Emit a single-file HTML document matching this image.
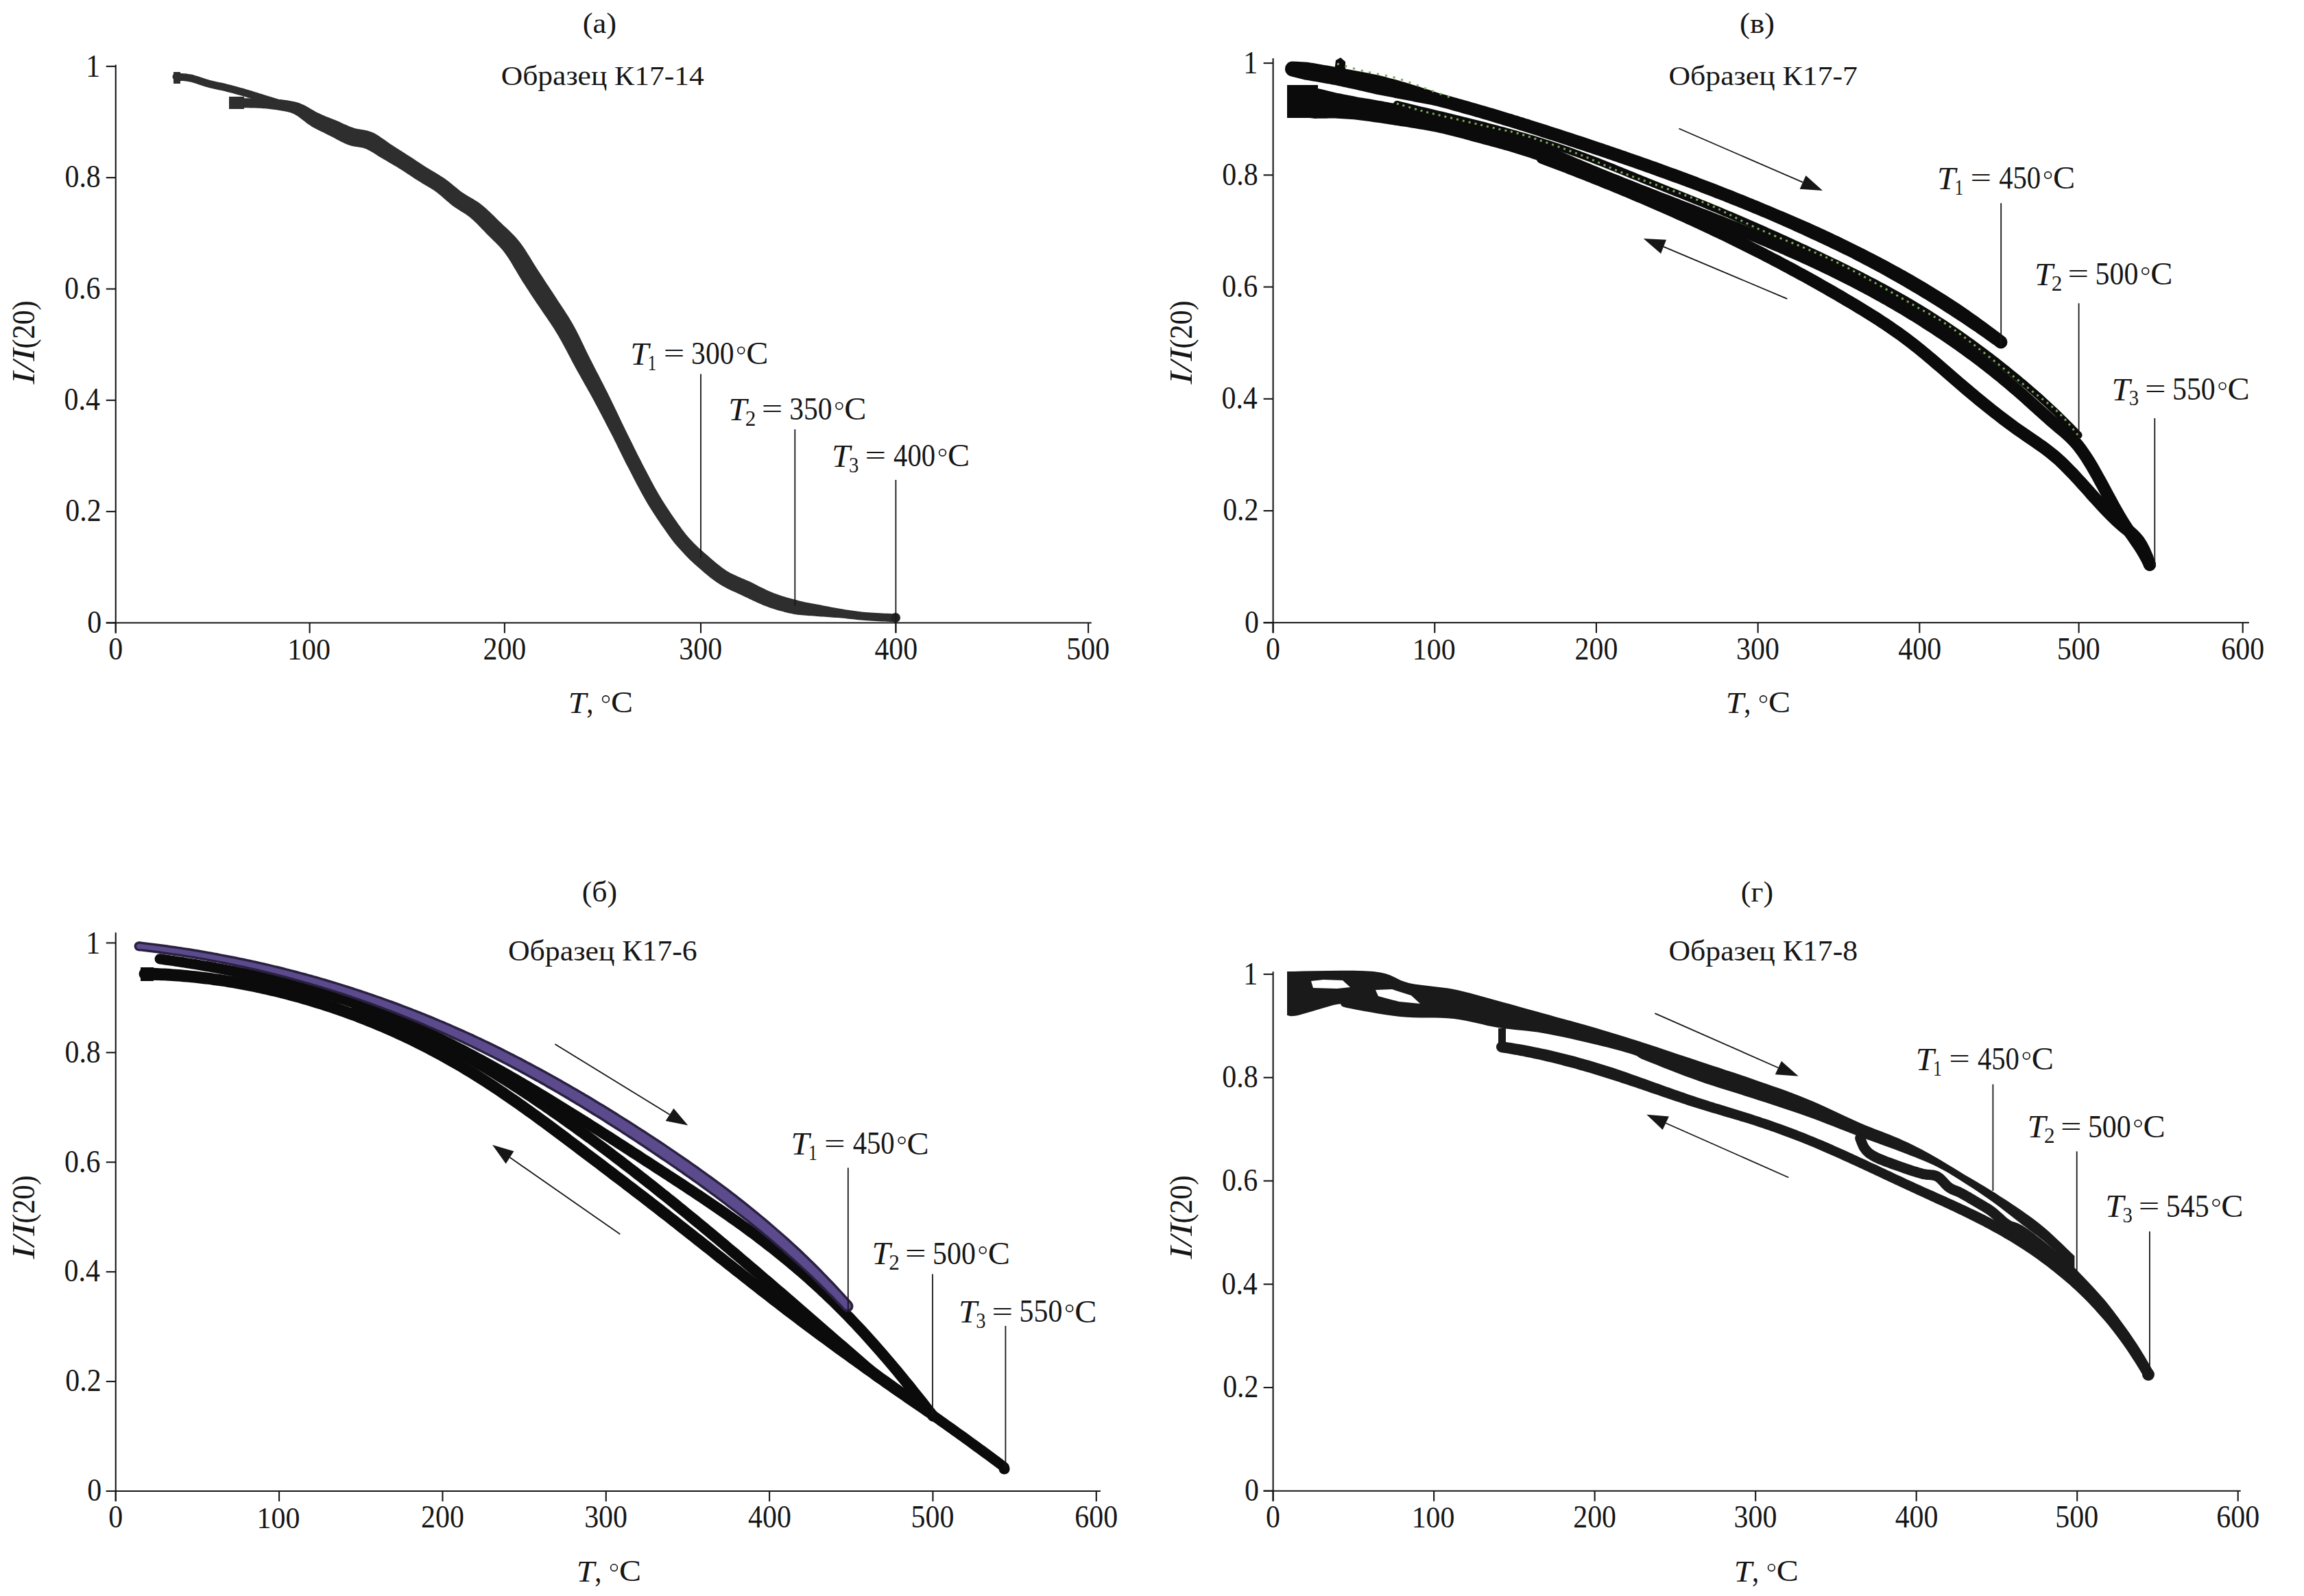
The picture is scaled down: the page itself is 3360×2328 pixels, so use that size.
<!DOCTYPE html>
<html><head><meta charset="utf-8"><style>
html,body{margin:0;padding:0;background:#fff;}
svg{display:block;}
text{font-family:"Liberation Serif",serif;fill:#161616;}
</style></head><body>
<svg xmlns="http://www.w3.org/2000/svg" width="3360" height="2328" viewBox="0 0 3360 2328">
<rect width="3360" height="2328" fill="#fff"/>
<rect x="253" y="105" width="10" height="17" fill="#2e2e2e"/>
<path d="M256.6,117.5 L257.6,117.6 L258.9,117.6 L260.4,117.7 L262.0,117.8 L263.7,117.9 L265.5,118.0 L267.4,118.1 L269.3,118.3 L271.3,118.5 L273.2,118.7 L275.1,119.0 L276.9,119.4 L278.7,119.8 L280.6,120.3 L282.6,120.9 L284.6,121.5 L286.8,122.2 L288.9,123.0 L291.2,123.7 L293.4,124.5 L295.7,125.2 L298.0,126.0 L300.3,126.7 L302.6,127.3 L304.8,127.9 L307.0,128.4 L309.3,129.0 L311.5,129.5 L313.7,130.0 L315.8,130.4 L318.0,130.9 L320.2,131.4 L322.3,131.8 L324.4,132.3 L326.6,132.8 L328.7,133.3 L330.8,133.9 L333.0,134.4 L335.1,135.0 L337.3,135.5 L339.4,136.1 L341.6,136.7 L343.7,137.3 L345.9,137.9 L348.0,138.5 L350.2,139.1 L352.3,139.7 L354.5,140.3 L356.6,140.9 L358.8,141.5 L360.9,142.2 L363.0,142.8 L365.2,143.5 L367.4,144.2 L369.5,144.9 L371.7,145.5 L373.9,146.2 L376.0,146.9 L378.2,147.6 L380.4,148.3 L382.6,148.9 L385.0,149.7 L387.5,150.4 L390.0,151.2 L392.5,152.0 L395.0,152.8 L397.4,153.5 L399.6,154.2 L401.7,154.8 L403.6,155.4 L405.1,155.9 L406.4,156.3 L409.6,145.7 L408.4,145.4 L406.8,144.9 L404.9,144.3 L402.9,143.7 L400.6,143.0 L398.2,142.2 L395.8,141.5 L393.2,140.7 L390.7,139.9 L388.3,139.2 L385.9,138.4 L383.6,137.7 L381.5,137.1 L379.3,136.4 L377.1,135.7 L375.0,135.0 L372.8,134.4 L370.6,133.7 L368.5,133.0 L366.3,132.3 L364.1,131.7 L361.9,131.0 L359.7,130.4 L357.5,129.7 L355.3,129.1 L353.2,128.5 L351.0,127.9 L348.8,127.3 L346.6,126.7 L344.4,126.1 L342.2,125.5 L340.1,124.9 L337.9,124.3 L335.7,123.8 L333.5,123.2 L331.3,122.7 L329.1,122.1 L326.9,121.6 L324.7,121.1 L322.5,120.6 L320.3,120.2 L318.2,119.7 L316.0,119.2 L313.9,118.7 L311.7,118.3 L309.6,117.8 L307.5,117.2 L305.4,116.7 L303.4,116.1 L301.2,115.5 L299.1,114.8 L296.9,114.0 L294.7,113.3 L292.4,112.5 L290.2,111.8 L288.0,111.1 L285.7,110.4 L283.5,109.7 L281.3,109.1 L279.1,108.6 L277.0,108.2 L274.7,107.9 L272.5,107.6 L270.4,107.3 L268.3,107.2 L266.2,107.0 L264.3,106.9 L262.5,106.8 L260.9,106.7 L259.5,106.7 L258.4,106.6 L257.4,106.5Z" fill="#2e2e2e"/>
<circle cx="257.0" cy="112.0" r="5.5" fill="#2e2e2e"/>
<circle cx="408.0" cy="151.0" r="5.5" fill="#2e2e2e"/>
<rect x="334" y="141" width="22" height="18" fill="#2e2e2e"/>
<path d="M344.8,157.0 L346.7,157.0 L349.0,157.1 L351.8,157.1 L354.9,157.2 L358.2,157.2 L361.7,157.3 L365.3,157.4 L368.9,157.5 L372.4,157.6 L375.8,157.7 L378.8,157.8 L381.6,158.0 L384.0,158.2 L386.4,158.3 L388.6,158.5 L390.8,158.7 L392.8,159.0 L394.8,159.2 L396.8,159.4 L398.8,159.7 L400.8,160.0 L402.8,160.3 L404.8,160.6 L406.9,160.9 L409.1,161.3 L411.4,161.7 L413.8,162.1 L416.3,162.6 L418.8,163.1 L421.2,163.6 L423.6,164.0 L425.9,164.5 L427.9,164.9 L429.8,165.3 L431.4,165.6 L432.6,165.9 L435.4,152.1 L434.1,151.9 L432.6,151.6 L430.7,151.2 L428.7,150.8 L426.4,150.3 L424.0,149.8 L421.5,149.3 L419.0,148.8 L416.4,148.3 L413.9,147.9 L411.4,147.5 L409.1,147.1 L406.9,146.8 L404.8,146.4 L402.8,146.1 L400.7,145.8 L398.6,145.6 L396.5,145.3 L394.4,145.1 L392.2,144.8 L389.9,144.6 L387.5,144.4 L385.1,144.2 L382.4,144.0 L379.5,143.9 L376.3,143.7 L372.9,143.6 L369.3,143.5 L365.7,143.4 L362.0,143.3 L358.5,143.2 L355.1,143.2 L352.0,143.1 L349.3,143.1 L347.0,143.0 L345.2,143.0Z" fill="#2e2e2e"/>
<circle cx="345.0" cy="150.0" r="7.0" fill="#2e2e2e"/>
<circle cx="434.0" cy="159.0" r="7.0" fill="#2e2e2e"/>
<path d="M406.3,158.8 L407.6,159.3 L409.3,159.8 L411.1,160.4 L413.1,161.0 L415.3,161.6 L417.6,162.3 L419.9,163.0 L422.2,163.8 L424.5,164.6 L426.6,165.5 L428.6,166.3 L430.4,167.2 L432.0,168.2 L433.8,169.3 L435.6,170.6 L437.5,172.0 L439.4,173.4 L441.4,175.0 L443.5,176.6 L445.6,178.2 L447.8,179.9 L450.0,181.5 L452.4,183.1 L454.7,184.7 L457.1,186.0 L459.4,187.2 L461.7,188.4 L463.9,189.6 L466.1,190.7 L468.3,191.8 L470.5,192.8 L472.7,193.8 L474.8,194.9 L476.9,195.9 L478.9,196.9 L481.0,197.9 L483.0,198.9 L485.0,200.0 L487.0,201.1 L489.2,202.3 L491.3,203.4 L493.5,204.6 L495.7,205.8 L498.0,206.9 L500.4,208.1 L502.8,209.2 L505.2,210.3 L507.8,211.3 L510.6,212.2 L513.4,212.9 L516.0,213.4 L518.5,213.9 L520.8,214.3 L523.0,214.6 L525.0,214.9 L526.9,215.2 L528.6,215.6 L530.1,216.0 L531.6,216.4 L533.0,217.0 L534.6,217.6 L536.3,218.4 L538.1,219.3 L540.0,220.4 L542.0,221.5 L544.1,222.8 L546.2,224.1 L548.4,225.5 L550.7,226.9 L552.9,228.4 L555.3,229.8 L557.7,231.2 L559.9,232.5 L562.1,233.8 L564.3,235.1 L566.5,236.4 L568.7,237.7 L570.9,239.0 L573.0,240.2 L575.2,241.5 L577.4,242.8 L579.5,244.1 L581.7,245.4 L583.8,246.7 L585.9,248.1 L588.1,249.4 L590.2,250.8 L592.3,252.2 L594.5,253.7 L596.6,255.1 L598.8,256.5 L601.0,258.0 L603.2,259.4 L605.4,260.9 L607.6,262.3 L609.9,263.7 L612.1,265.1 L614.4,266.5 L616.7,267.9 L618.9,269.2 L621.0,270.4 L623.2,271.7 L625.3,272.9 L627.3,274.2 L629.4,275.4 L631.4,276.7 L633.4,278.0 L635.3,279.4 L637.2,280.8 L639.2,282.4 L641.2,284.0 L643.2,285.7 L645.3,287.5 L647.4,289.4 L649.5,291.3 L651.7,293.2 L654.0,295.1 L656.2,297.0 L658.6,298.9 L660.9,300.7 L663.4,302.5 L665.8,304.1 L668.1,305.6 L670.4,307.1 L672.6,308.4 L674.7,309.8 L676.8,311.1 L678.8,312.3 L680.7,313.6 L682.5,314.9 L684.4,316.3 L686.2,317.7 L688.0,319.4 L690.0,321.1 L691.9,322.9 L693.9,324.8 L695.9,326.8 L698.0,328.9 L700.0,331.0 L702.1,333.2 L704.3,335.4 L706.4,337.6 L708.6,339.9 L710.8,342.2 L713.1,344.5 L715.4,346.8 L717.7,349.0 L719.9,351.2 L722.1,353.3 L724.2,355.4 L726.3,357.6 L728.4,359.8 L730.4,362.0 L732.4,364.3 L734.4,366.7 L736.3,369.2 L738.2,371.9 L740.2,374.8 L742.3,378.0 L744.4,381.3 L746.5,384.8 L748.6,388.4 L750.7,392.0 L752.9,395.6 L755.0,399.2 L757.1,402.8 L759.2,406.2 L761.2,409.5 L763.1,412.5 L765.0,415.3 L766.7,418.0 L768.3,420.5 L770.0,423.0 L771.6,425.4 L773.2,427.9 L774.8,430.4 L776.5,432.9 L778.3,435.7 L780.2,438.6 L782.3,441.7 L784.6,445.1 L787.0,448.6 L789.5,452.2 L792.0,455.9 L794.6,459.7 L797.3,463.5 L799.9,467.4 L802.5,471.3 L805.1,475.2 L807.6,479.1 L810.0,483.0 L812.3,486.8 L814.6,490.6 L816.8,494.5 L819.1,498.4 L821.2,502.4 L823.4,506.5 L825.6,510.6 L827.8,514.7 L830.0,518.9 L832.2,523.1 L834.4,527.4 L836.6,531.6 L838.9,535.8 L841.2,540.0 L843.6,544.2 L845.9,548.3 L848.2,552.4 L850.5,556.6 L852.8,560.7 L855.2,564.8 L857.5,568.9 L859.8,573.0 L862.0,577.1 L864.3,581.2 L866.5,585.3 L868.7,589.4 L870.9,593.5 L873.0,597.6 L875.2,601.7 L877.4,605.8 L879.5,609.9 L881.7,614.0 L883.8,618.2 L885.9,622.3 L888.1,626.4 L890.2,630.6 L892.4,634.7 L894.5,638.8 L896.5,643.0 L898.6,647.1 L900.6,651.3 L902.7,655.4 L904.7,659.6 L906.8,663.8 L908.9,668.0 L911.0,672.2 L913.1,676.4 L915.3,680.6 L917.5,684.8 L919.7,689.1 L921.9,693.3 L924.1,697.7 L926.4,702.0 L928.7,706.4 L931.0,710.7 L933.3,715.1 L935.7,719.5 L938.1,723.8 L940.5,728.0 L942.9,732.3 L945.4,736.4 L947.9,740.6 L950.6,744.7 L953.3,748.9 L956.0,753.1 L958.7,757.2 L961.5,761.3 L964.1,765.2 L966.8,769.0 L969.3,772.6 L971.7,776.0 L974.0,779.2 L976.1,782.2 L978.0,784.8 L979.8,787.2 L981.5,789.4 L983.1,791.4 L984.5,793.2 L986.0,794.9 L987.3,796.5 L988.7,798.0 L990.0,799.5 L991.4,801.0 L992.8,802.5 L994.3,804.2 L995.8,805.8 L997.3,807.5 L998.8,809.1 L1000.3,810.7 L1001.9,812.3 L1003.4,813.9 L1005.1,815.5 L1006.7,817.2 L1008.5,818.8 L1010.4,820.6 L1012.4,822.4 L1014.5,824.3 L1016.7,826.2 L1019.1,828.3 L1021.6,830.5 L1024.2,832.8 L1027.0,835.2 L1029.8,837.6 L1032.8,840.0 L1035.8,842.4 L1038.8,844.7 L1041.9,847.0 L1045.0,849.2 L1048.1,851.3 L1051.2,853.2 L1054.3,855.1 L1057.5,856.8 L1060.6,858.4 L1063.7,859.9 L1066.7,861.4 L1069.7,862.8 L1072.7,864.1 L1075.6,865.4 L1078.5,866.8 L1081.3,868.1 L1084.1,869.4 L1086.9,870.7 L1089.8,872.0 L1092.6,873.4 L1095.5,874.8 L1098.4,876.2 L1101.4,877.5 L1104.3,878.9 L1107.3,880.3 L1110.4,881.6 L1113.4,882.9 L1116.6,884.1 L1119.7,885.3 L1122.8,886.4 L1126.0,887.5 L1129.1,888.5 L1132.3,889.4 L1135.5,890.4 L1138.6,891.3 L1141.8,892.1 L1144.9,892.9 L1148.0,893.7 L1151.1,894.4 L1154.2,895.1 L1157.2,895.8 L1160.3,896.2 L1163.4,896.7 L1166.4,897.0 L1169.3,897.3 L1172.2,897.6 L1175.1,897.8 L1177.9,898.0 L1180.7,898.2 L1183.5,898.3 L1186.3,898.5 L1189.0,898.7 L1191.9,898.9 L1194.7,899.2 L1197.7,899.4 L1200.6,899.6 L1203.6,899.8 L1206.5,900.0 L1209.5,900.3 L1212.5,900.5 L1215.5,900.7 L1218.4,900.9 L1221.4,901.1 L1224.3,901.3 L1227.2,901.5 L1230.0,901.8 L1232.8,902.1 L1235.5,902.4 L1238.2,902.7 L1240.9,903.0 L1243.7,903.3 L1246.4,903.6 L1249.3,903.9 L1252.2,904.2 L1255.2,904.5 L1258.3,904.7 L1261.5,905.0 L1265.0,905.2 L1268.9,905.5 L1273.0,905.8 L1277.2,906.0 L1281.5,906.2 L1285.8,906.4 L1290.0,906.6 L1293.9,906.8 L1297.6,907.0 L1300.8,907.2 L1303.5,907.3 L1305.7,907.4 L1306.3,895.4 L1304.1,895.3 L1301.4,895.2 L1298.1,895.0 L1294.5,894.8 L1290.6,894.7 L1286.4,894.5 L1282.2,894.2 L1277.9,894.0 L1273.7,893.8 L1269.6,893.5 L1265.9,893.3 L1262.5,893.0 L1259.4,892.7 L1256.4,892.4 L1253.5,892.0 L1250.7,891.7 L1247.9,891.3 L1245.2,890.9 L1242.5,890.5 L1239.9,890.2 L1237.2,889.8 L1234.4,889.4 L1231.7,888.9 L1228.8,888.5 L1225.9,888.0 L1223.0,887.5 L1220.2,887.0 L1217.2,886.4 L1214.3,885.9 L1211.4,885.4 L1208.5,884.8 L1205.6,884.3 L1202.7,883.7 L1199.8,883.2 L1197.0,882.6 L1194.1,882.1 L1191.3,881.5 L1188.5,881.0 L1185.7,880.5 L1182.9,880.0 L1180.2,879.5 L1177.6,879.0 L1174.9,878.4 L1172.3,877.9 L1169.7,877.3 L1167.0,876.7 L1164.4,876.0 L1161.8,875.2 L1159.0,874.6 L1156.1,873.8 L1153.3,873.1 L1150.4,872.3 L1147.5,871.5 L1144.6,870.6 L1141.7,869.7 L1138.8,868.8 L1135.9,867.8 L1133.1,866.8 L1130.3,865.8 L1127.5,864.7 L1124.8,863.6 L1122.1,862.5 L1119.4,861.2 L1116.6,860.0 L1113.9,858.6 L1111.1,857.3 L1108.3,855.9 L1105.5,854.4 L1102.7,853.0 L1099.8,851.5 L1096.9,850.1 L1093.9,848.6 L1090.9,847.2 L1087.8,845.9 L1084.8,844.6 L1081.8,843.4 L1078.9,842.1 L1076.0,840.9 L1073.2,839.6 L1070.4,838.3 L1067.7,837.0 L1065.0,835.7 L1062.5,834.2 L1059.9,832.7 L1057.4,831.1 L1054.8,829.2 L1052.1,827.2 L1049.4,825.1 L1046.7,822.9 L1043.9,820.7 L1041.3,818.4 L1038.6,816.2 L1036.0,813.9 L1033.6,811.7 L1031.2,809.7 L1028.9,807.7 L1026.8,805.9 L1024.9,804.3 L1023.2,802.8 L1021.5,801.3 L1019.9,799.9 L1018.4,798.5 L1016.9,797.1 L1015.5,795.7 L1014.1,794.3 L1012.7,792.9 L1011.2,791.4 L1009.7,789.8 L1008.2,788.3 L1006.8,786.8 L1005.5,785.4 L1004.3,784.0 L1003.1,782.7 L1002.0,781.3 L1000.7,779.9 L999.5,778.3 L998.1,776.6 L996.6,774.6 L994.9,772.4 L993.1,769.8 L991.1,767.0 L988.8,763.9 L986.5,760.5 L984.0,757.0 L981.4,753.3 L978.8,749.5 L976.2,745.5 L973.5,741.6 L970.9,737.5 L968.3,733.5 L965.8,729.5 L963.4,725.6 L961.1,721.7 L958.7,717.6 L956.4,713.5 L954.1,709.4 L951.8,705.1 L949.5,700.9 L947.3,696.6 L945.0,692.3 L942.8,688.0 L940.5,683.7 L938.3,679.4 L936.1,675.2 L934.0,671.0 L931.8,666.8 L929.7,662.7 L927.7,658.6 L925.6,654.4 L923.6,650.3 L921.5,646.1 L919.5,642.0 L917.4,637.8 L915.4,633.7 L913.3,629.5 L911.2,625.3 L909.2,621.1 L907.2,616.9 L905.2,612.7 L903.2,608.5 L901.2,604.3 L899.2,600.1 L897.2,595.9 L895.2,591.7 L893.1,587.4 L891.1,583.2 L889.0,579.0 L886.9,574.7 L884.8,570.5 L882.6,566.2 L880.5,562.0 L878.3,557.7 L876.1,553.5 L874.0,549.3 L871.8,545.1 L869.6,540.9 L867.5,536.7 L865.3,532.5 L863.2,528.3 L861.1,524.2 L859.0,520.0 L857.0,515.9 L854.9,511.7 L852.9,507.4 L850.9,503.2 L848.8,498.9 L846.7,494.6 L844.6,490.3 L842.5,486.0 L840.3,481.7 L838.0,477.4 L835.7,473.2 L833.2,469.0 L830.7,464.8 L828.1,460.6 L825.4,456.4 L822.8,452.3 L820.1,448.2 L817.5,444.3 L814.9,440.4 L812.5,436.7 L810.1,433.1 L807.8,429.6 L805.7,426.3 L803.7,423.2 L801.7,420.3 L799.9,417.5 L798.2,414.9 L796.5,412.4 L794.9,410.0 L793.3,407.6 L791.7,405.1 L790.1,402.6 L788.4,400.1 L786.6,397.3 L784.8,394.5 L782.9,391.5 L780.8,388.3 L778.8,384.9 L776.6,381.4 L774.4,377.8 L772.1,374.1 L769.8,370.4 L767.5,366.7 L765.1,363.1 L762.7,359.5 L760.2,356.1 L757.7,352.8 L755.2,349.7 L752.7,346.8 L750.2,344.0 L747.7,341.4 L745.2,338.9 L742.8,336.6 L740.4,334.3 L738.0,332.1 L735.7,330.0 L733.5,327.9 L731.3,325.8 L729.2,323.8 L727.0,321.7 L724.8,319.5 L722.6,317.3 L720.4,315.1 L718.2,312.9 L715.9,310.7 L713.6,308.6 L711.3,306.4 L709.0,304.3 L706.7,302.3 L704.3,300.2 L701.8,298.3 L699.3,296.3 L696.8,294.6 L694.3,293.0 L691.9,291.5 L689.6,290.1 L687.3,288.7 L685.1,287.5 L683.0,286.3 L680.9,285.0 L678.9,283.8 L677.0,282.6 L675.1,281.3 L673.1,279.9 L671.1,278.4 L669.0,276.7 L666.9,275.0 L664.8,273.3 L662.6,271.5 L660.4,269.7 L658.1,267.8 L655.8,266.0 L653.5,264.1 L651.1,262.4 L648.7,260.6 L646.3,259.0 L643.9,257.4 L641.6,255.9 L639.3,254.5 L637.1,253.2 L634.8,251.8 L632.6,250.6 L630.5,249.3 L628.3,248.0 L626.3,246.8 L624.2,245.6 L622.1,244.3 L620.1,242.9 L617.9,241.6 L615.8,240.2 L613.7,238.8 L611.5,237.3 L609.4,235.9 L607.2,234.5 L605.0,233.0 L602.8,231.6 L600.6,230.1 L598.4,228.7 L596.2,227.3 L594.0,225.9 L591.8,224.4 L589.6,223.0 L587.4,221.7 L585.3,220.3 L583.1,218.9 L581.0,217.5 L578.8,216.2 L576.7,214.8 L574.5,213.5 L572.4,212.1 L570.3,210.8 L568.4,209.5 L566.4,208.1 L564.3,206.6 L562.3,205.1 L560.1,203.5 L557.9,202.0 L555.6,200.4 L553.3,198.8 L550.9,197.3 L548.4,195.8 L545.8,194.3 L543.0,193.0 L540.1,191.9 L537.2,191.0 L534.4,190.3 L531.8,189.7 L529.3,189.3 L527.0,188.9 L524.8,188.6 L522.8,188.3 L521.0,187.9 L519.3,187.6 L517.7,187.2 L516.2,186.7 L514.4,186.1 L512.6,185.5 L510.6,184.7 L508.6,183.9 L506.6,183.1 L504.5,182.1 L502.4,181.2 L500.2,180.2 L498.0,179.2 L495.7,178.1 L493.4,177.1 L491.0,176.1 L488.7,175.1 L486.5,174.2 L484.2,173.3 L482.0,172.5 L479.8,171.6 L477.7,170.7 L475.5,169.9 L473.4,169.0 L471.3,168.1 L469.3,167.2 L467.2,166.3 L465.3,165.3 L463.3,164.4 L461.3,163.4 L459.2,162.3 L457.1,161.1 L454.9,159.7 L452.6,158.4 L450.3,157.0 L447.9,155.7 L445.4,154.3 L442.9,153.1 L440.3,151.9 L437.6,150.8 L434.9,149.8 L432.1,149.0 L429.3,148.3 L426.5,147.7 L423.8,147.2 L421.2,146.7 L418.7,146.3 L416.3,146.0 L414.2,145.7 L412.4,145.5 L410.9,145.3 L409.7,145.2Z" fill="#2e2e2e"/>
<circle cx="408.0" cy="152.0" r="7.0" fill="#2e2e2e"/>
<circle cx="1306.0" cy="901.4" r="6.0" fill="#2e2e2e"/>
<circle cx="1306" cy="901" r="7" fill="#222"/>
<path d="M1883.4,111.4 L1887.3,112.4 L1891.3,113.5 L1895.2,114.5 L1899.1,115.5 L1903.0,116.5 L1907.0,117.1 L1911.0,117.8 L1915.0,118.4 L1919.0,119.1 L1923.0,119.8 L1927.0,120.5 L1930.9,121.2 L1934.9,121.9 L1938.9,122.6 L1942.9,123.4 L1946.9,124.1 L1950.9,125.0 L1954.8,125.8 L1958.8,126.7 L1962.8,127.5 L1966.8,128.4 L1970.8,129.2 L1974.7,130.1 L1978.7,131.0 L1982.7,131.9 L1986.7,132.8 L1990.6,133.8 L1994.6,134.7 L1998.6,135.6 L2002.6,136.6 L2006.6,137.4 L2010.6,138.2 L2014.6,139.0 L2018.6,139.7 L2022.6,140.5 L2026.7,141.3 L2030.7,142.1 L2034.7,143.0 L2038.8,143.7 L2042.8,144.5 L2046.9,145.3 L2050.9,146.0 L2055.0,146.8 L2059.0,147.6 L2063.0,148.4 L2067.1,149.2 L2071.2,150.0 L2075.2,150.7 L2079.3,151.5 L2083.4,152.3 L2087.5,153.1 L2091.5,153.9 L2095.6,154.8 L2099.6,155.9 L2103.6,157.0 L2107.6,158.0 L2111.6,159.1 L2115.6,160.2 L2119.6,161.4 L2123.6,162.5 L2127.6,163.6 L2131.6,164.7 L2135.6,165.9 L2139.6,167.0 L2143.6,168.1 L2147.7,169.3 L2151.7,170.5 L2155.7,171.6 L2159.7,172.8 L2163.7,174.0 L2167.7,175.1 L2171.7,176.3 L2175.7,177.5 L2179.7,178.7 L2183.7,179.9 L2187.7,181.1 L2191.7,182.4 L2195.7,183.6 L2199.8,184.8 L2203.8,186.0 L2207.8,187.3 L2211.8,188.5 L2215.8,189.8 L2219.8,191.0 L2223.8,192.3 L2227.8,193.5 L2231.8,194.8 L2235.8,196.0 L2239.9,197.3 L2243.9,198.6 L2247.9,199.9 L2251.9,201.2 L2255.9,202.4 L2259.9,203.7 L2263.9,205.0 L2267.9,206.3 L2271.9,207.6 L2276.0,208.9 L2280.0,210.3 L2284.0,211.6 L2288.0,212.9 L2292.0,214.2 L2296.0,215.5 L2300.0,216.9 L2304.1,218.2 L2308.1,219.5 L2312.1,220.9 L2316.1,222.2 L2320.1,223.5 L2324.1,224.9 L2328.1,226.2 L2332.1,227.6 L2336.2,228.9 L2340.2,230.3 L2344.2,231.7 L2348.2,233.0 L2352.2,234.4 L2356.2,235.8 L2360.2,237.2 L2364.2,238.5 L2368.2,239.9 L2372.3,241.3 L2376.3,242.7 L2380.3,244.1 L2384.3,245.5 L2388.3,246.9 L2392.3,248.3 L2396.3,249.7 L2400.3,251.2 L2404.3,252.6 L2408.4,254.0 L2412.4,255.5 L2416.4,256.9 L2420.4,258.4 L2424.4,259.8 L2428.4,261.3 L2432.4,262.7 L2436.4,264.2 L2440.4,265.7 L2444.4,267.1 L2448.4,268.6 L2452.5,270.1 L2456.5,271.6 L2460.5,273.1 L2464.5,274.6 L2468.5,276.1 L2472.5,277.6 L2476.5,279.1 L2480.5,280.7 L2484.5,282.2 L2488.5,283.7 L2492.5,285.3 L2496.5,286.8 L2500.5,288.4 L2504.6,290.0 L2508.6,291.5 L2512.6,293.1 L2516.6,294.7 L2520.6,296.3 L2524.6,297.9 L2528.6,299.5 L2532.6,301.1 L2536.6,302.7 L2540.6,304.3 L2544.6,306.0 L2548.6,307.6 L2552.6,309.3 L2556.6,310.9 L2560.6,312.6 L2564.7,314.2 L2568.7,315.9 L2572.7,317.6 L2576.7,319.3 L2580.7,321.0 L2584.7,322.7 L2588.7,324.4 L2592.7,326.2 L2596.7,327.9 L2600.6,329.7 L2604.6,331.5 L2608.6,333.3 L2612.6,335.1 L2616.6,336.9 L2620.6,338.7 L2624.6,340.5 L2628.6,342.3 L2632.5,344.2 L2636.5,346.0 L2640.5,347.9 L2644.5,349.7 L2648.5,351.5 L2652.5,353.4 L2656.5,355.3 L2660.5,357.2 L2664.5,359.1 L2668.5,361.0 L2672.5,362.9 L2676.5,364.8 L2680.5,366.7 L2684.5,368.7 L2688.5,370.7 L2692.5,372.6 L2696.5,374.6 L2700.5,376.6 L2704.4,378.7 L2708.4,380.7 L2712.4,382.8 L2716.4,384.9 L2720.4,387.0 L2724.4,389.1 L2728.4,391.2 L2732.3,393.3 L2736.3,395.5 L2740.3,397.6 L2744.3,399.8 L2748.3,402.0 L2752.2,404.2 L2756.2,406.5 L2760.2,408.7 L2764.2,411.0 L2768.2,413.2 L2772.1,415.5 L2776.1,417.8 L2780.1,420.2 L2784.1,422.5 L2788.1,424.9 L2792.1,427.2 L2796.0,429.6 L2800.0,432.0 L2804.0,434.4 L2808.0,436.8 L2812.0,439.3 L2816.0,441.8 L2820.0,444.3 L2824.0,446.8 L2828.0,449.3 L2831.9,451.8 L2835.9,454.4 L2839.9,457.0 L2843.9,459.6 L2847.9,462.2 L2851.9,464.8 L2856.0,467.4 L2860.0,470.1 L2864.0,472.8 L2868.0,475.4 L2872.0,478.2 L2876.1,480.9 L2880.1,483.6 L2884.1,486.4 L2888.1,489.2 L2892.2,492.1 L2896.2,494.9 L2900.2,497.8 L2904.2,500.7 L2908.3,503.6 L2912.3,506.6 L2923.7,491.4 L2919.7,488.3 L2915.7,485.2 L2911.7,482.2 L2907.7,479.2 L2903.6,476.2 L2899.6,473.2 L2895.6,470.3 L2891.6,467.4 L2887.6,464.5 L2883.6,461.6 L2879.5,458.7 L2875.5,455.9 L2871.5,453.1 L2867.5,450.3 L2863.5,447.5 L2859.5,444.8 L2855.4,442.1 L2851.4,439.4 L2847.3,436.8 L2843.3,434.2 L2839.2,431.6 L2835.2,429.0 L2831.1,426.5 L2827.1,423.9 L2823.0,421.4 L2819.0,418.9 L2814.9,416.5 L2810.9,414.0 L2806.8,411.6 L2802.8,409.2 L2798.7,406.8 L2794.7,404.4 L2790.6,402.1 L2786.6,399.7 L2782.5,397.4 L2778.4,395.1 L2774.4,392.9 L2770.3,390.6 L2766.3,388.4 L2762.2,386.2 L2758.1,384.0 L2754.1,381.8 L2750.0,379.6 L2746.0,377.4 L2741.9,375.3 L2737.9,373.2 L2733.8,371.1 L2729.7,369.0 L2725.7,366.9 L2721.6,364.8 L2717.6,362.8 L2713.5,360.7 L2709.5,358.7 L2705.4,356.7 L2701.4,354.7 L2697.3,352.7 L2693.3,350.7 L2689.2,348.8 L2685.2,346.8 L2681.2,344.8 L2677.1,342.9 L2673.1,341.0 L2669.0,339.1 L2665.0,337.2 L2661.0,335.3 L2656.9,333.4 L2652.9,331.5 L2648.8,329.7 L2644.8,327.9 L2640.7,326.1 L2636.7,324.3 L2632.6,322.5 L2628.6,320.7 L2624.5,319.0 L2620.5,317.2 L2616.4,315.5 L2612.4,313.7 L2608.3,312.0 L2604.3,310.3 L2600.2,308.6 L2596.2,306.9 L2592.1,305.2 L2588.1,303.5 L2584.1,301.8 L2580.0,300.1 L2576.0,298.4 L2572.0,296.7 L2567.9,295.0 L2563.9,293.3 L2559.9,291.7 L2555.8,290.0 L2551.8,288.4 L2547.8,286.7 L2543.7,285.1 L2539.7,283.5 L2535.7,281.9 L2531.6,280.2 L2527.6,278.6 L2523.6,277.0 L2519.5,275.4 L2515.5,273.9 L2511.5,272.3 L2507.4,270.7 L2503.4,269.1 L2499.4,267.6 L2495.4,266.0 L2491.3,264.5 L2487.3,262.9 L2483.3,261.4 L2479.2,259.9 L2475.2,258.3 L2471.2,256.8 L2467.1,255.3 L2463.1,253.8 L2459.1,252.3 L2455.0,250.8 L2451.0,249.3 L2447.0,247.8 L2443.0,246.3 L2438.9,244.9 L2434.9,243.4 L2430.9,241.9 L2426.8,240.5 L2422.8,239.0 L2418.8,237.6 L2414.7,236.1 L2410.7,234.7 L2406.7,233.3 L2402.7,231.8 L2398.6,230.4 L2394.6,229.0 L2390.6,227.6 L2386.5,226.2 L2382.5,224.8 L2378.5,223.4 L2374.5,222.0 L2370.4,220.6 L2366.4,219.2 L2362.4,217.8 L2358.4,216.4 L2354.3,215.0 L2350.3,213.7 L2346.3,212.3 L2342.2,210.9 L2338.2,209.6 L2334.2,208.2 L2330.2,206.9 L2326.1,205.5 L2322.1,204.2 L2318.1,202.8 L2314.1,201.5 L2310.0,200.1 L2306.0,198.8 L2302.0,197.5 L2298.0,196.2 L2293.9,194.8 L2289.9,193.5 L2285.9,192.2 L2281.9,190.9 L2277.8,189.6 L2273.8,188.3 L2269.8,187.0 L2265.7,185.7 L2261.7,184.4 L2257.7,183.1 L2253.7,181.8 L2249.6,180.5 L2245.6,179.2 L2241.6,177.9 L2237.6,176.7 L2233.5,175.4 L2229.5,174.1 L2225.5,172.9 L2221.4,171.6 L2217.4,170.4 L2213.4,169.1 L2209.3,167.9 L2205.3,166.6 L2201.3,165.4 L2197.3,164.2 L2193.2,163.0 L2189.2,161.7 L2185.2,160.5 L2181.1,159.3 L2177.1,158.1 L2173.1,156.9 L2169.0,155.7 L2165.0,154.6 L2161.0,153.4 L2156.9,152.2 L2152.9,151.0 L2148.9,149.9 L2144.9,148.7 L2140.8,147.6 L2136.8,146.4 L2132.8,145.3 L2128.7,144.2 L2124.7,143.0 L2120.7,141.9 L2116.6,140.8 L2112.6,139.7 L2108.6,138.6 L2104.5,137.5 L2100.5,136.4 L2096.5,135.2 L2092.5,133.9 L2088.6,132.6 L2084.6,131.3 L2080.6,130.0 L2076.6,128.7 L2072.7,127.4 L2068.7,126.1 L2064.7,124.9 L2060.7,123.7 L2056.7,122.5 L2052.7,121.3 L2048.7,120.1 L2044.7,118.9 L2040.8,117.7 L2036.7,116.6 L2032.7,115.5 L2028.7,114.5 L2024.7,113.4 L2020.7,112.3 L2016.7,111.3 L2012.6,110.2 L2008.6,109.3 L2004.5,108.5 L2000.5,107.7 L1996.4,106.8 L1992.4,106.0 L1988.3,105.3 L1984.2,104.5 L1980.2,103.7 L1976.1,102.9 L1972.0,102.2 L1968.0,101.4 L1963.9,100.7 L1959.9,100.0 L1955.8,99.3 L1951.7,98.6 L1947.7,97.8 L1943.6,97.1 L1939.6,96.3 L1935.5,95.6 L1931.5,94.9 L1927.4,94.2 L1923.4,93.5 L1919.3,92.8 L1915.3,92.1 L1911.2,91.4 L1907.2,90.8 L1903.1,90.4 L1898.9,90.2 L1894.8,90.0 L1890.7,89.8 L1886.6,89.7Z" fill="#0b0b0b"/>
<circle cx="1885.0" cy="100.5" r="11.0" fill="#0b0b0b"/>
<circle cx="2918.0" cy="499.0" r="9.5" fill="#0b0b0b"/>
<path d="M1946.0,104.0 L1948.0,88.0 L1955.0,84.0 L1962.0,90.0 L1962.0,104.0Z" fill="#0b0b0b"/>
<rect x="1877" y="124" width="45" height="48" fill="#0b0b0b"/>
<path d="M1878.2,169.2 L1882.2,169.5 L1886.2,169.9 L1890.1,170.2 L1894.1,170.6 L1898.1,171.0 L1902.1,171.3 L1906.1,171.7 L1910.1,172.1 L1914.0,172.5 L1918.0,172.9 L1922.1,172.8 L1926.1,172.8 L1930.1,172.7 L1934.2,172.7 L1938.2,172.6 L1942.3,172.6 L1946.3,172.6 L1950.3,172.8 L1954.4,173.0 L1958.4,173.3 L1962.4,173.5 L1966.4,173.8 L1970.5,174.0 L1974.5,174.3 L1978.5,174.7 L1982.5,175.2 L1986.5,175.8 L1990.5,176.3 L1994.5,176.8 L1998.5,177.3 L2002.5,177.9 L2006.5,178.5 L2010.5,179.0 L2014.5,179.6 L2018.5,180.2 L2022.5,180.8 L2026.5,181.4 L2030.5,182.1 L2034.5,182.7 L2038.5,183.3 L2042.5,183.9 L2046.6,184.5 L2050.6,185.1 L2054.6,185.7 L2058.6,186.4 L2062.6,187.0 L2066.6,187.7 L2070.7,188.4 L2074.7,189.1 L2078.7,189.8 L2082.7,190.5 L2086.7,191.2 L2090.7,192.0 L2094.8,192.8 L2098.7,193.7 L2102.7,194.6 L2106.7,195.5 L2110.7,196.5 L2114.7,197.4 L2118.7,198.4 L2122.7,199.4 L2126.7,200.4 L2130.6,201.5 L2134.6,202.6 L2138.6,203.7 L2142.6,204.8 L2146.5,206.0 L2150.5,207.1 L2154.5,208.1 L2158.5,209.1 L2162.5,210.2 L2166.5,211.2 L2170.5,212.3 L2174.6,213.4 L2178.6,214.4 L2182.6,215.6 L2186.6,216.7 L2190.6,217.8 L2194.6,219.0 L2198.6,220.1 L2202.7,221.3 L2206.7,222.5 L2210.7,223.7 L2214.7,225.0 L2218.7,226.2 L2222.7,227.5 L2226.8,228.8 L2230.8,230.1 L2234.8,231.4 L2238.8,232.7 L2242.8,234.0 L2246.9,235.4 L2250.9,236.7 L2254.9,238.1 L2259.0,239.5 L2263.0,240.8 L2267.0,242.3 L2271.1,243.7 L2275.1,245.1 L2279.1,246.6 L2283.2,248.1 L2287.2,249.6 L2291.3,251.1 L2295.3,252.6 L2299.3,254.2 L2303.3,255.9 L2307.3,257.5 L2311.3,259.2 L2315.3,260.9 L2319.3,262.6 L2323.3,264.4 L2327.3,266.1 L2331.3,267.9 L2335.4,269.7 L2339.4,271.5 L2343.4,273.4 L2347.4,275.2 L2351.4,277.1 L2355.4,279.0 L2359.4,280.9 L2363.4,282.8 L2367.4,284.7 L2371.4,286.7 L2375.4,288.7 L2379.4,290.7 L2383.5,292.7 L2392.5,274.9 L2388.5,272.8 L2384.4,270.7 L2380.4,268.7 L2376.3,266.6 L2372.3,264.6 L2368.2,262.6 L2364.2,260.6 L2360.1,258.7 L2356.1,256.7 L2352.0,254.8 L2347.9,252.9 L2343.9,251.0 L2339.8,249.2 L2335.8,247.3 L2331.7,245.5 L2327.7,243.7 L2323.6,241.9 L2319.5,240.1 L2315.5,238.3 L2311.4,236.6 L2307.4,234.9 L2303.3,233.1 L2299.3,231.4 L2295.3,229.6 L2291.2,227.9 L2287.2,226.1 L2283.2,224.4 L2279.2,222.7 L2275.1,221.1 L2271.1,219.4 L2267.1,217.8 L2263.0,216.1 L2259.0,214.5 L2255.0,212.9 L2250.9,211.4 L2246.9,209.8 L2242.9,208.3 L2238.8,206.8 L2234.8,205.3 L2230.7,203.9 L2226.7,202.4 L2222.6,201.0 L2218.6,199.6 L2214.5,198.2 L2210.5,196.8 L2206.4,195.4 L2202.4,194.1 L2198.3,192.7 L2194.3,191.4 L2190.2,190.1 L2186.2,188.8 L2182.1,187.5 L2178.1,186.2 L2174.0,185.0 L2170.0,183.7 L2165.9,182.5 L2161.9,181.3 L2157.8,180.1 L2153.7,179.1 L2149.6,178.0 L2145.5,177.0 L2141.5,176.1 L2137.4,175.1 L2133.3,174.1 L2129.2,173.2 L2125.1,172.2 L2121.0,171.2 L2117.0,170.2 L2112.9,169.2 L2108.8,168.3 L2104.7,167.4 L2100.7,166.4 L2096.6,165.5 L2092.6,164.4 L2088.5,163.4 L2084.5,162.4 L2080.4,161.4 L2076.4,160.4 L2072.4,159.5 L2068.3,158.5 L2064.3,157.6 L2060.2,156.7 L2056.2,155.7 L2052.1,154.8 L2048.1,153.9 L2044.0,153.1 L2040.0,152.2 L2035.9,151.4 L2031.8,150.6 L2027.8,149.9 L2023.7,149.1 L2019.7,148.4 L2015.6,147.6 L2011.5,146.9 L2007.5,146.2 L2003.4,145.5 L1999.3,144.8 L1995.3,144.1 L1991.2,143.5 L1987.1,142.8 L1983.1,142.2 L1979.0,141.5 L1975.0,140.6 L1971.0,139.8 L1966.9,139.0 L1962.9,138.2 L1958.8,137.4 L1954.8,136.6 L1950.8,135.9 L1946.7,134.9 L1942.7,133.9 L1938.7,133.0 L1934.7,132.0 L1930.7,131.1 L1926.6,130.1 L1922.6,129.2 L1918.5,128.8 L1914.4,128.3 L1910.4,127.9 L1906.3,127.5 L1902.2,127.2 L1898.1,126.8 L1894.1,126.4 L1890.0,126.1 L1885.9,125.7 L1881.8,125.4Z" fill="#0b0b0b"/>
<path d="M2245.3,226.7 L2249.3,228.6 L2253.4,230.4 L2257.4,232.2 L2261.5,234.0 L2265.5,235.8 L2269.6,237.5 L2273.6,239.3 L2277.6,241.0 L2281.7,242.8 L2285.7,244.5 L2289.8,246.3 L2293.8,248.0 L2297.9,249.7 L2301.9,251.4 L2305.9,253.1 L2310.0,254.8 L2314.0,256.4 L2318.1,258.1 L2322.1,259.8 L2326.1,261.4 L2330.2,263.1 L2334.2,264.7 L2338.2,266.4 L2342.3,268.0 L2346.3,269.6 L2350.4,271.2 L2354.4,272.9 L2358.4,274.5 L2362.5,276.1 L2366.5,277.7 L2370.5,279.3 L2374.6,280.9 L2378.6,282.5 L2382.6,284.0 L2386.7,285.6 L2390.7,287.2 L2394.7,288.8 L2398.8,290.4 L2402.8,291.9 L2406.8,293.5 L2410.9,295.1 L2414.9,296.6 L2418.9,298.2 L2422.9,299.8 L2427.0,301.3 L2431.0,302.9 L2435.0,304.5 L2439.1,306.0 L2443.1,307.6 L2447.1,309.1 L2451.1,310.7 L2455.2,312.3 L2459.2,313.8 L2463.2,315.4 L2467.2,317.0 L2471.3,318.5 L2475.3,320.1 L2479.3,321.7 L2483.3,323.3 L2487.3,324.8 L2491.4,326.4 L2495.4,328.0 L2499.4,329.6 L2503.4,331.2 L2507.4,332.8 L2511.5,334.4 L2515.5,336.0 L2519.5,337.6 L2523.5,339.2 L2527.5,340.8 L2531.6,342.5 L2535.6,344.1 L2539.6,345.7 L2543.6,347.4 L2547.6,349.0 L2551.6,350.7 L2555.7,352.3 L2559.7,354.0 L2563.7,355.7 L2567.7,357.4 L2571.7,359.1 L2575.7,360.8 L2579.7,362.5 L2583.7,364.2 L2587.8,365.9 L2591.8,367.6 L2595.8,369.4 L2599.8,371.1 L2603.8,372.9 L2607.8,374.7 L2611.8,376.4 L2615.8,378.2 L2619.8,380.0 L2623.8,381.8 L2627.9,383.7 L2631.9,385.5 L2635.9,387.3 L2639.9,389.2 L2643.9,391.1 L2647.9,393.0 L2651.9,394.8 L2655.9,396.8 L2659.9,398.7 L2663.9,400.6 L2667.9,402.6 L2671.9,404.5 L2675.9,406.5 L2679.9,408.5 L2683.9,410.5 L2687.9,412.5 L2691.9,414.5 L2695.9,416.6 L2699.9,418.6 L2704.0,420.7 L2708.0,422.8 L2712.0,424.9 L2716.0,427.0 L2720.0,429.2 L2724.0,431.3 L2728.0,433.5 L2732.0,435.7 L2736.0,437.9 L2740.0,440.1 L2744.0,442.4 L2748.0,444.6 L2752.0,446.9 L2756.0,449.2 L2760.0,451.5 L2764.0,453.9 L2768.0,456.2 L2772.0,458.6 L2776.0,461.0 L2780.0,463.4 L2784.0,465.9 L2788.0,468.3 L2792.0,470.8 L2796.0,473.3 L2799.9,475.8 L2803.9,478.4 L2807.9,480.9 L2811.9,483.5 L2815.9,486.1 L2819.9,488.8 L2823.9,491.4 L2827.9,494.1 L2831.9,496.8 L2835.9,499.5 L2839.9,502.2 L2843.9,505.0 L2847.9,507.8 L2851.9,510.6 L2855.9,513.5 L2859.9,516.3 L2863.9,519.2 L2867.9,522.2 L2871.9,525.1 L2875.9,528.1 L2879.9,531.1 L2883.9,534.1 L2887.9,537.2 L2891.9,540.3 L2895.9,543.4 L2899.9,546.5 L2903.9,549.7 L2907.8,552.9 L2911.8,556.1 L2915.8,559.4 L2919.8,562.7 L2923.8,566.1 L2927.8,569.4 L2931.8,572.9 L2935.8,576.3 L2939.8,579.8 L2943.8,583.3 L2947.8,586.8 L2951.8,590.4 L2955.8,594.0 L2959.8,597.7 L2963.8,601.3 L2967.9,605.0 L2971.9,608.6 L2976.0,612.2 L2980.0,615.8 L2984.1,619.4 L2988.2,623.0 L2992.3,626.5 L2996.3,629.9 L3000.3,633.2 L3004.3,636.5 L3008.2,639.9 L3012.0,643.4 L3015.8,647.2 L3019.6,651.2 L3023.3,655.5 L3027.1,660.4 L3030.9,665.7 L3034.8,671.5 L3038.7,677.7 L3042.7,684.2 L3046.6,691.1 L3050.6,698.1 L3054.6,705.4 L3058.6,712.8 L3062.6,720.2 L3066.7,727.7 L3070.7,735.2 L3074.8,742.6 L3078.8,749.9 L3082.9,757.0 L3087.0,763.8 L3091.2,770.5 L3095.3,776.7 L3099.4,782.7 L3103.5,788.5 L3107.4,794.2 L3111.4,800.0 L3115.3,806.0 L3119.1,812.5 L3123.0,819.6 L3126.9,827.6 L3143.1,819.7 L3139.0,811.3 L3134.8,803.6 L3130.6,796.6 L3126.4,790.1 L3122.3,784.0 L3118.2,778.1 L3114.2,772.4 L3110.2,766.7 L3106.3,760.7 L3102.4,754.5 L3098.5,747.9 L3094.5,741.0 L3090.5,733.9 L3086.5,726.6 L3082.5,719.2 L3078.5,711.7 L3074.5,704.2 L3070.4,696.8 L3066.3,689.4 L3062.3,682.2 L3058.2,675.1 L3054.1,668.3 L3049.9,661.7 L3045.7,655.5 L3041.5,649.6 L3037.3,644.1 L3033.0,639.1 L3028.7,634.6 L3024.4,630.4 L3020.2,626.5 L3016.0,622.9 L3011.9,619.4 L3007.9,616.1 L3003.9,612.7 L2999.9,609.3 L2995.9,605.9 L2992.0,602.4 L2988.0,598.8 L2984.0,595.2 L2979.9,591.6 L2975.9,588.0 L2971.9,584.3 L2967.9,580.7 L2963.8,577.0 L2959.8,573.4 L2955.7,569.8 L2951.6,566.2 L2947.6,562.7 L2943.5,559.2 L2939.5,555.7 L2935.4,552.3 L2931.3,548.9 L2927.3,545.5 L2923.2,542.2 L2919.2,538.9 L2915.1,535.6 L2911.0,532.4 L2907.0,529.2 L2902.9,526.0 L2898.9,522.9 L2894.8,519.8 L2890.7,516.7 L2886.7,513.7 L2882.6,510.6 L2878.6,507.6 L2874.5,504.7 L2870.4,501.7 L2866.4,498.8 L2862.3,495.9 L2858.3,493.1 L2854.2,490.2 L2850.1,487.4 L2846.1,484.6 L2842.0,481.9 L2838.0,479.1 L2833.9,476.4 L2829.9,473.7 L2825.8,471.1 L2821.7,468.4 L2817.7,465.8 L2813.6,463.2 L2809.6,460.6 L2805.5,458.1 L2801.5,455.5 L2797.4,453.0 L2793.4,450.5 L2789.3,448.0 L2785.2,445.6 L2781.2,443.2 L2777.1,440.8 L2773.1,438.4 L2769.0,436.0 L2765.0,433.6 L2760.9,431.3 L2756.9,429.0 L2752.8,426.7 L2748.7,424.4 L2744.7,422.2 L2740.6,419.9 L2736.6,417.7 L2732.5,415.5 L2728.5,413.3 L2724.4,411.2 L2720.4,409.0 L2716.3,406.9 L2712.3,404.7 L2708.2,402.6 L2704.2,400.6 L2700.1,398.5 L2696.1,396.4 L2692.0,394.4 L2688.0,392.4 L2683.9,390.4 L2679.9,388.4 L2675.8,386.4 L2671.8,384.4 L2667.7,382.5 L2663.7,380.5 L2659.6,378.6 L2655.6,376.7 L2651.5,374.8 L2647.5,372.9 L2643.4,371.0 L2639.4,369.1 L2635.3,367.3 L2631.3,365.4 L2627.2,363.6 L2623.2,361.8 L2619.1,360.0 L2615.1,358.2 L2611.1,356.4 L2607.0,354.6 L2603.0,352.9 L2598.9,351.1 L2594.9,349.4 L2590.8,347.6 L2586.8,345.9 L2582.8,344.2 L2578.7,342.5 L2574.7,340.8 L2570.6,339.1 L2566.6,337.4 L2562.5,335.7 L2558.5,334.0 L2554.5,332.4 L2550.4,330.7 L2546.4,329.1 L2542.4,327.4 L2538.3,325.8 L2534.3,324.1 L2530.2,322.5 L2526.2,320.9 L2522.2,319.3 L2518.1,317.7 L2514.1,316.1 L2510.1,314.5 L2506.0,312.9 L2502.0,311.3 L2498.0,309.7 L2493.9,308.1 L2489.9,306.5 L2485.9,304.9 L2481.8,303.4 L2477.8,301.8 L2473.8,300.2 L2469.7,298.6 L2465.7,297.1 L2461.7,295.5 L2457.7,293.9 L2453.6,292.4 L2449.6,290.8 L2445.6,289.2 L2441.5,287.7 L2437.5,286.1 L2433.5,284.6 L2429.5,283.0 L2425.4,281.4 L2421.4,279.9 L2417.4,278.3 L2413.4,276.7 L2409.3,275.2 L2405.3,273.6 L2401.3,272.0 L2397.3,270.4 L2393.2,268.9 L2389.2,267.3 L2385.2,265.7 L2381.2,264.1 L2377.2,262.5 L2373.1,260.9 L2369.1,259.4 L2365.1,257.8 L2361.1,256.1 L2357.1,254.5 L2353.0,252.9 L2349.0,251.3 L2345.0,249.7 L2341.0,248.1 L2337.0,246.4 L2333.0,244.8 L2328.9,243.1 L2324.9,241.5 L2320.9,239.8 L2316.9,238.1 L2312.9,236.5 L2308.9,234.8 L2304.9,233.1 L2300.8,231.4 L2296.8,229.7 L2292.8,228.0 L2288.8,226.3 L2284.8,224.5 L2280.8,222.8 L2276.8,221.0 L2272.8,219.3 L2268.8,217.5 L2264.7,215.7 L2260.7,213.9 L2256.7,212.1 L2252.7,210.3Z" fill="#0b0b0b"/>
<circle cx="2249.0" cy="218.5" r="9.0" fill="#0b0b0b"/>
<circle cx="3135.0" cy="823.6" r="9.0" fill="#0b0b0b"/>
<path d="M2245.8,238.3 L2249.9,239.9 L2253.9,241.4 L2257.9,242.9 L2261.9,244.4 L2265.9,245.9 L2269.9,247.5 L2274.0,249.0 L2278.0,250.6 L2282.0,252.1 L2286.0,253.7 L2290.0,255.2 L2294.1,256.8 L2298.1,258.4 L2302.1,259.9 L2306.1,261.5 L2310.1,263.1 L2314.1,264.7 L2318.2,266.3 L2322.2,267.9 L2326.2,269.5 L2330.2,271.1 L2334.2,272.7 L2338.2,274.4 L2342.3,276.0 L2346.3,277.6 L2350.3,279.3 L2354.3,280.9 L2358.3,282.6 L2362.3,284.3 L2366.4,285.9 L2370.4,287.6 L2374.4,289.3 L2378.4,291.0 L2382.4,292.7 L2386.4,294.4 L2390.5,296.1 L2394.5,297.8 L2398.5,299.5 L2402.5,301.2 L2406.5,303.0 L2410.5,304.7 L2414.5,306.5 L2418.6,308.2 L2422.6,310.0 L2426.6,311.7 L2430.6,313.5 L2434.6,315.3 L2438.6,317.1 L2442.7,318.9 L2446.7,320.7 L2450.7,322.5 L2454.7,324.3 L2458.7,326.2 L2462.7,328.0 L2466.7,329.8 L2470.8,331.7 L2474.8,333.5 L2478.8,335.4 L2482.8,337.3 L2486.8,339.2 L2490.8,341.1 L2494.8,343.0 L2498.8,344.9 L2502.9,346.8 L2506.9,348.7 L2510.9,350.6 L2514.9,352.6 L2518.9,354.5 L2522.9,356.5 L2526.9,358.5 L2531.0,360.4 L2535.0,362.4 L2539.0,364.4 L2543.0,366.4 L2547.0,368.4 L2551.0,370.4 L2555.0,372.5 L2559.0,374.5 L2563.1,376.6 L2567.1,378.6 L2571.1,380.7 L2575.1,382.8 L2579.1,384.8 L2583.1,386.9 L2587.1,389.0 L2591.1,391.1 L2595.2,393.3 L2599.2,395.4 L2603.2,397.5 L2607.2,399.7 L2611.2,401.9 L2615.2,404.0 L2619.2,406.2 L2623.2,408.4 L2627.3,410.6 L2631.3,412.8 L2635.3,415.0 L2639.3,417.3 L2643.3,419.5 L2647.3,421.8 L2651.3,424.0 L2655.3,426.3 L2659.3,428.6 L2663.4,430.9 L2667.4,433.2 L2671.4,435.5 L2675.4,437.8 L2679.4,440.2 L2683.4,442.5 L2687.4,444.9 L2691.4,447.3 L2695.4,449.6 L2699.5,452.0 L2703.5,454.4 L2707.5,456.9 L2711.5,459.3 L2715.5,461.8 L2719.5,464.2 L2723.5,466.7 L2727.5,469.2 L2731.4,471.8 L2735.4,474.3 L2739.4,476.9 L2743.4,479.6 L2747.4,482.2 L2751.4,484.9 L2755.3,487.7 L2759.3,490.5 L2763.3,493.3 L2767.3,496.1 L2771.2,499.0 L2775.2,502.0 L2779.2,505.0 L2783.1,508.0 L2787.1,511.2 L2791.1,514.3 L2795.1,517.5 L2799.0,520.8 L2803.0,524.1 L2807.0,527.5 L2811.0,530.8 L2815.0,534.3 L2819.0,537.7 L2823.0,541.1 L2827.1,544.6 L2831.1,548.1 L2835.1,551.6 L2839.1,555.1 L2843.2,558.6 L2847.2,562.1 L2851.3,565.5 L2855.3,569.0 L2859.3,572.4 L2863.4,575.9 L2867.4,579.3 L2871.5,582.7 L2875.5,586.0 L2879.6,589.4 L2883.6,592.7 L2887.7,596.0 L2891.7,599.3 L2895.8,602.5 L2899.9,605.8 L2903.9,609.0 L2908.0,612.1 L2912.0,615.3 L2916.1,618.4 L2920.2,621.5 L2924.2,624.5 L2928.3,627.5 L2932.4,630.5 L2936.5,633.4 L2940.5,636.3 L2944.6,639.1 L2948.7,641.9 L2952.7,644.7 L2956.8,647.4 L2960.8,650.2 L2964.8,652.9 L2968.7,655.7 L2972.7,658.5 L2976.6,661.3 L2980.5,664.3 L2984.4,667.3 L2988.3,670.4 L2992.2,673.7 L2996.1,677.1 L3000.0,680.7 L3003.9,684.5 L3007.8,688.4 L3011.7,692.4 L3015.7,696.5 L3019.7,700.7 L3023.7,705.1 L3027.7,709.4 L3031.7,713.9 L3035.7,718.3 L3039.7,722.8 L3043.7,727.4 L3047.8,731.9 L3051.8,736.3 L3055.9,740.8 L3060.0,745.2 L3064.0,749.5 L3068.1,753.8 L3072.3,757.9 L3076.4,762.0 L3080.5,766.0 L3084.7,769.8 L3088.9,773.4 L3093.1,776.9 L3097.2,780.2 L3101.1,783.2 L3104.7,786.3 L3108.1,789.8 L3111.6,794.1 L3115.1,799.5 L3118.8,806.5 L3122.6,815.4 L3126.5,826.7 L3143.5,820.8 L3139.4,808.9 L3135.1,798.9 L3130.7,790.5 L3126.2,783.6 L3121.6,777.9 L3117.0,773.2 L3112.5,769.3 L3108.4,766.0 L3104.4,762.9 L3100.6,759.7 L3096.7,756.4 L3092.8,752.8 L3088.9,749.1 L3085.0,745.2 L3081.0,741.2 L3077.1,737.1 L3073.1,732.9 L3069.1,728.6 L3065.1,724.2 L3061.1,719.8 L3057.1,715.3 L3053.1,710.8 L3049.1,706.3 L3045.0,701.8 L3041.0,697.3 L3036.9,692.9 L3032.9,688.5 L3028.8,684.1 L3024.7,679.9 L3020.6,675.7 L3016.4,671.6 L3012.3,667.6 L3008.1,663.8 L3004.0,660.1 L2999.8,656.6 L2995.6,653.2 L2991.5,650.0 L2987.3,646.8 L2983.2,643.8 L2979.1,640.9 L2975.0,638.1 L2970.9,635.3 L2966.9,632.5 L2962.9,629.8 L2958.9,627.1 L2954.9,624.3 L2950.9,621.6 L2946.9,618.7 L2942.9,615.9 L2939.0,613.0 L2935.0,610.1 L2931.0,607.1 L2927.0,604.1 L2923.0,601.0 L2919.0,597.9 L2915.0,594.8 L2911.0,591.7 L2907.0,588.5 L2903.0,585.3 L2899.0,582.0 L2895.0,578.8 L2891.0,575.5 L2887.0,572.2 L2883.0,568.8 L2879.0,565.5 L2875.0,562.1 L2871.0,558.7 L2867.0,555.3 L2863.0,551.9 L2859.0,548.4 L2854.9,545.0 L2850.9,541.5 L2846.9,538.0 L2842.9,534.5 L2838.8,531.0 L2834.8,527.5 L2830.8,524.0 L2826.7,520.6 L2822.7,517.1 L2818.6,513.7 L2814.6,510.3 L2810.5,506.9 L2806.4,503.6 L2802.3,500.3 L2798.3,497.0 L2794.2,493.8 L2790.1,490.7 L2786.0,487.6 L2781.9,484.6 L2777.8,481.6 L2773.8,478.6 L2769.7,475.7 L2765.6,472.9 L2761.5,470.1 L2757.4,467.3 L2753.4,464.6 L2749.3,461.9 L2745.2,459.2 L2741.2,456.6 L2737.1,454.0 L2733.0,451.5 L2729.0,448.9 L2724.9,446.4 L2720.9,443.9 L2716.8,441.5 L2712.8,439.0 L2708.7,436.6 L2704.7,434.2 L2700.6,431.8 L2696.6,429.4 L2692.5,427.0 L2688.5,424.6 L2684.4,422.3 L2680.4,419.9 L2676.4,417.6 L2672.3,415.3 L2668.3,413.0 L2664.2,410.7 L2660.2,408.4 L2656.1,406.1 L2652.1,403.8 L2648.1,401.6 L2644.0,399.3 L2640.0,397.1 L2635.9,394.8 L2631.9,392.6 L2627.8,390.4 L2623.8,388.2 L2619.8,386.0 L2615.7,383.8 L2611.7,381.7 L2607.6,379.5 L2603.6,377.4 L2599.5,375.2 L2595.5,373.1 L2591.5,371.0 L2587.4,368.9 L2583.4,366.8 L2579.3,364.7 L2575.3,362.6 L2571.3,360.5 L2567.2,358.5 L2563.2,356.4 L2559.1,354.4 L2555.1,352.3 L2551.0,350.3 L2547.0,348.3 L2543.0,346.3 L2538.9,344.3 L2534.9,342.3 L2530.8,340.3 L2526.8,338.3 L2522.8,336.4 L2518.7,334.4 L2514.7,332.5 L2510.6,330.5 L2506.6,328.6 L2502.5,326.7 L2498.5,324.8 L2494.5,322.9 L2490.4,321.0 L2486.4,319.1 L2482.3,317.2 L2478.3,315.3 L2474.3,313.5 L2470.2,311.6 L2466.2,309.8 L2462.1,307.9 L2458.1,306.1 L2454.1,304.3 L2450.0,302.5 L2446.0,300.7 L2441.9,298.9 L2437.9,297.1 L2433.9,295.3 L2429.8,293.5 L2425.8,291.7 L2421.7,290.0 L2417.7,288.2 L2413.7,286.4 L2409.6,284.7 L2405.6,283.0 L2401.5,281.2 L2397.5,279.5 L2393.5,277.8 L2389.4,276.1 L2385.4,274.4 L2381.4,272.7 L2377.3,271.0 L2373.3,269.3 L2369.2,267.6 L2365.2,266.0 L2361.2,264.3 L2357.1,262.6 L2353.1,261.0 L2349.0,259.3 L2345.0,257.7 L2341.0,256.1 L2336.9,254.4 L2332.9,252.8 L2328.9,251.2 L2324.8,249.6 L2320.8,248.0 L2316.7,246.4 L2312.7,244.8 L2308.7,243.2 L2304.6,241.6 L2300.6,240.0 L2296.6,238.5 L2292.5,236.9 L2288.5,235.3 L2284.5,233.8 L2280.4,232.2 L2276.4,230.7 L2272.3,229.1 L2268.3,227.6 L2264.3,226.1 L2260.2,224.5 L2256.2,223.0 L2252.2,221.5Z" fill="#0b0b0b"/>
<circle cx="2249.0" cy="229.9" r="9.0" fill="#0b0b0b"/>
<circle cx="3135.0" cy="823.7" r="9.0" fill="#0b0b0b"/>
<path d="M2035.8,156.8 L2039.8,157.8 L2043.9,158.8 L2047.9,159.8 L2051.9,160.7 L2056.0,161.7 L2060.0,162.7 L2064.0,163.7 L2068.0,164.6 L2072.1,165.6 L2076.1,166.6 L2080.1,167.5 L2084.2,168.5 L2088.2,169.5 L2092.2,170.4 L2096.2,171.4 L2100.3,172.4 L2104.3,173.3 L2108.3,174.3 L2112.3,175.3 L2116.4,176.3 L2120.4,177.2 L2124.4,178.2 L2128.4,179.2 L2132.4,180.2 L2136.5,181.2 L2140.5,182.2 L2144.5,183.2 L2148.5,184.2 L2152.5,185.2 L2156.6,186.2 L2160.6,187.3 L2164.6,188.3 L2168.6,189.3 L2172.6,190.4 L2176.7,191.4 L2180.7,192.5 L2184.7,193.6 L2188.7,194.7 L2192.7,195.7 L2196.7,196.8 L2200.8,198.0 L2204.8,199.1 L2208.8,200.2 L2212.8,201.3 L2216.8,202.5 L2220.8,203.6 L2224.8,204.8 L2228.9,206.0 L2232.9,207.2 L2236.9,208.4 L2240.9,209.6 L2244.9,210.9 L2248.9,212.1 L2252.9,213.4 L2256.9,214.7 L2261.0,216.0 L2265.0,217.3 L2269.0,218.6 L2273.0,219.9 L2277.0,221.3 L2281.0,222.7 L2285.0,224.0 L2289.0,225.4 L2293.0,226.9 L2297.0,228.3 L2301.0,229.8 L2305.1,231.2 L2309.1,232.7 L2313.1,234.2 L2317.1,235.8 L2321.1,237.3 L2325.1,238.9 L2329.1,240.4 L2333.1,242.0 L2337.2,243.6 L2341.2,245.2 L2345.2,246.8 L2349.2,248.4 L2353.2,250.0 L2357.3,251.7 L2361.3,253.3 L2365.3,254.9 L2369.3,256.6 L2373.4,258.2 L2377.4,259.9 L2381.4,261.5 L2385.4,263.1 L2389.5,264.8 L2393.5,266.4 L2397.5,268.1 L2401.6,269.7 L2405.6,271.3 L2409.6,273.0 L2413.6,274.6 L2417.7,276.2 L2421.7,277.8 L2425.7,279.4 L2429.8,281.1 L2433.8,282.7 L2437.8,284.3 L2441.8,285.9 L2445.9,287.5 L2449.9,289.1 L2453.9,290.7 L2457.9,292.3 L2462.0,293.9 L2466.0,295.6 L2470.0,297.2 L2474.0,298.8 L2478.1,300.4 L2482.1,302.1 L2486.1,303.7 L2490.1,305.4 L2494.1,307.0 L2498.2,308.7 L2502.2,310.3 L2506.2,312.0 L2510.2,313.7 L2514.2,315.4 L2518.3,317.1 L2522.3,318.8 L2526.3,320.5 L2530.3,322.2 L2534.3,323.9 L2538.4,325.7 L2542.4,327.4 L2546.4,329.1 L2550.4,330.9 L2554.4,332.7 L2558.5,334.4 L2562.5,336.2 L2566.5,338.0 L2570.5,339.7 L2574.5,341.5 L2578.6,343.3 L2582.6,345.1 L2586.6,346.9 L2590.6,348.8 L2594.6,350.6 L2598.7,352.4 L2602.7,354.2 L2606.7,356.1 L2610.7,357.9 L2614.8,359.8 L2618.8,361.6 L2622.8,363.5 L2626.8,365.3 L2630.8,367.2 L2634.9,369.1 L2638.9,371.0 L2642.9,372.9 L2646.9,374.7 L2651.0,376.6 L2655.0,378.5 L2659.0,380.4 L2663.0,382.4 L2667.0,384.3 L2671.1,386.2 L2675.1,388.2 L2679.1,390.1 L2683.1,392.1 L2687.1,394.0 L2691.1,396.0 L2695.2,398.0 L2699.2,400.0 L2703.2,402.0 L2707.2,404.0 L2711.2,406.1 L2715.2,408.1 L2719.3,410.2 L2723.3,412.2 L2727.3,414.3 L2731.3,416.4 L2735.3,418.6 L2739.3,420.7 L2743.3,422.9 L2747.3,425.0 L2751.4,427.2 L2755.4,429.4 L2759.4,431.7 L2763.4,433.9 L2767.4,436.2 L2771.4,438.5 L2775.4,440.8 L2779.4,443.1 L2783.4,445.5 L2787.4,447.8 L2791.4,450.2 L2795.5,452.7 L2799.5,455.1 L2803.5,457.6 L2807.5,460.1 L2811.5,462.6 L2815.5,465.1 L2819.5,467.7 L2823.5,470.3 L2827.5,472.9 L2831.5,475.5 L2835.5,478.2 L2839.6,480.8 L2843.6,483.5 L2847.6,486.3 L2851.6,489.0 L2855.6,491.8 L2859.6,494.6 L2863.6,497.4 L2867.6,500.3 L2871.6,503.2 L2875.6,506.1 L2879.7,509.0 L2883.7,512.0 L2887.7,514.9 L2891.7,517.9 L2895.7,521.0 L2899.7,524.0 L2903.7,527.1 L2907.7,530.2 L2911.7,533.4 L2915.7,536.5 L2919.8,539.7 L2923.8,542.9 L2927.8,546.2 L2931.8,549.4 L2935.8,552.7 L2939.8,556.0 L2943.8,559.4 L2947.8,562.7 L2951.9,566.1 L2955.9,569.6 L2959.9,573.0 L2963.9,576.5 L2967.9,580.0 L2971.9,583.6 L2975.9,587.2 L2979.9,590.8 L2983.9,594.5 L2987.9,598.2 L2991.9,602.0 L2995.9,605.8 L2999.9,609.7 L3003.9,613.6 L3007.9,617.5 L3011.9,621.5 L3015.9,625.6 L3019.9,629.7 L3023.9,633.9 L3028.0,638.2 L3035.2,631.3 L3031.2,627.0 L3027.1,622.8 L3023.1,618.6 L3019.0,614.5 L3015.0,610.4 L3010.9,606.4 L3006.9,602.5 L3002.8,598.6 L2998.8,594.7 L2994.7,590.9 L2990.7,587.2 L2986.6,583.4 L2982.6,579.8 L2978.6,576.1 L2974.5,572.5 L2970.5,569.0 L2966.4,565.5 L2962.4,562.0 L2958.3,558.5 L2954.3,555.1 L2950.2,551.7 L2946.2,548.3 L2942.2,545.0 L2938.1,541.7 L2934.1,538.4 L2930.0,535.1 L2926.0,531.9 L2922.0,528.7 L2917.9,525.5 L2913.9,522.3 L2909.8,519.2 L2905.8,516.1 L2901.7,513.0 L2897.7,510.0 L2893.7,506.9 L2889.6,503.9 L2885.6,500.9 L2881.5,498.0 L2877.5,495.1 L2873.4,492.2 L2869.4,489.3 L2865.4,486.4 L2861.3,483.6 L2857.3,480.8 L2853.2,478.0 L2849.2,475.3 L2845.1,472.5 L2841.1,469.8 L2837.0,467.1 L2833.0,464.5 L2829.0,461.9 L2824.9,459.3 L2820.9,456.7 L2816.8,454.1 L2812.8,451.6 L2808.7,449.1 L2804.7,446.6 L2800.6,444.1 L2796.6,441.7 L2792.6,439.2 L2788.5,436.8 L2784.5,434.5 L2780.4,432.1 L2776.4,429.8 L2772.3,427.5 L2768.3,425.2 L2764.2,422.9 L2760.2,420.7 L2756.2,418.5 L2752.1,416.2 L2748.1,414.1 L2744.0,411.9 L2740.0,409.7 L2736.0,407.6 L2731.9,405.5 L2727.9,403.4 L2723.8,401.3 L2719.8,399.2 L2715.8,397.1 L2711.7,395.1 L2707.7,393.1 L2703.6,391.0 L2699.6,389.0 L2695.6,387.0 L2691.5,385.0 L2687.5,383.1 L2683.5,381.1 L2679.4,379.1 L2675.4,377.2 L2671.4,375.3 L2667.3,373.3 L2663.3,371.4 L2659.3,369.5 L2655.2,367.6 L2651.2,365.7 L2647.2,363.8 L2643.1,361.9 L2639.1,360.0 L2635.1,358.1 L2631.0,356.3 L2627.0,354.4 L2623.0,352.5 L2618.9,350.7 L2614.9,348.8 L2610.9,347.0 L2606.8,345.1 L2602.8,343.3 L2598.8,341.5 L2594.7,339.6 L2590.7,337.8 L2586.7,336.0 L2582.6,334.2 L2578.6,332.4 L2574.6,330.6 L2570.6,328.8 L2566.5,327.0 L2562.5,325.3 L2558.5,323.5 L2554.4,321.7 L2550.4,320.0 L2546.4,318.2 L2542.3,316.5 L2538.3,314.7 L2534.3,313.0 L2530.2,311.3 L2526.2,309.6 L2522.2,307.9 L2518.1,306.2 L2514.1,304.5 L2510.1,302.8 L2506.0,301.1 L2502.0,299.4 L2497.9,297.8 L2493.9,296.1 L2489.9,294.5 L2485.9,292.8 L2481.8,291.2 L2477.8,289.5 L2473.8,287.9 L2469.7,286.3 L2465.7,284.7 L2461.7,283.1 L2457.6,281.4 L2453.6,279.8 L2449.6,278.2 L2445.6,276.6 L2441.5,275.0 L2437.5,273.4 L2433.5,271.8 L2429.5,270.2 L2425.4,268.5 L2421.4,266.9 L2417.4,265.3 L2413.4,263.7 L2409.3,262.1 L2405.3,260.4 L2401.3,258.8 L2397.3,257.2 L2393.2,255.5 L2389.2,253.9 L2385.2,252.2 L2381.2,250.6 L2377.1,248.9 L2373.1,247.3 L2369.1,245.7 L2365.0,244.0 L2361.0,242.4 L2357.0,240.8 L2353.0,239.1 L2348.9,237.5 L2344.9,235.9 L2340.8,234.3 L2336.8,232.7 L2332.8,231.1 L2328.7,229.5 L2324.7,228.0 L2320.7,226.4 L2316.6,224.9 L2312.6,223.4 L2308.5,221.9 L2304.5,220.4 L2300.4,218.9 L2296.4,217.4 L2292.3,216.0 L2288.3,214.6 L2284.3,213.2 L2280.2,211.8 L2276.2,210.4 L2272.1,209.1 L2268.1,207.8 L2264.0,206.4 L2260.0,205.1 L2256.0,203.9 L2251.9,202.6 L2247.9,201.3 L2243.8,200.1 L2239.8,198.8 L2235.7,197.6 L2231.7,196.4 L2227.7,195.2 L2223.6,194.0 L2219.6,192.9 L2215.5,191.7 L2211.5,190.6 L2207.5,189.4 L2203.4,188.3 L2199.4,187.2 L2195.4,186.1 L2191.3,185.0 L2187.3,183.9 L2183.2,182.8 L2179.2,181.8 L2175.2,180.7 L2171.1,179.7 L2167.1,178.6 L2163.1,177.6 L2159.0,176.5 L2155.0,175.5 L2151.0,174.5 L2146.9,173.5 L2142.9,172.5 L2138.9,171.5 L2134.8,170.5 L2130.8,169.5 L2126.8,168.5 L2122.7,167.5 L2118.7,166.5 L2114.7,165.6 L2110.7,164.6 L2106.6,163.6 L2102.6,162.6 L2098.6,161.7 L2094.5,160.7 L2090.5,159.7 L2086.5,158.8 L2082.5,157.8 L2078.4,156.8 L2074.4,155.9 L2070.4,154.9 L2066.4,153.9 L2062.3,153.0 L2058.3,152.0 L2054.3,151.0 L2050.3,150.1 L2046.2,149.1 L2042.2,148.1 L2038.2,147.1Z" fill="#0b0b0b"/>
<circle cx="2037.0" cy="152.0" r="5.0" fill="#0b0b0b"/>
<circle cx="3031.6" cy="634.7" r="5.0" fill="#0b0b0b"/>
<path d="M2037.0,151.0 C2042.7,152.7 2060.7,158.2 2071.0,161.0 C2081.3,163.8 2080.8,163.7 2099.0,168.0 C2117.2,172.3 2159.5,182.2 2180.0,187.0 C2200.5,191.8 2202.0,190.8 2222.0,197.0 C2242.0,203.2 2276.8,215.2 2300.0,224.0 C2323.2,232.8 2344.0,243.2 2361.0,250.0 C2378.0,256.8 2385.8,259.2 2402.0,265.0 C2418.2,270.8 2441.3,278.7 2458.0,285.0 C2474.7,291.3 2486.3,295.8 2502.0,303.0 C2517.7,310.2 2537.2,321.0 2552.0,328.0 C2566.8,335.0 2575.3,338.6 2590.5,345.0 C2605.7,351.4 2624.8,358.4 2643.0,366.5 C2661.2,374.6 2675.4,380.4 2700.0,393.5 C2724.6,406.6 2765.6,430.4 2790.6,445.0 C2815.6,459.6 2823.4,461.8 2850.0,481.0 C2876.6,500.2 2925.0,540.2 2950.0,560.0 C2975.0,579.8 2986.4,587.3 3000.0,600.0 C3013.6,612.7 3026.3,630.0 3031.6,636.0" fill="none" stroke="#78a858" stroke-width="3" stroke-dasharray="3 6"/>
<path d="M1950.0,93.0 C1956.7,94.8 1975.5,100.5 1990.0,104.0 C2004.5,107.5 2021.3,109.5 2037.0,114.0 C2052.7,118.5 2070.2,126.0 2084.0,131.0 C2097.8,136.0 2114.0,141.8 2120.0,144.0" fill="none" stroke="#78a858" stroke-width="3" stroke-dasharray="3 9"/>
<circle cx="3135" cy="824" r="9" fill="#0b0b0b"/>
<rect x="205" y="1411" width="19" height="20" fill="#0b0b0b"/>
<path d="M211.3,1429.5 L215.3,1429.5 L219.3,1429.6 L223.3,1429.7 L227.2,1429.9 L231.2,1430.0 L235.2,1430.2 L239.1,1430.3 L243.1,1430.5 L247.1,1430.8 L251.1,1431.0 L255.1,1431.3 L259.0,1431.5 L263.0,1431.8 L267.0,1432.2 L271.0,1432.5 L274.9,1432.8 L278.9,1433.2 L282.9,1433.6 L286.9,1434.0 L290.8,1434.4 L294.8,1434.9 L298.8,1435.4 L302.8,1435.8 L306.8,1436.3 L310.7,1436.9 L314.7,1437.4 L318.7,1438.0 L322.7,1438.5 L326.7,1439.1 L330.6,1439.8 L334.6,1440.4 L338.6,1441.1 L342.6,1441.8 L346.6,1442.5 L350.5,1443.2 L354.5,1443.9 L358.5,1444.7 L362.5,1445.5 L366.4,1446.3 L370.4,1447.1 L374.4,1447.9 L378.4,1448.8 L382.4,1449.7 L386.3,1450.5 L390.3,1451.5 L394.3,1452.4 L398.3,1453.3 L402.3,1454.3 L406.3,1455.3 L410.2,1456.3 L414.2,1457.3 L418.2,1458.3 L422.2,1459.4 L426.2,1460.4 L430.1,1461.5 L434.1,1462.6 L438.1,1463.8 L442.1,1464.9 L446.1,1466.1 L450.1,1467.2 L454.0,1468.4 L458.0,1469.7 L462.0,1470.9 L466.0,1472.1 L470.0,1473.4 L473.9,1474.7 L477.9,1476.0 L481.9,1477.3 L485.9,1478.7 L489.9,1480.0 L493.9,1481.4 L497.8,1482.8 L501.8,1484.3 L505.8,1485.7 L509.8,1487.2 L513.8,1488.6 L517.7,1490.1 L521.7,1491.7 L525.7,1493.2 L529.7,1494.8 L533.7,1496.4 L537.6,1498.0 L541.6,1499.6 L545.6,1501.2 L549.6,1502.9 L553.6,1504.6 L557.6,1506.3 L561.5,1508.0 L565.5,1509.8 L569.5,1511.5 L573.5,1513.3 L577.5,1515.2 L581.4,1517.0 L585.4,1518.8 L589.4,1520.7 L593.4,1522.6 L597.4,1524.6 L601.4,1526.5 L605.3,1528.5 L609.3,1530.5 L613.3,1532.5 L617.3,1534.5 L621.3,1536.6 L625.2,1538.7 L629.2,1540.8 L633.2,1542.9 L637.2,1545.1 L641.2,1547.2 L645.2,1549.4 L649.1,1551.7 L653.1,1553.9 L657.1,1556.2 L661.1,1558.5 L665.1,1560.8 L669.1,1563.1 L673.0,1565.5 L677.0,1567.9 L681.0,1570.3 L685.0,1572.7 L689.0,1575.2 L693.0,1577.7 L696.9,1580.2 L700.9,1582.8 L704.9,1585.3 L708.9,1587.9 L712.9,1590.5 L716.9,1593.2 L720.9,1595.8 L724.9,1598.5 L728.8,1601.2 L732.8,1603.9 L736.8,1606.7 L740.8,1609.4 L744.8,1612.2 L748.8,1615.0 L752.8,1617.8 L756.8,1620.7 L760.8,1623.5 L764.8,1626.4 L768.8,1629.2 L772.8,1632.1 L776.8,1635.0 L780.8,1638.0 L784.8,1640.9 L788.8,1643.8 L792.8,1646.8 L796.8,1649.8 L800.8,1652.7 L804.9,1655.7 L808.9,1658.7 L812.9,1661.7 L816.9,1664.7 L820.9,1667.7 L824.9,1670.7 L828.9,1673.8 L832.9,1676.8 L836.9,1679.8 L841.0,1682.9 L845.0,1685.9 L849.0,1688.9 L853.0,1692.0 L857.0,1695.0 L861.0,1698.1 L865.0,1701.1 L869.1,1704.1 L873.1,1707.2 L877.1,1710.2 L881.1,1713.3 L885.1,1716.3 L889.1,1719.4 L893.1,1722.4 L897.2,1725.5 L901.2,1728.5 L905.2,1731.6 L909.2,1734.7 L913.2,1737.7 L917.2,1740.8 L921.2,1743.9 L925.3,1747.0 L929.3,1750.0 L933.3,1753.1 L937.3,1756.2 L941.3,1759.3 L945.3,1762.4 L949.3,1765.5 L953.3,1768.6 L957.3,1771.7 L961.3,1774.9 L965.4,1778.0 L969.4,1781.1 L973.4,1784.3 L977.4,1787.4 L981.4,1790.6 L985.4,1793.7 L989.4,1796.9 L993.4,1800.0 L997.5,1803.2 L1001.5,1806.4 L1005.5,1809.5 L1009.5,1812.7 L1013.5,1815.9 L1017.5,1819.1 L1021.5,1822.3 L1025.6,1825.4 L1029.6,1828.6 L1033.6,1831.8 L1037.6,1835.0 L1041.6,1838.2 L1045.6,1841.4 L1049.7,1844.5 L1053.7,1847.7 L1057.7,1850.9 L1061.7,1854.1 L1065.7,1857.3 L1069.7,1860.4 L1073.8,1863.6 L1077.8,1866.8 L1081.8,1870.0 L1085.8,1873.1 L1089.8,1876.3 L1093.9,1879.4 L1097.9,1882.6 L1101.9,1885.7 L1105.9,1888.9 L1110.0,1892.0 L1114.0,1895.1 L1118.0,1898.3 L1122.0,1901.4 L1126.0,1904.5 L1130.1,1907.6 L1134.1,1910.7 L1138.1,1913.8 L1142.1,1916.9 L1146.2,1920.0 L1150.2,1923.0 L1154.2,1926.1 L1158.2,1929.1 L1162.3,1932.2 L1166.3,1935.2 L1170.3,1938.2 L1174.3,1941.2 L1178.4,1944.2 L1182.4,1947.2 L1186.4,1950.2 L1190.4,1953.2 L1194.5,1956.2 L1198.5,1959.1 L1202.5,1962.1 L1206.5,1965.1 L1210.6,1968.0 L1214.6,1970.9 L1218.6,1973.9 L1222.6,1976.8 L1226.7,1979.7 L1230.7,1982.6 L1234.7,1985.5 L1238.7,1988.4 L1242.8,1991.3 L1246.8,1994.2 L1250.8,1997.1 L1254.8,2000.0 L1258.8,2002.9 L1262.9,2005.8 L1266.9,2008.6 L1270.9,2011.5 L1274.9,2014.4 L1278.9,2017.2 L1283.0,2020.1 L1287.0,2022.9 L1291.0,2025.8 L1295.1,2028.6 L1299.1,2031.4 L1303.1,2034.2 L1307.2,2037.0 L1311.2,2039.8 L1315.3,2042.6 L1319.3,2045.4 L1323.4,2048.2 L1327.4,2051.0 L1331.5,2053.8 L1335.5,2056.6 L1339.6,2059.3 L1343.6,2062.1 L1347.7,2064.9 L1351.8,2067.6 L1355.8,2070.4 L1359.9,2073.2 L1363.9,2076.1 L1367.9,2078.9 L1371.9,2081.8 L1375.9,2084.6 L1379.9,2087.5 L1383.9,2090.3 L1387.9,2093.2 L1392.0,2096.1 L1396.0,2098.9 L1400.0,2101.8 L1404.0,2104.7 L1408.0,2107.6 L1412.0,2110.5 L1416.0,2113.4 L1420.0,2116.4 L1424.0,2119.3 L1428.0,2122.2 L1432.0,2125.2 L1436.0,2128.1 L1440.0,2131.1 L1444.0,2134.1 L1448.1,2137.1 L1452.1,2140.1 L1456.1,2143.1 L1460.1,2146.2 L1469.1,2134.2 L1465.1,2131.2 L1461.1,2128.1 L1457.1,2125.1 L1453.0,2122.1 L1449.0,2119.1 L1445.0,2116.1 L1440.9,2113.1 L1436.9,2110.1 L1432.9,2107.2 L1428.9,2104.2 L1424.8,2101.3 L1420.8,2098.4 L1416.8,2095.5 L1412.8,2092.5 L1408.7,2089.6 L1404.7,2086.8 L1400.7,2083.9 L1396.7,2081.0 L1392.6,2078.1 L1388.6,2075.2 L1384.6,2072.4 L1380.6,2069.5 L1376.6,2066.7 L1372.5,2063.8 L1368.5,2061.0 L1364.5,2058.1 L1360.5,2055.2 L1356.6,2052.3 L1352.6,2049.4 L1348.6,2046.5 L1344.7,2043.6 L1340.7,2040.7 L1336.7,2037.8 L1332.7,2034.9 L1328.7,2032.1 L1324.7,2029.2 L1320.8,2026.3 L1316.8,2023.4 L1312.8,2020.6 L1308.8,2017.7 L1304.8,2014.8 L1300.8,2011.9 L1296.8,2009.1 L1292.8,2006.2 L1288.8,2003.4 L1284.8,2000.5 L1280.8,1997.6 L1276.8,1994.8 L1272.7,1991.9 L1268.7,1989.1 L1264.7,1986.2 L1260.7,1983.3 L1256.7,1980.4 L1252.7,1977.5 L1248.7,1974.7 L1244.7,1971.8 L1240.7,1968.9 L1236.6,1966.0 L1232.6,1963.0 L1228.6,1960.1 L1224.6,1957.2 L1220.6,1954.3 L1216.6,1951.3 L1212.6,1948.4 L1208.6,1945.5 L1204.6,1942.5 L1200.6,1939.5 L1196.6,1936.6 L1192.5,1933.6 L1188.5,1930.6 L1184.5,1927.6 L1180.5,1924.6 L1176.5,1921.6 L1172.5,1918.6 L1168.5,1915.6 L1164.5,1912.5 L1160.5,1909.5 L1156.5,1906.4 L1152.5,1903.4 L1148.5,1900.3 L1144.5,1897.2 L1140.4,1894.1 L1136.4,1891.0 L1132.4,1887.9 L1128.4,1884.8 L1124.4,1881.7 L1120.4,1878.6 L1116.4,1875.5 L1112.4,1872.3 L1108.4,1869.2 L1104.4,1866.1 L1100.3,1862.9 L1096.3,1859.8 L1092.3,1856.6 L1088.3,1853.4 L1084.3,1850.3 L1080.3,1847.1 L1076.3,1843.9 L1072.3,1840.8 L1068.2,1837.6 L1064.2,1834.4 L1060.2,1831.2 L1056.2,1828.0 L1052.2,1824.9 L1048.2,1821.7 L1044.1,1818.5 L1040.1,1815.3 L1036.1,1812.1 L1032.1,1808.9 L1028.1,1805.8 L1024.1,1802.6 L1020.0,1799.4 L1016.0,1796.2 L1012.0,1793.0 L1008.0,1789.9 L1004.0,1786.7 L999.9,1783.5 L995.9,1780.4 L991.9,1777.2 L987.9,1774.0 L983.9,1770.9 L979.8,1767.7 L975.8,1764.6 L971.8,1761.5 L967.8,1758.3 L963.8,1755.2 L959.7,1752.1 L955.7,1749.0 L951.7,1745.8 L947.7,1742.7 L943.6,1739.6 L939.6,1736.6 L935.6,1733.5 L931.6,1730.4 L927.6,1727.3 L923.5,1724.2 L919.5,1721.2 L915.5,1718.1 L911.5,1715.0 L907.5,1712.0 L903.4,1708.9 L899.4,1705.8 L895.4,1702.8 L891.4,1699.7 L887.4,1696.7 L883.3,1693.6 L879.3,1690.6 L875.3,1687.6 L871.3,1684.5 L867.3,1681.5 L863.3,1678.4 L859.2,1675.4 L855.2,1672.3 L851.2,1669.3 L847.2,1666.3 L843.2,1663.2 L839.2,1660.2 L835.1,1657.2 L831.1,1654.1 L827.1,1651.1 L823.1,1648.1 L819.0,1645.1 L815.0,1642.1 L811.0,1639.1 L807.0,1636.1 L802.9,1633.1 L798.9,1630.1 L794.9,1627.2 L790.9,1624.2 L786.8,1621.3 L782.8,1618.4 L778.8,1615.5 L774.7,1612.6 L770.7,1609.7 L766.7,1606.8 L762.6,1603.9 L758.6,1601.1 L754.6,1598.3 L750.5,1595.5 L746.5,1592.7 L742.4,1589.9 L738.4,1587.1 L734.4,1584.4 L730.3,1581.7 L726.3,1579.0 L722.2,1576.3 L718.2,1573.7 L714.1,1571.1 L710.1,1568.4 L706.0,1565.9 L702.0,1563.3 L698.0,1560.8 L693.9,1558.3 L689.9,1555.8 L685.8,1553.3 L681.8,1550.9 L677.7,1548.5 L673.7,1546.1 L669.6,1543.8 L665.6,1541.4 L661.5,1539.1 L657.5,1536.8 L653.4,1534.6 L649.4,1532.3 L645.3,1530.1 L641.3,1527.9 L637.2,1525.8 L633.2,1523.6 L629.1,1521.5 L625.1,1519.4 L621.0,1517.3 L617.0,1515.3 L612.9,1513.3 L608.9,1511.3 L604.8,1509.3 L600.8,1507.3 L596.7,1505.4 L592.6,1503.5 L588.6,1501.6 L584.5,1499.7 L580.5,1497.9 L576.4,1496.0 L572.4,1494.2 L568.3,1492.4 L564.3,1490.7 L560.2,1488.9 L556.2,1487.2 L552.1,1485.5 L548.1,1483.9 L544.0,1482.2 L540.0,1480.6 L535.9,1479.0 L531.9,1477.4 L527.8,1475.8 L523.8,1474.3 L519.7,1472.7 L515.7,1471.2 L511.6,1469.7 L507.6,1468.3 L503.5,1466.8 L499.5,1465.4 L495.4,1464.0 L491.4,1462.6 L487.3,1461.2 L483.3,1459.9 L479.2,1458.5 L475.2,1457.2 L471.1,1455.9 L467.1,1454.7 L463.0,1453.4 L459.0,1452.2 L454.9,1450.9 L450.9,1449.7 L446.8,1448.6 L442.8,1447.4 L438.7,1446.3 L434.7,1445.1 L430.6,1444.0 L426.6,1442.9 L422.5,1441.9 L418.5,1440.8 L414.4,1439.8 L410.4,1438.8 L406.3,1437.8 L402.2,1436.8 L398.2,1435.8 L394.1,1434.9 L390.1,1434.0 L386.0,1433.1 L382.0,1432.2 L377.9,1431.3 L373.9,1430.5 L369.8,1429.6 L365.8,1428.8 L361.7,1428.0 L357.7,1427.2 L353.6,1426.5 L349.6,1425.7 L345.5,1425.0 L341.5,1424.3 L337.4,1423.6 L333.3,1423.0 L329.3,1422.3 L325.2,1421.7 L321.2,1421.1 L317.1,1420.5 L313.1,1419.9 L309.0,1419.3 L305.0,1418.8 L300.9,1418.2 L296.9,1417.7 L292.8,1417.2 L288.8,1416.8 L284.7,1416.3 L280.6,1415.9 L276.6,1415.5 L272.5,1415.1 L268.5,1414.7 L264.4,1414.3 L260.4,1414.0 L256.3,1413.7 L252.3,1413.4 L248.2,1413.1 L244.1,1412.8 L240.1,1412.6 L236.0,1412.4 L232.0,1412.2 L227.9,1412.0 L223.8,1411.8 L219.8,1411.7 L215.7,1411.6 L211.7,1411.5Z" fill="#0b0b0b"/>
<circle cx="211.5" cy="1420.5" r="9.0" fill="#0b0b0b"/>
<circle cx="1464.6" cy="2140.2" r="7.5" fill="#0b0b0b"/>
<path d="M517.4,1475.3 L521.4,1476.7 L525.4,1478.0 L529.4,1479.5 L533.3,1480.9 L537.3,1482.4 L541.3,1483.9 L545.3,1485.4 L549.3,1486.9 L553.2,1488.5 L557.2,1490.1 L561.2,1491.7 L565.2,1493.3 L569.2,1495.0 L573.2,1496.7 L577.1,1498.4 L581.1,1500.2 L585.1,1501.9 L589.1,1503.7 L593.1,1505.5 L597.1,1507.4 L601.0,1509.2 L605.0,1511.1 L609.0,1513.0 L613.0,1514.9 L617.0,1516.9 L621.0,1518.8 L625.0,1520.8 L629.0,1522.8 L633.0,1524.9 L637.0,1526.9 L640.9,1529.0 L644.9,1531.1 L648.9,1533.2 L652.9,1535.4 L656.9,1537.5 L660.9,1539.7 L664.9,1541.9 L668.9,1544.1 L672.9,1546.4 L676.9,1548.6 L680.9,1550.9 L684.9,1553.2 L688.9,1555.5 L692.9,1557.9 L696.9,1560.2 L700.9,1562.6 L704.9,1565.0 L708.9,1567.4 L712.9,1569.8 L716.9,1572.3 L720.9,1574.7 L724.9,1577.2 L728.9,1579.7 L732.9,1582.2 L736.9,1584.8 L740.9,1587.3 L744.9,1589.9 L748.9,1592.5 L752.9,1595.1 L756.9,1597.7 L760.9,1600.3 L764.9,1603.0 L768.9,1605.6 L772.9,1608.3 L776.9,1611.0 L780.9,1613.7 L784.9,1616.4 L788.9,1619.1 L792.9,1621.9 L796.9,1624.6 L800.9,1627.4 L804.9,1630.2 L809.0,1633.0 L813.0,1635.8 L817.0,1638.7 L821.0,1641.5 L825.0,1644.4 L829.0,1647.2 L833.0,1650.1 L837.0,1653.0 L841.0,1655.9 L845.0,1658.8 L849.0,1661.7 L853.0,1664.7 L857.1,1667.6 L861.1,1670.6 L865.1,1673.6 L869.1,1676.5 L873.1,1679.5 L877.1,1682.5 L881.1,1685.6 L885.1,1688.6 L889.1,1691.6 L893.1,1694.7 L897.2,1697.7 L901.2,1700.8 L905.2,1703.9 L909.2,1706.9 L913.2,1710.0 L917.2,1713.1 L921.2,1716.3 L925.2,1719.4 L929.3,1722.5 L933.3,1725.7 L937.3,1728.8 L941.3,1732.0 L945.3,1735.1 L949.3,1738.3 L953.3,1741.5 L957.3,1744.7 L961.4,1747.9 L965.4,1751.1 L969.4,1754.3 L973.4,1757.6 L977.4,1760.8 L981.4,1764.0 L985.4,1767.3 L989.4,1770.6 L993.5,1773.8 L997.5,1777.1 L1001.5,1780.4 L1005.5,1783.7 L1009.5,1787.0 L1013.5,1790.3 L1017.6,1793.6 L1021.6,1796.9 L1025.6,1800.2 L1029.6,1803.6 L1033.6,1806.9 L1037.6,1810.3 L1041.6,1813.6 L1045.7,1817.0 L1049.7,1820.3 L1053.7,1823.7 L1057.7,1827.1 L1061.7,1830.5 L1065.7,1833.9 L1069.8,1837.3 L1073.8,1840.7 L1077.8,1844.1 L1081.8,1847.5 L1085.8,1850.9 L1089.8,1854.3 L1093.9,1857.8 L1097.9,1861.2 L1101.9,1864.6 L1105.9,1868.1 L1109.9,1871.5 L1113.9,1875.0 L1118.0,1878.4 L1122.0,1881.9 L1126.0,1885.3 L1130.0,1888.8 L1134.0,1892.3 L1138.1,1895.7 L1142.1,1899.2 L1146.1,1902.7 L1150.1,1906.1 L1154.1,1909.6 L1158.1,1913.1 L1162.2,1916.6 L1166.2,1920.1 L1170.2,1923.6 L1174.2,1927.0 L1178.2,1930.5 L1182.3,1934.0 L1186.3,1937.5 L1190.3,1941.0 L1194.3,1944.5 L1198.4,1948.0 L1202.4,1951.5 L1206.4,1955.0 L1210.4,1958.5 L1214.4,1961.9 L1218.5,1965.4 L1222.5,1968.9 L1226.5,1972.4 L1230.5,1975.9 L1234.5,1979.4 L1238.6,1982.9 L1242.6,1986.4 L1246.6,1989.8 L1250.6,1993.3 L1254.7,1996.8 L1258.7,2000.3 L1262.7,2003.7 L1266.7,2007.2 L1270.8,2010.7 L1274.8,2014.1 L1285.2,2002.0 L1281.2,1998.6 L1277.2,1995.1 L1273.2,1991.6 L1269.1,1988.2 L1265.1,1984.7 L1261.1,1981.2 L1257.1,1977.7 L1253.1,1974.3 L1249.0,1970.8 L1245.0,1967.3 L1241.0,1963.8 L1237.0,1960.3 L1233.0,1956.8 L1228.9,1953.4 L1224.9,1949.9 L1220.9,1946.4 L1216.9,1942.9 L1212.9,1939.4 L1208.8,1935.9 L1204.8,1932.4 L1200.8,1928.9 L1196.8,1925.4 L1192.8,1921.9 L1188.7,1918.4 L1184.7,1915.0 L1180.7,1911.5 L1176.7,1908.0 L1172.6,1904.5 L1168.6,1901.0 L1164.6,1897.5 L1160.6,1894.0 L1156.6,1890.6 L1152.5,1887.1 L1148.5,1883.6 L1144.5,1880.1 L1140.5,1876.7 L1136.4,1873.2 L1132.4,1869.7 L1128.4,1866.3 L1124.4,1862.8 L1120.3,1859.4 L1116.3,1855.9 L1112.3,1852.5 L1108.3,1849.0 L1104.2,1845.6 L1100.2,1842.2 L1096.2,1838.7 L1092.2,1835.3 L1088.1,1831.9 L1084.1,1828.5 L1080.1,1825.1 L1076.1,1821.6 L1072.0,1818.2 L1068.0,1814.9 L1064.0,1811.5 L1060.0,1808.1 L1055.9,1804.7 L1051.9,1801.3 L1047.9,1798.0 L1043.8,1794.6 L1039.8,1791.3 L1035.8,1787.9 L1031.8,1784.6 L1027.7,1781.3 L1023.7,1777.9 L1019.7,1774.6 L1015.7,1771.3 L1011.6,1768.0 L1007.6,1764.7 L1003.6,1761.4 L999.5,1758.1 L995.5,1754.9 L991.5,1751.6 L987.5,1748.3 L983.4,1745.1 L979.4,1741.9 L975.4,1738.6 L971.3,1735.4 L967.3,1732.2 L963.3,1729.0 L959.3,1725.8 L955.2,1722.6 L951.2,1719.4 L947.2,1716.2 L943.1,1713.1 L939.1,1709.9 L935.1,1706.8 L931.0,1703.6 L927.0,1700.5 L923.0,1697.4 L919.0,1694.3 L914.9,1691.2 L910.9,1688.1 L906.9,1685.0 L902.8,1681.9 L898.8,1678.9 L894.8,1675.8 L890.7,1672.8 L886.7,1669.7 L882.7,1666.7 L878.6,1663.7 L874.6,1660.7 L870.6,1657.7 L866.5,1654.8 L862.5,1651.8 L858.5,1648.8 L854.4,1645.9 L850.4,1643.0 L846.4,1640.0 L842.3,1637.1 L838.3,1634.2 L834.3,1631.3 L830.2,1628.5 L826.2,1625.6 L822.2,1622.8 L818.1,1619.9 L814.1,1617.1 L810.1,1614.3 L806.0,1611.5 L802.0,1608.7 L798.0,1605.9 L793.9,1603.2 L789.9,1600.4 L785.8,1597.7 L781.8,1595.0 L777.8,1592.3 L773.7,1589.6 L769.7,1586.9 L765.7,1584.3 L761.6,1581.7 L757.6,1579.0 L753.5,1576.4 L749.5,1573.8 L745.5,1571.3 L741.4,1568.7 L737.4,1566.2 L733.3,1563.6 L729.3,1561.1 L725.2,1558.6 L721.2,1556.2 L717.2,1553.7 L713.1,1551.3 L709.1,1548.9 L705.0,1546.5 L701.0,1544.1 L696.9,1541.7 L692.9,1539.4 L688.8,1537.0 L684.8,1534.7 L680.8,1532.4 L676.7,1530.2 L672.7,1527.9 L668.6,1525.7 L664.6,1523.5 L660.5,1521.3 L656.5,1519.1 L652.4,1517.0 L648.4,1514.8 L644.3,1512.7 L640.3,1510.6 L636.2,1508.6 L632.2,1506.5 L628.1,1504.5 L624.1,1502.5 L620.0,1500.5 L615.9,1498.6 L611.9,1496.6 L607.8,1494.7 L603.8,1492.8 L599.7,1491.0 L595.7,1489.1 L591.6,1487.3 L587.6,1485.5 L583.5,1483.7 L579.4,1482.0 L575.4,1480.3 L571.3,1478.6 L567.3,1476.9 L563.2,1475.2 L559.1,1473.6 L555.1,1472.0 L551.0,1470.4 L547.0,1468.9 L542.9,1467.4 L538.8,1465.9 L534.8,1464.4 L530.7,1463.0 L526.6,1461.5 L522.6,1460.2Z" fill="#0b0b0b"/>
<circle cx="520.0" cy="1467.7" r="8.0" fill="#0b0b0b"/>
<circle cx="1280.0" cy="2008.1" r="8.0" fill="#0b0b0b"/>
<path d="M232.0,1406.3 L236.0,1406.8 L240.0,1407.4 L244.0,1408.0 L248.0,1408.5 L252.0,1409.1 L256.1,1409.7 L260.1,1410.3 L264.1,1410.9 L268.1,1411.6 L272.1,1412.2 L276.1,1412.8 L280.1,1413.5 L284.1,1414.1 L288.2,1414.8 L292.2,1415.5 L296.2,1416.2 L300.2,1416.9 L304.2,1417.6 L308.2,1418.3 L312.2,1419.0 L316.2,1419.7 L320.2,1420.5 L324.2,1421.2 L328.3,1422.0 L332.3,1422.8 L336.3,1423.6 L340.3,1424.4 L344.3,1425.2 L348.3,1426.1 L352.3,1426.9 L356.3,1427.7 L360.3,1428.6 L364.3,1429.5 L368.3,1430.4 L372.3,1431.3 L376.3,1432.2 L380.3,1433.1 L384.3,1434.0 L388.3,1434.9 L392.3,1435.9 L396.3,1436.8 L400.4,1437.8 L404.4,1438.8 L408.4,1439.8 L412.4,1440.8 L416.4,1441.8 L420.4,1442.8 L424.4,1443.9 L428.4,1444.9 L432.4,1446.0 L436.4,1447.1 L440.4,1448.1 L444.4,1449.2 L448.4,1450.3 L452.4,1451.4 L456.4,1452.5 L460.4,1453.7 L464.4,1454.8 L468.4,1456.0 L472.4,1457.1 L476.4,1458.3 L480.4,1459.5 L484.4,1460.8 L488.4,1462.0 L492.4,1463.3 L496.4,1464.5 L500.4,1465.8 L504.4,1467.1 L508.4,1468.5 L512.4,1469.8 L516.4,1471.2 L520.4,1472.6 L524.4,1474.0 L528.3,1475.4 L532.3,1476.9 L536.3,1478.3 L540.3,1479.8 L544.3,1481.4 L548.3,1482.9 L552.3,1484.4 L556.3,1486.0 L560.3,1487.6 L564.3,1489.2 L568.3,1490.9 L572.3,1492.5 L576.3,1494.2 L580.3,1495.9 L584.3,1497.6 L588.3,1499.4 L592.3,1501.1 L596.3,1502.9 L600.3,1504.7 L604.3,1506.5 L608.3,1508.3 L612.3,1510.2 L616.3,1512.0 L620.3,1513.9 L624.3,1515.8 L628.3,1517.7 L632.3,1519.6 L636.3,1521.6 L640.3,1523.5 L644.3,1525.5 L648.3,1527.5 L652.3,1529.5 L656.3,1531.6 L660.3,1533.6 L664.3,1535.7 L668.4,1537.7 L672.4,1539.8 L676.4,1541.9 L680.4,1544.0 L684.4,1546.2 L688.4,1548.3 L692.4,1550.5 L696.4,1552.6 L700.4,1554.8 L704.4,1557.0 L708.4,1559.2 L712.5,1561.4 L716.5,1563.7 L720.5,1565.9 L724.5,1568.2 L728.5,1570.4 L732.5,1572.7 L736.5,1575.0 L740.5,1577.3 L744.6,1579.6 L748.6,1582.0 L752.6,1584.3 L756.6,1586.6 L760.6,1589.0 L764.6,1591.4 L768.7,1593.8 L772.7,1596.1 L776.7,1598.5 L780.7,1600.9 L784.7,1603.4 L788.7,1605.8 L792.8,1608.2 L796.8,1610.7 L800.8,1613.1 L804.8,1615.6 L808.8,1618.0 L812.8,1620.5 L816.9,1623.0 L820.9,1625.5 L824.9,1628.0 L828.9,1630.5 L832.9,1633.0 L837.0,1635.5 L841.0,1638.0 L845.0,1640.6 L849.0,1643.1 L853.0,1645.6 L857.1,1648.2 L861.1,1650.7 L865.1,1653.3 L869.1,1655.8 L873.2,1658.4 L877.2,1661.0 L881.2,1663.5 L885.2,1666.1 L889.2,1668.7 L893.3,1671.3 L897.3,1673.9 L901.3,1676.5 L905.3,1679.1 L909.4,1681.7 L913.4,1684.3 L917.4,1686.9 L921.4,1689.5 L925.5,1692.1 L929.5,1694.7 L933.5,1697.3 L937.5,1699.9 L941.6,1702.5 L945.6,1705.1 L949.6,1707.7 L953.7,1710.4 L957.7,1713.0 L961.7,1715.6 L965.7,1718.2 L969.8,1720.8 L973.8,1723.4 L977.8,1726.1 L981.8,1728.7 L985.9,1731.3 L989.9,1734.0 L993.9,1736.6 L997.9,1739.2 L1001.9,1741.9 L1006.0,1744.6 L1010.0,1747.2 L1014.0,1749.9 L1018.0,1752.6 L1022.0,1755.3 L1026.0,1758.0 L1030.1,1760.7 L1034.1,1763.4 L1038.1,1766.2 L1042.1,1768.9 L1046.1,1771.7 L1050.1,1774.4 L1054.1,1777.2 L1058.1,1780.0 L1062.1,1782.9 L1066.2,1785.7 L1070.2,1788.6 L1074.2,1791.5 L1078.2,1794.3 L1082.2,1797.3 L1086.2,1800.2 L1090.2,1803.2 L1094.2,1806.1 L1098.2,1809.1 L1102.2,1812.2 L1106.2,1815.2 L1110.2,1818.3 L1114.2,1821.4 L1118.2,1824.5 L1122.2,1827.6 L1126.2,1830.8 L1130.2,1834.0 L1134.2,1837.2 L1138.2,1840.5 L1142.2,1843.7 L1146.2,1847.1 L1150.2,1850.4 L1154.2,1853.8 L1158.2,1857.2 L1162.2,1860.6 L1166.2,1864.1 L1170.2,1867.6 L1174.2,1871.1 L1178.2,1874.7 L1182.2,1878.3 L1186.2,1882.0 L1190.2,1885.6 L1194.2,1889.4 L1198.2,1893.1 L1202.2,1896.9 L1206.2,1900.7 L1210.2,1904.6 L1214.2,1908.5 L1218.2,1912.5 L1222.2,1916.5 L1226.2,1920.5 L1230.2,1924.6 L1234.2,1928.7 L1238.2,1932.9 L1242.2,1937.1 L1246.2,1941.4 L1250.2,1945.7 L1254.2,1950.1 L1258.2,1954.4 L1262.2,1958.9 L1266.2,1963.4 L1270.2,1967.9 L1274.2,1972.4 L1278.2,1977.0 L1282.2,1981.7 L1286.2,1986.3 L1290.3,1991.0 L1294.3,1995.8 L1298.3,2000.5 L1302.3,2005.3 L1306.3,2010.2 L1310.3,2015.1 L1314.3,2020.0 L1318.3,2024.9 L1322.3,2029.9 L1326.4,2034.9 L1330.4,2039.9 L1334.4,2044.9 L1338.4,2050.0 L1342.4,2055.1 L1346.4,2060.3 L1350.5,2065.4 L1354.5,2070.6 L1367.1,2060.8 L1363.1,2055.6 L1359.0,2050.4 L1355.0,2045.3 L1351.0,2040.1 L1346.9,2035.0 L1342.9,2029.9 L1338.8,2024.9 L1334.8,2019.8 L1330.8,2014.8 L1326.7,2009.9 L1322.7,2004.9 L1318.6,2000.0 L1314.6,1995.1 L1310.5,1990.3 L1306.5,1985.5 L1302.5,1980.7 L1298.4,1975.9 L1294.4,1971.2 L1290.3,1966.5 L1286.3,1961.9 L1282.2,1957.3 L1278.2,1952.7 L1274.1,1948.2 L1270.1,1943.7 L1266.0,1939.3 L1262.0,1934.8 L1257.9,1930.5 L1253.8,1926.2 L1249.8,1921.9 L1245.7,1917.6 L1241.7,1913.4 L1237.6,1909.3 L1233.6,1905.2 L1229.5,1901.1 L1225.4,1897.1 L1221.4,1893.2 L1217.3,1889.2 L1213.3,1885.3 L1209.2,1881.5 L1205.1,1877.7 L1201.1,1873.9 L1197.0,1870.2 L1193.0,1866.5 L1188.9,1862.8 L1184.9,1859.2 L1180.8,1855.6 L1176.7,1852.0 L1172.7,1848.5 L1168.6,1845.0 L1164.6,1841.6 L1160.5,1838.1 L1156.5,1834.8 L1152.4,1831.4 L1148.4,1828.1 L1144.3,1824.8 L1140.2,1821.5 L1136.2,1818.3 L1132.1,1815.1 L1128.1,1811.9 L1124.0,1808.7 L1120.0,1805.6 L1115.9,1802.5 L1111.9,1799.4 L1107.8,1796.3 L1103.8,1793.3 L1099.7,1790.3 L1095.7,1787.3 L1091.6,1784.3 L1087.6,1781.4 L1083.5,1778.5 L1079.5,1775.6 L1075.4,1772.7 L1071.4,1769.8 L1067.3,1767.0 L1063.3,1764.1 L1059.2,1761.3 L1055.2,1758.5 L1051.2,1755.7 L1047.1,1752.9 L1043.1,1750.2 L1039.0,1747.4 L1035.0,1744.7 L1030.9,1742.0 L1026.9,1739.3 L1022.9,1736.6 L1018.8,1733.9 L1014.8,1731.2 L1010.8,1728.5 L1006.7,1725.9 L1002.7,1723.2 L998.7,1720.6 L994.6,1717.9 L990.6,1715.3 L986.6,1712.7 L982.5,1710.0 L978.5,1707.4 L974.5,1704.8 L970.4,1702.2 L966.4,1699.6 L962.4,1696.9 L958.3,1694.3 L954.3,1691.7 L950.3,1689.1 L946.3,1686.5 L942.2,1683.9 L938.2,1681.3 L934.2,1678.6 L930.1,1676.0 L926.1,1673.4 L922.1,1670.8 L918.0,1668.2 L914.0,1665.6 L910.0,1663.0 L906.0,1660.4 L901.9,1657.8 L897.9,1655.2 L893.9,1652.6 L889.8,1650.1 L885.8,1647.5 L881.8,1644.9 L877.7,1642.3 L873.7,1639.8 L869.7,1637.2 L865.6,1634.7 L861.6,1632.1 L857.6,1629.6 L853.5,1627.0 L849.5,1624.5 L845.5,1621.9 L841.4,1619.4 L837.4,1616.9 L833.3,1614.4 L829.3,1611.9 L825.3,1609.4 L821.2,1606.9 L817.2,1604.4 L813.2,1601.9 L809.1,1599.5 L805.1,1597.0 L801.0,1594.5 L797.0,1592.1 L793.0,1589.7 L788.9,1587.2 L784.9,1584.8 L780.9,1582.4 L776.8,1580.0 L772.8,1577.6 L768.7,1575.2 L764.7,1572.8 L760.7,1570.5 L756.6,1568.1 L752.6,1565.8 L748.5,1563.5 L744.5,1561.1 L740.4,1558.8 L736.4,1556.5 L732.4,1554.2 L728.3,1552.0 L724.3,1549.7 L720.2,1547.4 L716.2,1545.2 L712.1,1543.0 L708.1,1540.8 L704.0,1538.6 L700.0,1536.4 L696.0,1534.2 L691.9,1532.0 L687.9,1529.9 L683.8,1527.7 L679.8,1525.6 L675.7,1523.5 L671.7,1521.4 L667.6,1519.4 L663.6,1517.3 L659.5,1515.2 L655.5,1513.2 L651.4,1511.2 L647.4,1509.2 L643.3,1507.2 L639.3,1505.2 L635.2,1503.3 L631.2,1501.3 L627.1,1499.4 L623.1,1497.5 L619.0,1495.6 L615.0,1493.8 L610.9,1491.9 L606.8,1490.1 L602.8,1488.3 L598.7,1486.5 L594.7,1484.7 L590.6,1482.9 L586.6,1481.2 L582.5,1479.5 L578.4,1477.8 L574.4,1476.1 L570.3,1474.4 L566.3,1472.8 L562.2,1471.2 L558.2,1469.6 L554.1,1468.0 L550.0,1466.4 L546.0,1464.9 L541.9,1463.3 L537.8,1461.8 L533.8,1460.4 L529.7,1458.9 L525.7,1457.5 L521.6,1456.1 L517.5,1454.7 L513.5,1453.3 L509.4,1451.9 L505.3,1450.6 L501.3,1449.3 L497.2,1448.0 L493.2,1446.7 L489.1,1445.5 L485.1,1444.2 L481.0,1443.0 L476.9,1441.8 L472.9,1440.6 L468.8,1439.4 L464.8,1438.3 L460.7,1437.1 L456.7,1436.0 L452.6,1434.9 L448.6,1433.8 L444.5,1432.7 L440.5,1431.6 L436.4,1430.5 L432.4,1429.5 L428.3,1428.5 L424.3,1427.5 L420.2,1426.5 L416.1,1425.5 L412.1,1424.5 L408.0,1423.5 L404.0,1422.6 L399.9,1421.6 L395.9,1420.7 L391.8,1419.8 L387.8,1418.9 L383.7,1418.0 L379.7,1417.1 L375.6,1416.2 L371.6,1415.3 L367.5,1414.5 L363.5,1413.6 L359.4,1412.8 L355.4,1412.0 L351.3,1411.2 L347.3,1410.4 L343.2,1409.6 L339.2,1408.8 L335.1,1408.0 L331.1,1407.3 L327.0,1406.5 L323.0,1405.7 L318.9,1405.0 L314.9,1404.3 L310.9,1403.5 L306.8,1402.8 L302.8,1402.1 L298.7,1401.4 L294.7,1400.7 L290.6,1400.0 L286.6,1399.3 L282.5,1398.7 L278.5,1398.0 L274.5,1397.4 L270.4,1396.7 L266.4,1396.1 L262.3,1395.5 L258.3,1394.9 L254.2,1394.3 L250.2,1393.7 L246.1,1393.1 L242.1,1392.5 L238.1,1392.0 L234.0,1391.4Z" fill="#0b0b0b"/>
<circle cx="233.0" cy="1398.8" r="7.5" fill="#0b0b0b"/>
<circle cx="1360.8" cy="2065.7" r="8.0" fill="#0b0b0b"/>
<path d="M201.8,1387.2 L205.8,1387.6 L209.8,1388.1 L213.8,1388.6 L217.8,1389.1 L221.8,1389.6 L225.8,1390.1 L229.8,1390.6 L233.8,1391.1 L237.8,1391.7 L241.9,1392.2 L245.9,1392.8 L249.9,1393.3 L253.9,1393.9 L257.9,1394.5 L261.9,1395.1 L265.9,1395.7 L269.9,1396.3 L273.9,1397.0 L277.9,1397.6 L281.9,1398.3 L285.9,1398.9 L289.9,1399.6 L293.9,1400.3 L297.9,1401.0 L301.9,1401.7 L305.9,1402.4 L309.9,1403.2 L313.9,1403.9 L317.9,1404.6 L321.9,1405.4 L325.9,1406.2 L329.9,1407.0 L333.9,1407.8 L337.9,1408.6 L341.9,1409.5 L345.9,1410.3 L349.9,1411.2 L353.9,1412.0 L357.9,1412.9 L361.9,1413.8 L365.9,1414.7 L369.9,1415.6 L373.9,1416.6 L377.9,1417.5 L381.9,1418.4 L385.9,1419.4 L389.9,1420.4 L393.9,1421.4 L397.9,1422.4 L401.9,1423.4 L405.9,1424.4 L409.9,1425.4 L413.9,1426.5 L417.9,1427.5 L421.9,1428.6 L425.9,1429.7 L429.9,1430.8 L433.9,1431.9 L437.8,1433.0 L441.8,1434.1 L445.8,1435.2 L449.8,1436.4 L453.8,1437.6 L457.8,1438.7 L461.8,1439.9 L465.8,1441.1 L469.8,1442.3 L473.8,1443.6 L477.8,1444.8 L481.8,1446.0 L485.8,1447.3 L489.8,1448.6 L493.8,1449.9 L497.8,1451.2 L501.8,1452.5 L505.7,1453.8 L509.7,1455.1 L513.7,1456.5 L517.7,1457.8 L521.7,1459.2 L525.7,1460.6 L529.7,1462.0 L533.7,1463.4 L537.7,1464.9 L541.7,1466.3 L545.7,1467.8 L549.6,1469.2 L553.6,1470.7 L557.6,1472.2 L561.6,1473.7 L565.6,1475.3 L569.6,1476.8 L573.6,1478.3 L577.5,1479.9 L581.5,1481.5 L585.5,1483.1 L589.5,1484.7 L593.5,1486.3 L597.5,1487.9 L601.5,1489.6 L605.4,1491.2 L609.4,1492.9 L613.4,1494.5 L617.4,1496.2 L621.4,1497.9 L625.4,1499.7 L629.4,1501.4 L633.3,1503.1 L637.3,1504.9 L641.3,1506.7 L645.3,1508.4 L649.3,1510.2 L653.3,1512.1 L657.2,1513.9 L661.2,1515.7 L665.2,1517.6 L669.2,1519.4 L673.2,1521.3 L677.2,1523.2 L681.1,1525.1 L685.1,1527.0 L689.1,1529.0 L693.1,1530.9 L697.1,1532.9 L701.1,1534.8 L705.0,1536.8 L709.0,1538.8 L713.0,1540.8 L717.0,1542.8 L721.0,1544.8 L725.0,1546.9 L729.0,1548.9 L732.9,1551.0 L736.9,1553.1 L740.9,1555.2 L744.9,1557.3 L748.9,1559.4 L752.9,1561.6 L756.9,1563.7 L760.9,1565.9 L764.8,1568.1 L768.8,1570.2 L772.8,1572.4 L776.8,1574.7 L780.8,1576.9 L784.8,1579.1 L788.8,1581.4 L792.8,1583.6 L796.7,1585.9 L800.7,1588.2 L804.7,1590.5 L808.7,1592.8 L812.7,1595.1 L816.7,1597.5 L820.7,1599.8 L824.7,1602.2 L828.7,1604.5 L832.6,1606.9 L836.6,1609.3 L840.6,1611.7 L844.6,1614.1 L848.6,1616.5 L852.6,1619.0 L856.6,1621.4 L860.6,1623.9 L864.6,1626.4 L868.6,1628.8 L872.6,1631.3 L876.6,1633.8 L880.5,1636.3 L884.5,1638.9 L888.5,1641.4 L892.5,1643.9 L896.5,1646.5 L900.5,1649.0 L904.5,1651.6 L908.5,1654.2 L912.5,1656.8 L916.5,1659.4 L920.5,1662.0 L924.5,1664.6 L928.5,1667.3 L932.5,1669.9 L936.5,1672.6 L940.5,1675.2 L944.4,1677.9 L948.4,1680.6 L952.4,1683.3 L956.4,1686.0 L960.4,1688.7 L964.4,1691.4 L968.5,1694.1 L972.5,1696.8 L976.5,1699.6 L980.5,1702.3 L984.5,1705.1 L988.5,1707.9 L992.5,1710.6 L996.5,1713.4 L1000.5,1716.2 L1004.5,1719.1 L1008.5,1721.9 L1012.5,1724.8 L1016.5,1727.6 L1020.5,1730.5 L1024.5,1733.4 L1028.5,1736.3 L1032.5,1739.2 L1036.5,1742.2 L1040.5,1745.1 L1044.4,1748.1 L1048.4,1751.1 L1052.4,1754.1 L1056.5,1757.1 L1060.5,1760.2 L1064.5,1763.2 L1068.5,1766.2 L1072.5,1769.3 L1076.5,1772.4 L1080.6,1775.5 L1084.6,1778.7 L1088.6,1781.8 L1092.6,1785.0 L1096.6,1788.2 L1100.6,1791.5 L1104.7,1794.7 L1108.7,1798.0 L1112.7,1801.4 L1116.7,1804.7 L1120.7,1808.1 L1124.7,1811.5 L1128.8,1814.9 L1132.8,1818.3 L1136.8,1821.8 L1140.8,1825.3 L1144.8,1828.9 L1148.8,1832.5 L1152.8,1836.1 L1156.9,1839.7 L1160.9,1843.3 L1165.0,1847.0 L1169.0,1850.7 L1173.1,1854.5 L1177.1,1858.3 L1181.1,1862.1 L1185.2,1865.9 L1189.2,1869.8 L1193.3,1873.8 L1197.3,1877.7 L1201.4,1881.8 L1205.4,1885.8 L1209.5,1889.9 L1213.5,1894.0 L1217.6,1898.2 L1221.6,1902.4 L1225.7,1906.7 L1229.7,1911.0 L1242.3,1899.5 L1238.3,1895.1 L1234.3,1890.7 L1230.3,1886.3 L1226.3,1881.9 L1222.3,1877.6 L1218.3,1873.3 L1214.3,1869.1 L1210.3,1864.9 L1206.3,1860.8 L1202.3,1856.7 L1198.4,1852.6 L1194.4,1848.6 L1190.4,1844.6 L1186.4,1840.6 L1182.4,1836.7 L1178.4,1832.8 L1174.4,1828.9 L1170.4,1825.1 L1166.4,1821.3 L1162.3,1817.6 L1158.3,1813.9 L1154.3,1810.2 L1150.3,1806.6 L1146.2,1803.0 L1142.2,1799.4 L1138.2,1795.9 L1134.1,1792.4 L1130.1,1788.9 L1126.1,1785.4 L1122.1,1782.0 L1118.0,1778.6 L1114.0,1775.2 L1110.0,1771.9 L1106.0,1768.6 L1101.9,1765.3 L1097.9,1762.0 L1093.9,1758.7 L1089.9,1755.5 L1085.8,1752.3 L1081.8,1749.1 L1077.8,1745.9 L1073.8,1742.8 L1069.7,1739.7 L1065.7,1736.6 L1061.7,1733.5 L1057.6,1730.5 L1053.6,1727.5 L1049.5,1724.5 L1045.5,1721.5 L1041.4,1718.5 L1037.4,1715.6 L1033.3,1712.7 L1029.3,1709.8 L1025.3,1706.9 L1021.2,1704.0 L1017.2,1701.1 L1013.1,1698.3 L1009.1,1695.4 L1005.1,1692.6 L1001.0,1689.8 L997.0,1687.0 L992.9,1684.2 L988.9,1681.4 L984.9,1678.7 L980.8,1675.9 L976.8,1673.2 L972.7,1670.4 L968.7,1667.7 L964.7,1665.0 L960.6,1662.3 L956.6,1659.7 L952.5,1657.0 L948.5,1654.4 L944.4,1651.7 L940.4,1649.1 L936.3,1646.5 L932.3,1643.9 L928.2,1641.3 L924.2,1638.7 L920.1,1636.1 L916.1,1633.5 L912.0,1630.9 L908.0,1628.4 L903.9,1625.9 L899.9,1623.3 L895.8,1620.8 L891.8,1618.3 L887.8,1615.8 L883.7,1613.3 L879.7,1610.8 L875.6,1608.4 L871.6,1605.9 L867.5,1603.5 L863.5,1601.0 L859.4,1598.6 L855.3,1596.2 L851.3,1593.8 L847.2,1591.4 L843.2,1589.1 L839.1,1586.7 L835.1,1584.4 L831.0,1582.0 L827.0,1579.7 L822.9,1577.4 L818.9,1575.1 L814.8,1572.8 L810.8,1570.5 L806.7,1568.3 L802.7,1566.0 L798.6,1563.8 L794.6,1561.5 L790.5,1559.3 L786.4,1557.1 L782.4,1554.9 L778.3,1552.7 L774.3,1550.6 L770.2,1548.4 L766.2,1546.3 L762.1,1544.1 L758.1,1542.0 L754.0,1539.9 L750.0,1537.8 L745.9,1535.8 L741.8,1533.7 L737.8,1531.7 L733.7,1529.6 L729.7,1527.6 L725.6,1525.6 L721.6,1523.6 L717.5,1521.6 L713.5,1519.6 L709.4,1517.7 L705.3,1515.7 L701.3,1513.8 L697.2,1511.9 L693.2,1510.0 L689.1,1508.1 L685.0,1506.3 L681.0,1504.4 L676.9,1502.6 L672.9,1500.8 L668.8,1499.0 L664.8,1497.2 L660.7,1495.4 L656.6,1493.6 L652.6,1491.9 L648.5,1490.1 L644.5,1488.4 L640.4,1486.7 L636.3,1485.0 L632.3,1483.3 L628.2,1481.6 L624.2,1480.0 L620.1,1478.3 L616.1,1476.7 L612.0,1475.1 L607.9,1473.5 L603.9,1471.9 L599.8,1470.3 L595.8,1468.8 L591.7,1467.2 L587.7,1465.7 L583.6,1464.1 L579.5,1462.6 L575.5,1461.1 L571.4,1459.6 L567.4,1458.2 L563.3,1456.7 L559.3,1455.3 L555.2,1453.8 L551.2,1452.4 L547.1,1451.0 L543.1,1449.6 L539.0,1448.2 L534.9,1446.8 L530.9,1445.5 L526.8,1444.1 L522.8,1442.8 L518.7,1441.5 L514.7,1440.1 L510.6,1438.8 L506.6,1437.5 L502.5,1436.2 L498.5,1435.0 L494.5,1433.7 L490.4,1432.5 L486.4,1431.2 L482.3,1430.0 L478.3,1428.8 L474.2,1427.6 L470.2,1426.4 L466.1,1425.3 L462.1,1424.1 L458.0,1423.0 L454.0,1421.8 L449.9,1420.7 L445.9,1419.6 L441.8,1418.5 L437.8,1417.4 L433.7,1416.3 L429.7,1415.3 L425.6,1414.2 L421.6,1413.2 L417.6,1412.2 L413.5,1411.1 L409.5,1410.1 L405.4,1409.1 L401.4,1408.2 L397.3,1407.2 L393.3,1406.2 L389.2,1405.3 L385.2,1404.3 L381.2,1403.4 L377.1,1402.5 L373.1,1401.6 L369.0,1400.7 L365.0,1399.8 L360.9,1399.0 L356.9,1398.1 L352.8,1397.3 L348.8,1396.4 L344.8,1395.6 L340.7,1394.8 L336.7,1394.0 L332.6,1393.2 L328.6,1392.4 L324.6,1391.7 L320.5,1390.9 L316.5,1390.1 L312.4,1389.4 L308.4,1388.6 L304.4,1387.9 L300.3,1387.2 L296.3,1386.5 L292.2,1385.8 L288.2,1385.1 L284.2,1384.5 L280.1,1383.8 L276.1,1383.1 L272.0,1382.5 L268.0,1381.9 L264.0,1381.3 L259.9,1380.7 L255.9,1380.1 L251.8,1379.5 L247.8,1378.9 L243.8,1378.3 L239.7,1377.8 L235.7,1377.2 L231.7,1376.7 L227.6,1376.2 L223.6,1375.7 L219.5,1375.2 L215.5,1374.7 L211.5,1374.2 L207.4,1373.7 L203.4,1373.3Z" fill="#2a2040"/>
<circle cx="202.6" cy="1380.2" r="7.0" fill="#2a2040"/>
<circle cx="1236.0" cy="1905.3" r="8.5" fill="#2a2040"/>
<path d="M202.2,1383.7 L206.2,1384.2 L210.2,1384.6 L214.2,1385.1 L218.3,1385.6 L222.3,1386.1 L226.3,1386.6 L230.3,1387.1 L234.3,1387.6 L238.3,1388.2 L242.3,1388.7 L246.3,1389.3 L250.4,1389.9 L254.4,1390.4 L258.4,1391.0 L262.4,1391.6 L266.4,1392.3 L270.4,1392.9 L274.4,1393.5 L278.4,1394.2 L282.5,1394.8 L286.5,1395.5 L290.5,1396.2 L294.5,1396.8 L298.5,1397.5 L302.5,1398.3 L306.5,1399.0 L310.5,1399.7 L314.5,1400.5 L318.6,1401.2 L322.6,1402.0 L326.6,1402.7 L330.6,1403.5 L334.6,1404.4 L338.6,1405.2 L342.6,1406.0 L346.6,1406.9 L350.6,1407.7 L354.6,1408.6 L358.6,1409.5 L362.7,1410.4 L366.7,1411.3 L370.7,1412.2 L374.7,1413.1 L378.7,1414.1 L382.7,1415.0 L386.7,1416.0 L390.7,1417.0 L394.7,1418.0 L398.7,1419.0 L402.7,1420.0 L406.7,1421.0 L410.7,1422.0 L414.7,1423.1 L418.7,1424.1 L422.8,1425.2 L426.8,1426.3 L430.8,1427.4 L434.8,1428.5 L438.8,1429.6 L442.8,1430.7 L446.8,1431.9 L450.8,1433.0 L454.8,1434.2 L458.8,1435.4 L462.8,1436.6 L466.8,1437.8 L470.8,1439.0 L474.8,1440.2 L478.8,1441.5 L482.8,1442.7 L486.8,1444.0 L490.8,1445.2 L494.8,1446.5 L498.8,1447.8 L502.8,1449.1 L506.8,1450.5 L510.8,1451.8 L514.8,1453.2 L518.8,1454.5 L522.8,1455.9 L526.8,1457.3 L530.8,1458.7 L534.8,1460.1 L538.8,1461.6 L542.8,1463.0 L546.8,1464.5 L550.8,1466.0 L554.8,1467.4 L558.8,1468.9 L562.8,1470.5 L566.8,1472.0 L570.8,1473.5 L574.8,1475.1 L578.8,1476.6 L582.8,1478.2 L586.8,1479.8 L590.8,1481.4 L594.8,1483.0 L598.8,1484.7 L602.8,1486.3 L606.8,1488.0 L610.8,1489.6 L614.8,1491.3 L618.7,1493.0 L622.7,1494.7 L626.7,1496.4 L630.7,1498.2 L634.7,1499.9 L638.7,1501.7 L642.7,1503.5 L646.7,1505.2 L650.7,1507.0 L654.7,1508.9 L658.7,1510.7 L662.7,1512.5 L666.7,1514.4 L670.7,1516.3 L674.6,1518.1 L678.6,1520.0 L682.6,1521.9 L686.6,1523.9 L690.6,1525.8 L694.6,1527.7 L698.6,1529.7 L702.6,1531.7 L706.6,1533.7 L710.6,1535.7 L714.6,1537.7 L718.6,1539.7 L722.6,1541.7 L726.6,1543.8 L730.5,1545.8 L734.5,1547.9 L738.5,1550.0 L742.5,1552.1 L746.5,1554.2 L750.5,1556.3 L754.5,1558.5 L758.5,1560.6 L762.5,1562.8 L766.5,1565.0 L770.5,1567.2 L774.5,1569.4 L778.5,1571.6 L782.5,1573.8 L786.5,1576.1 L790.5,1578.3 L794.5,1580.6 L798.5,1582.9 L802.5,1585.1 L806.5,1587.4 L810.5,1589.8 L814.5,1592.1 L818.4,1594.4 L822.4,1596.8 L826.4,1599.1 L830.4,1601.5 L834.4,1603.9 L838.4,1606.3 L842.4,1608.7 L846.4,1611.1 L850.4,1613.5 L854.4,1616.0 L858.4,1618.4 L862.4,1620.9 L866.4,1623.4 L870.4,1625.9 L874.4,1628.3 L878.4,1630.8 L882.4,1633.4 L886.4,1635.9 L890.4,1638.4 L894.4,1641.0 L898.4,1643.5 L902.4,1646.1 L906.4,1648.7 L910.4,1651.3 L914.4,1653.9 L918.4,1656.5 L922.4,1659.1 L926.4,1661.7 L930.4,1664.4 L934.4,1667.0 L938.4,1669.7 L942.4,1672.3 L946.4,1675.0 L950.4,1677.7 L954.4,1680.4 L958.4,1683.1 L962.4,1685.8 L966.4,1688.5 L970.4,1691.2 L974.4,1693.9 L978.4,1696.7 L982.4,1699.4 L986.5,1702.2 L990.5,1705.0 L994.5,1707.8 L998.5,1710.6 L1002.5,1713.4 L1006.5,1716.2 L1010.5,1719.1 L1014.5,1721.9 L1018.5,1724.8 L1022.5,1727.7 L1026.5,1730.6 L1030.5,1733.5 L1034.5,1736.4 L1038.5,1739.4 L1042.5,1742.3 L1046.5,1745.3 L1050.5,1748.3 L1054.6,1751.3 L1058.6,1754.3 L1062.6,1757.4 L1066.6,1760.4 L1070.7,1763.5 L1074.7,1766.6 L1078.7,1769.7 L1082.7,1772.8 L1086.8,1775.9 L1090.8,1779.1 L1094.8,1782.3 L1098.8,1785.5 L1102.9,1788.8 L1106.9,1792.1 L1110.9,1795.3 L1114.9,1798.7 L1119.0,1802.0 L1123.0,1805.4 L1127.0,1808.8 L1131.0,1812.2 L1135.1,1815.7 L1139.1,1819.2 L1143.1,1822.7 L1147.2,1826.3 L1151.2,1829.9 L1155.2,1833.5 L1159.3,1837.1 L1163.3,1840.8 L1167.4,1844.5 L1171.4,1848.2 L1175.5,1851.9 L1179.5,1855.7 L1183.6,1859.6 L1187.6,1863.4 L1191.7,1867.4 L1195.8,1871.3 L1199.8,1875.3 L1203.9,1879.3 L1207.9,1883.4 L1212.0,1887.5 L1216.1,1891.6 L1220.1,1895.8 L1224.2,1900.1 L1228.2,1904.3 L1232.3,1908.7 L1239.7,1901.9 L1235.7,1897.5 L1231.7,1893.0 L1227.8,1888.7 L1223.8,1884.3 L1219.8,1880.0 L1215.8,1875.8 L1211.8,1871.6 L1207.8,1867.4 L1203.9,1863.2 L1199.9,1859.1 L1195.9,1855.1 L1191.9,1851.1 L1187.9,1847.1 L1183.9,1843.1 L1179.9,1839.2 L1176.0,1835.3 L1172.0,1831.5 L1168.0,1827.7 L1164.0,1823.9 L1160.0,1820.2 L1156.0,1816.5 L1151.9,1812.8 L1147.9,1809.2 L1143.9,1805.6 L1139.9,1802.1 L1135.9,1798.5 L1131.9,1795.0 L1127.9,1791.6 L1123.8,1788.1 L1119.8,1784.7 L1115.8,1781.3 L1111.8,1777.9 L1107.8,1774.6 L1103.8,1771.3 L1099.7,1768.0 L1095.7,1764.7 L1091.7,1761.5 L1087.7,1758.2 L1083.7,1755.0 L1079.7,1751.9 L1075.6,1748.7 L1071.6,1745.6 L1067.6,1742.5 L1063.6,1739.4 L1059.6,1736.3 L1055.5,1733.3 L1051.5,1730.3 L1047.4,1727.3 L1043.4,1724.3 L1039.4,1721.4 L1035.3,1718.4 L1031.3,1715.5 L1027.3,1712.6 L1023.2,1709.7 L1019.2,1706.8 L1015.2,1704.0 L1011.1,1701.1 L1007.1,1698.3 L1003.1,1695.5 L999.0,1692.7 L995.0,1689.9 L990.9,1687.1 L986.9,1684.3 L982.9,1681.6 L978.8,1678.8 L974.8,1676.1 L970.8,1673.3 L966.8,1670.6 L962.7,1667.9 L958.7,1665.3 L954.6,1662.6 L950.6,1659.9 L946.5,1657.3 L942.5,1654.6 L938.5,1652.0 L934.4,1649.4 L930.4,1646.8 L926.3,1644.2 L922.3,1641.6 L918.2,1639.0 L914.2,1636.5 L910.2,1633.9 L906.1,1631.3 L902.1,1628.8 L898.0,1626.3 L894.0,1623.8 L889.9,1621.3 L885.9,1618.8 L881.9,1616.3 L877.8,1613.8 L873.8,1611.4 L869.7,1608.9 L865.7,1606.5 L861.6,1604.0 L857.6,1601.6 L853.5,1599.2 L849.5,1596.8 L845.5,1594.4 L841.4,1592.1 L837.4,1589.7 L833.3,1587.4 L829.3,1585.0 L825.2,1582.7 L821.2,1580.4 L817.1,1578.1 L813.1,1575.8 L809.0,1573.6 L805.0,1571.3 L800.9,1569.0 L796.9,1566.8 L792.9,1564.6 L788.8,1562.4 L784.8,1560.2 L780.7,1558.0 L776.7,1555.8 L772.6,1553.7 L768.6,1551.5 L764.5,1549.4 L760.5,1547.2 L756.4,1545.1 L752.4,1543.0 L748.3,1540.9 L744.3,1538.9 L740.2,1536.8 L736.2,1534.8 L732.2,1532.7 L728.1,1530.7 L724.1,1528.7 L720.0,1526.7 L716.0,1524.7 L711.9,1522.8 L707.9,1520.8 L703.8,1518.9 L699.8,1517.0 L695.7,1515.1 L691.7,1513.2 L687.6,1511.3 L683.6,1509.5 L679.5,1507.6 L675.5,1505.8 L671.4,1504.0 L667.4,1502.2 L663.3,1500.4 L659.3,1498.6 L655.2,1496.8 L651.2,1495.1 L647.1,1493.3 L643.1,1491.6 L639.0,1489.9 L635.0,1488.2 L630.9,1486.5 L626.9,1484.9 L622.8,1483.2 L618.8,1481.6 L614.7,1480.0 L610.7,1478.3 L606.6,1476.7 L602.6,1475.1 L598.5,1473.6 L594.5,1472.0 L590.4,1470.5 L586.4,1468.9 L582.3,1467.4 L578.3,1465.9 L574.3,1464.4 L570.2,1462.9 L566.2,1461.5 L562.1,1460.0 L558.1,1458.5 L554.0,1457.1 L550.0,1455.7 L545.9,1454.3 L541.9,1452.9 L537.8,1451.5 L533.8,1450.2 L529.8,1448.8 L525.7,1447.4 L521.7,1446.1 L517.6,1444.8 L513.6,1443.5 L509.6,1442.2 L505.5,1440.9 L501.5,1439.6 L497.4,1438.3 L493.4,1437.1 L489.4,1435.8 L485.3,1434.6 L481.3,1433.4 L477.2,1432.2 L473.2,1431.0 L469.2,1429.8 L465.1,1428.6 L461.1,1427.5 L457.1,1426.3 L453.0,1425.2 L449.0,1424.1 L444.9,1423.0 L440.9,1421.9 L436.9,1420.8 L432.8,1419.7 L428.8,1418.7 L424.8,1417.6 L420.7,1416.6 L416.7,1415.5 L412.6,1414.5 L408.6,1413.5 L404.6,1412.5 L400.5,1411.6 L396.5,1410.6 L392.5,1409.6 L388.4,1408.7 L384.4,1407.7 L380.4,1406.8 L376.3,1405.9 L372.3,1405.0 L368.3,1404.1 L364.2,1403.3 L360.2,1402.4 L356.2,1401.5 L352.1,1400.7 L348.1,1399.9 L344.1,1399.1 L340.0,1398.2 L336.0,1397.4 L332.0,1396.7 L327.9,1395.9 L323.9,1395.1 L319.9,1394.3 L315.8,1393.6 L311.8,1392.8 L307.8,1392.1 L303.7,1391.4 L299.7,1390.7 L295.7,1389.9 L291.6,1389.3 L287.6,1388.6 L283.6,1387.9 L279.6,1387.2 L275.5,1386.6 L271.5,1386.0 L267.5,1385.3 L263.4,1384.7 L259.4,1384.1 L255.4,1383.5 L251.3,1382.9 L247.3,1382.4 L243.3,1381.8 L239.3,1381.3 L235.2,1380.7 L231.2,1380.2 L227.2,1379.7 L223.1,1379.1 L219.1,1378.7 L215.1,1378.2 L211.1,1377.7 L207.0,1377.2 L203.0,1376.8Z" fill="#5b4a8c"/>
<circle cx="202.6" cy="1380.2" r="3.5" fill="#5b4a8c"/>
<circle cx="1236.0" cy="1905.3" r="5.0" fill="#5b4a8c"/>
<circle cx="1464.6" cy="2142.5" r="8" fill="#0b0b0b"/>
<path d="M1877.0,1417.0 L1887.2,1416.9 L1901.4,1416.6 L1918.3,1416.3 L1936.8,1415.9 L1955.6,1415.8 L1973.8,1415.8 L1989.9,1416.2 L2003.0,1417.0 L2013.0,1418.4 L2020.9,1420.2 L2027.3,1422.5 L2032.8,1424.9 L2037.8,1427.5 L2042.8,1429.9 L2048.4,1432.1 L2055.0,1434.0 L2062.5,1435.5 L2070.3,1436.6 L2078.4,1437.6 L2086.7,1438.5 L2095.1,1439.4 L2103.4,1440.4 L2111.8,1441.5 L2120.0,1443.0 L2128.1,1444.7 L2136.2,1446.7 L2144.4,1448.7 L2152.5,1450.9 L2160.6,1453.2 L2168.8,1455.5 L2176.9,1457.8 L2185.0,1460.0 L2193.0,1462.2 L2200.9,1464.3 L2208.8,1466.5 L2216.6,1468.7 L2224.6,1470.9 L2232.8,1473.2 L2241.2,1475.6 L2250.0,1478.0 L2259.4,1480.6 L2269.4,1483.4 L2279.8,1486.2 L2290.3,1489.1 L2300.7,1492.0 L2310.8,1494.8 L2320.3,1497.5 L2329.0,1500.0 L2337.0,1502.4 L2344.7,1504.7 L2351.9,1506.9 L2358.8,1509.0 L2365.1,1511.0 L2371.0,1512.8 L2376.3,1514.5 L2381.0,1516.0 L2384.6,1517.1 L2386.7,1517.7 L2387.9,1518.1 L2388.9,1518.4 L2390.0,1518.7 L2391.9,1519.3 L2395.0,1520.4 L2400.0,1522.0 L2406.9,1524.3 L2415.4,1527.1 L2424.9,1530.3 L2435.3,1533.8 L2446.2,1537.4 L2457.1,1541.0 L2467.8,1544.6 L2478.0,1548.0 L2487.8,1551.2 L2497.5,1554.4 L2507.2,1557.6 L2517.0,1560.9 L2526.8,1564.1 L2536.5,1567.3 L2546.2,1570.6 L2556.0,1574.0 L2565.7,1577.4 L2575.5,1580.8 L2585.2,1584.2 L2595.0,1587.6 L2604.7,1591.1 L2614.5,1594.7 L2624.2,1598.5 L2634.0,1602.4 L2643.9,1606.6 L2654.1,1611.1 L2664.4,1615.8 L2674.6,1620.6 L2684.7,1625.3 L2694.4,1629.8 L2703.7,1634.1 L2712.5,1638.0 L2720.7,1641.4 L2728.4,1644.6 L2735.8,1647.4 L2742.8,1650.1 L2749.6,1652.7 L2756.2,1655.3 L2762.6,1657.9 L2769.0,1660.6 L2775.2,1663.4 L2781.1,1666.1 L2786.7,1668.8 L2792.3,1671.5 L2797.7,1674.3 L2803.1,1677.1 L2808.5,1680.0 L2814.1,1683.0 L2819.7,1686.2 L2825.4,1689.4 L2831.0,1692.8 L2836.7,1696.2 L2842.4,1699.7 L2848.0,1703.1 L2853.7,1706.6 L2859.3,1710.0 L2864.9,1713.4 L2870.6,1716.7 L2876.2,1720.0 L2881.8,1723.3 L2887.5,1726.7 L2893.1,1730.0 L2898.7,1733.5 L2904.4,1737.0 L2910.2,1740.6 L2916.0,1744.4 L2922.0,1748.2 L2927.9,1752.1 L2933.7,1755.9 L2939.4,1759.7 L2944.9,1763.4 L2950.0,1767.0 L2954.8,1770.4 L2959.1,1773.5 L2963.3,1776.5 L2967.3,1779.4 L2971.2,1782.5 L2975.3,1785.7 L2979.5,1789.2 L2984.0,1793.0 L2989.1,1797.5 L2994.8,1802.8 L3000.8,1808.4 L3006.8,1814.1 L3012.6,1819.7 L3017.8,1824.7 L3022.2,1828.9 L3025.4,1832.0 L3025.4,1850.0 L3022.2,1847.1 L3017.8,1843.1 L3012.6,1838.4 L3006.8,1833.1 L3000.8,1827.7 L2994.8,1822.3 L2989.1,1817.4 L2984.0,1813.0 L2979.5,1809.3 L2975.3,1805.9 L2971.2,1802.8 L2967.3,1799.9 L2963.3,1796.9 L2959.1,1793.9 L2954.8,1790.6 L2950.0,1787.0 L2944.9,1783.0 L2939.4,1778.8 L2933.7,1774.3 L2927.9,1769.8 L2922.0,1765.2 L2916.0,1760.6 L2910.2,1756.2 L2904.4,1752.0 L2898.7,1747.9 L2892.8,1743.9 L2887.0,1739.9 L2881.1,1736.1 L2875.4,1732.3 L2869.8,1728.7 L2864.4,1725.2 L2859.3,1722.0 L2854.6,1719.0 L2850.2,1716.3 L2846.1,1713.7 L2842.1,1711.3 L2838.2,1709.0 L2834.1,1706.7 L2829.7,1704.4 L2825.0,1702.0 L2820.0,1699.6 L2815.0,1697.3 L2809.9,1695.1 L2804.6,1692.8 L2799.0,1690.5 L2793.1,1688.1 L2786.8,1685.7 L2780.0,1683.0 L2772.7,1680.2 L2765.0,1677.3 L2756.8,1674.3 L2748.3,1671.2 L2739.6,1668.0 L2730.7,1664.7 L2721.6,1661.4 L2712.5,1658.0 L2703.2,1654.5 L2693.6,1650.8 L2683.8,1646.9 L2673.9,1643.1 L2663.9,1639.2 L2653.8,1635.3 L2643.9,1631.6 L2634.0,1628.0 L2624.2,1624.6 L2614.5,1621.2 L2604.7,1617.9 L2595.0,1614.7 L2585.2,1611.5 L2575.5,1608.3 L2565.7,1605.2 L2556.0,1602.0 L2546.2,1598.9 L2536.5,1595.8 L2526.8,1592.8 L2517.0,1589.8 L2507.2,1586.7 L2497.5,1583.6 L2487.8,1580.4 L2478.0,1577.0 L2467.8,1573.3 L2457.1,1569.4 L2446.2,1565.2 L2435.3,1561.0 L2424.9,1556.9 L2415.4,1553.1 L2406.9,1549.8 L2400.0,1547.0 L2395.0,1544.9 L2391.9,1543.4 L2390.0,1542.3 L2388.9,1541.5 L2387.9,1540.8 L2386.7,1540.1 L2384.6,1539.2 L2381.0,1538.0 L2376.3,1536.5 L2370.9,1534.9 L2365.1,1533.2 L2358.7,1531.5 L2351.9,1529.7 L2344.6,1527.8 L2337.0,1525.9 L2329.0,1524.0 L2320.4,1522.0 L2311.0,1519.8 L2301.0,1517.4 L2290.6,1515.1 L2280.2,1512.8 L2269.9,1510.7 L2260.0,1508.7 L2250.6,1507.0 L2241.8,1505.6 L2233.3,1504.5 L2225.0,1503.6 L2217.0,1502.8 L2209.0,1502.0 L2201.1,1501.1 L2193.1,1500.2 L2185.0,1499.0 L2176.9,1497.5 L2169.0,1495.9 L2161.2,1494.1 L2153.3,1492.2 L2145.3,1490.4 L2137.1,1488.7 L2128.7,1487.2 L2120.0,1486.0 L2110.9,1485.2 L2101.4,1484.8 L2091.7,1484.6 L2081.8,1484.5 L2071.8,1484.4 L2061.8,1484.2 L2051.8,1483.8 L2042.0,1483.0 L2031.8,1481.8 L2021.0,1480.3 L2009.9,1478.5 L1999.0,1476.6 L1988.6,1474.7 L1979.0,1472.9 L1970.7,1471.3 L1964.0,1470.0 L1959.5,1468.8 L1957.0,1467.7 L1956.0,1466.6 L1955.7,1465.7 L1955.6,1465.0 L1955.0,1464.6 L1953.4,1464.6 L1950.0,1465.0 L1944.7,1466.1 L1937.8,1467.9 L1930.0,1470.2 L1921.6,1472.7 L1913.3,1475.2 L1905.4,1477.6 L1898.5,1479.6 L1893.0,1481.0 L1888.9,1481.8 L1885.7,1482.1 L1883.3,1482.2 L1881.4,1482.0 L1880.0,1481.7 L1878.9,1481.4 L1878.0,1481.1 L1877.0,1481.0Z" fill="#1a1a1a"/>
<path d="M1912.0,1431.0 L1930.0,1429.0 L1958.0,1430.0 L1969.0,1440.0 L1950.0,1442.0 L1915.0,1441.0Z" fill="#fff"/>
<path d="M2006.0,1444.0 L2030.0,1443.0 L2058.0,1452.0 L2071.0,1464.0 L2040.0,1461.0 L2010.0,1453.0Z" fill="#fff"/>
<rect x="2185" y="1500" width="11" height="27" fill="#1a1a1a"/>
<path d="M2188.8,1535.1 L2192.8,1535.7 L2196.8,1536.3 L2200.8,1537.0 L2204.8,1537.7 L2208.8,1538.4 L2212.8,1539.1 L2216.7,1539.9 L2220.7,1540.6 L2224.7,1541.4 L2228.7,1542.2 L2232.7,1543.0 L2236.7,1543.9 L2240.7,1544.7 L2244.6,1545.6 L2248.6,1546.5 L2252.6,1547.4 L2256.6,1548.4 L2260.6,1549.3 L2264.6,1550.3 L2268.6,1551.3 L2272.6,1552.3 L2276.6,1553.3 L2280.6,1554.4 L2284.6,1555.4 L2288.6,1556.5 L2292.6,1557.5 L2296.6,1558.6 L2300.6,1559.7 L2304.6,1560.9 L2308.6,1562.0 L2312.6,1563.2 L2316.6,1564.3 L2320.6,1565.5 L2324.6,1566.7 L2328.6,1568.0 L2332.6,1569.2 L2336.6,1570.4 L2340.6,1571.7 L2344.6,1573.0 L2348.6,1574.3 L2352.6,1575.6 L2356.6,1576.8 L2360.6,1578.1 L2364.6,1579.4 L2368.7,1580.8 L2372.7,1582.1 L2376.7,1583.4 L2380.8,1584.8 L2384.8,1586.1 L2388.8,1587.5 L2392.9,1588.8 L2396.9,1590.2 L2400.9,1591.6 L2405.0,1593.0 L2409.0,1594.4 L2413.1,1595.8 L2417.1,1597.1 L2421.1,1598.5 L2425.2,1599.9 L2429.2,1601.3 L2433.3,1602.7 L2437.3,1604.1 L2441.4,1605.4 L2445.4,1606.8 L2449.5,1608.1 L2453.5,1609.5 L2457.6,1610.8 L2461.6,1612.2 L2465.7,1613.5 L2469.8,1614.8 L2473.8,1616.0 L2477.9,1617.3 L2482.0,1618.6 L2486.0,1619.8 L2490.1,1621.0 L2494.1,1622.2 L2498.2,1623.4 L2502.2,1624.6 L2506.3,1625.8 L2510.3,1627.0 L2514.3,1628.2 L2518.4,1629.4 L2522.4,1630.6 L2526.4,1631.8 L2530.5,1633.0 L2534.5,1634.1 L2538.5,1635.4 L2542.5,1636.6 L2546.6,1637.8 L2550.6,1639.0 L2554.6,1640.3 L2558.6,1641.6 L2562.6,1642.9 L2566.6,1644.2 L2570.6,1645.5 L2574.6,1646.9 L2578.6,1648.3 L2582.6,1649.7 L2586.6,1651.1 L2590.6,1652.5 L2594.6,1653.9 L2598.6,1655.4 L2602.6,1656.9 L2606.7,1658.4 L2610.7,1659.9 L2614.7,1661.4 L2618.7,1663.0 L2622.7,1664.5 L2626.7,1666.1 L2630.7,1667.7 L2634.7,1669.3 L2638.7,1671.0 L2642.7,1672.6 L2646.7,1674.3 L2650.7,1676.0 L2654.7,1677.7 L2658.7,1679.4 L2662.7,1681.2 L2666.7,1682.9 L2670.8,1684.7 L2674.8,1686.5 L2678.8,1688.3 L2682.8,1690.1 L2686.8,1691.9 L2690.8,1693.7 L2694.9,1695.5 L2698.9,1697.4 L2702.9,1699.2 L2706.9,1701.1 L2710.9,1702.9 L2715.0,1704.8 L2719.0,1706.7 L2723.0,1708.6 L2727.0,1710.4 L2731.1,1712.3 L2735.1,1714.2 L2739.1,1716.1 L2743.2,1718.0 L2747.2,1719.9 L2751.2,1721.8 L2755.2,1723.7 L2759.3,1725.5 L2763.3,1727.4 L2767.4,1729.3 L2771.4,1731.2 L2775.4,1733.1 L2779.5,1734.9 L2783.5,1736.8 L2787.5,1738.7 L2791.6,1740.5 L2795.6,1742.4 L2799.6,1744.3 L2803.6,1746.1 L2807.7,1748.0 L2811.7,1749.8 L2815.7,1751.7 L2819.7,1753.5 L2823.7,1755.4 L2827.7,1757.2 L2831.8,1759.1 L2835.8,1760.9 L2839.8,1762.8 L2843.8,1764.7 L2847.8,1766.6 L2851.8,1768.5 L2855.8,1770.4 L2859.8,1772.3 L2863.8,1774.2 L2867.8,1776.2 L2871.8,1778.2 L2875.8,1780.2 L2879.8,1782.2 L2883.7,1784.2 L2887.7,1786.2 L2891.7,1788.3 L2895.7,1790.4 L2899.7,1792.5 L2903.7,1794.7 L2907.6,1796.9 L2911.6,1799.1 L2915.6,1801.3 L2919.6,1803.6 L2923.5,1805.9 L2927.5,1808.2 L2931.5,1810.6 L2935.5,1813.0 L2939.4,1815.4 L2943.4,1817.9 L2947.3,1820.5 L2951.3,1823.0 L2955.3,1825.7 L2959.2,1828.3 L2963.2,1831.0 L2967.1,1833.8 L2971.1,1836.6 L2975.0,1839.5 L2979.0,1842.4 L2982.9,1845.3 L2986.9,1848.3 L2990.8,1851.4 L2994.8,1854.5 L2998.7,1857.7 L3002.7,1860.9 L3006.7,1864.2 L3010.6,1867.5 L3014.6,1870.9 L3018.6,1874.3 L3022.5,1877.9 L3026.5,1881.5 L3030.4,1885.2 L3034.3,1889.0 L3038.2,1892.8 L3042.2,1896.8 L3046.1,1900.8 L3050.0,1904.9 L3053.9,1909.1 L3057.8,1913.5 L3061.8,1917.9 L3065.8,1922.4 L3069.8,1927.0 L3073.8,1931.8 L3077.8,1936.7 L3081.7,1941.7 L3085.7,1946.9 L3089.7,1952.2 L3093.7,1957.7 L3097.8,1963.4 L3101.8,1969.2 L3105.8,1975.2 L3109.8,1981.4 L3113.9,1987.7 L3117.9,1994.2 L3122.0,2001.0 L3126.1,2008.0 L3139.9,2000.0 L3136.0,1992.9 L3132.0,1985.9 L3127.9,1979.1 L3123.9,1972.5 L3119.9,1966.0 L3115.9,1959.8 L3111.8,1953.7 L3107.8,1947.8 L3103.7,1942.1 L3099.7,1936.5 L3095.6,1931.1 L3091.5,1925.8 L3087.5,1920.6 L3083.4,1915.6 L3079.3,1910.8 L3075.3,1906.0 L3071.1,1901.4 L3067.0,1897.0 L3062.9,1892.7 L3058.7,1888.4 L3054.6,1884.3 L3050.4,1880.3 L3046.3,1876.4 L3042.2,1872.6 L3038.0,1868.8 L3033.9,1865.2 L3029.8,1861.6 L3025.7,1858.0 L3021.6,1854.5 L3017.5,1851.1 L3013.4,1847.7 L3009.4,1844.4 L3005.3,1841.2 L3001.2,1838.0 L2997.0,1834.9 L2992.9,1831.9 L2988.8,1828.9 L2984.7,1826.0 L2980.6,1823.1 L2976.5,1820.3 L2972.4,1817.5 L2968.3,1814.8 L2964.2,1812.1 L2960.1,1809.5 L2956.0,1806.9 L2951.9,1804.3 L2947.8,1801.8 L2943.7,1799.4 L2939.6,1797.0 L2935.5,1794.6 L2931.4,1792.2 L2927.3,1789.9 L2923.2,1787.6 L2919.2,1785.4 L2915.1,1783.2 L2911.0,1781.0 L2906.9,1778.9 L2902.8,1776.8 L2898.8,1774.7 L2894.7,1772.6 L2890.6,1770.6 L2886.5,1768.6 L2882.5,1766.6 L2878.4,1764.6 L2874.3,1762.7 L2870.3,1760.7 L2866.2,1758.8 L2862.1,1756.9 L2858.1,1755.1 L2854.0,1753.2 L2850.0,1751.3 L2845.9,1749.5 L2841.9,1747.7 L2837.8,1745.8 L2833.8,1744.0 L2829.7,1742.2 L2825.7,1740.4 L2821.6,1738.6 L2817.6,1736.8 L2813.5,1735.0 L2809.5,1733.2 L2805.5,1731.4 L2801.4,1729.6 L2797.4,1727.7 L2793.4,1725.9 L2789.4,1724.1 L2785.3,1722.2 L2781.3,1720.4 L2777.3,1718.5 L2773.3,1716.6 L2769.2,1714.7 L2765.2,1712.9 L2761.2,1711.0 L2757.2,1709.1 L2753.1,1707.2 L2749.1,1705.3 L2745.1,1703.4 L2741.0,1701.5 L2737.0,1699.6 L2733.0,1697.8 L2728.9,1695.9 L2724.9,1694.0 L2720.9,1692.1 L2716.8,1690.2 L2712.8,1688.4 L2708.8,1686.5 L2704.7,1684.7 L2700.7,1682.8 L2696.6,1681.0 L2692.6,1679.1 L2688.6,1677.3 L2684.5,1675.5 L2680.5,1673.7 L2676.4,1671.9 L2672.4,1670.1 L2668.3,1668.3 L2664.3,1666.6 L2660.2,1664.8 L2656.2,1663.1 L2652.1,1661.4 L2648.1,1659.7 L2644.0,1658.0 L2640.0,1656.4 L2635.9,1654.7 L2631.9,1653.1 L2627.8,1651.5 L2623.7,1649.9 L2619.7,1648.3 L2615.6,1646.8 L2611.6,1645.3 L2607.5,1643.7 L2603.5,1642.2 L2599.4,1640.8 L2595.3,1639.3 L2591.3,1637.9 L2587.2,1636.4 L2583.2,1635.0 L2579.1,1633.6 L2575.1,1632.3 L2571.0,1630.9 L2567.0,1629.6 L2562.9,1628.3 L2558.9,1626.9 L2554.8,1625.6 L2550.8,1624.3 L2546.7,1623.1 L2542.7,1621.8 L2538.7,1620.5 L2534.6,1619.3 L2530.6,1618.0 L2526.6,1616.8 L2522.5,1615.5 L2518.5,1614.3 L2514.5,1613.1 L2510.5,1611.8 L2506.5,1610.6 L2502.4,1609.4 L2498.4,1608.1 L2494.4,1606.9 L2490.4,1605.6 L2486.4,1604.3 L2482.4,1603.0 L2478.4,1601.7 L2474.4,1600.4 L2470.4,1599.1 L2466.4,1597.7 L2462.4,1596.4 L2458.4,1595.0 L2454.4,1593.6 L2450.4,1592.2 L2446.4,1590.8 L2442.4,1589.4 L2438.4,1588.0 L2434.4,1586.6 L2430.3,1585.2 L2426.3,1583.7 L2422.3,1582.3 L2418.3,1580.8 L2414.3,1579.4 L2410.3,1578.0 L2406.2,1576.5 L2402.2,1575.1 L2398.2,1573.6 L2394.2,1572.2 L2390.1,1570.7 L2386.1,1569.3 L2382.1,1567.9 L2378.1,1566.4 L2374.0,1565.0 L2370.0,1563.6 L2365.9,1562.2 L2361.9,1560.8 L2357.9,1559.4 L2353.8,1558.1 L2349.8,1556.8 L2345.7,1555.5 L2341.7,1554.2 L2337.6,1552.9 L2333.5,1551.7 L2329.5,1550.5 L2325.4,1549.2 L2321.4,1548.0 L2317.3,1546.8 L2313.2,1545.7 L2309.2,1544.5 L2305.1,1543.4 L2301.1,1542.2 L2297.0,1541.1 L2292.9,1540.0 L2288.9,1539.0 L2284.8,1537.9 L2280.8,1536.9 L2276.7,1535.9 L2272.6,1534.9 L2268.5,1533.9 L2264.5,1533.0 L2260.4,1532.0 L2256.3,1531.1 L2252.3,1530.2 L2248.2,1529.4 L2244.1,1528.5 L2240.0,1527.7 L2236.0,1526.9 L2231.9,1526.1 L2227.8,1525.3 L2223.8,1524.5 L2219.7,1523.8 L2215.6,1523.1 L2211.5,1522.4 L2207.5,1521.7 L2203.4,1521.1 L2199.3,1520.4 L2195.2,1519.8 L2191.2,1519.3Z" fill="#1a1a1a"/>
<circle cx="2190.0" cy="1527.2" r="8.0" fill="#1a1a1a"/>
<circle cx="3133.0" cy="2004.0" r="8.0" fill="#1a1a1a"/>
<path d="M2705.7,1662.9 L2706.0,1663.6 L2706.3,1664.4 L2706.7,1665.6 L2707.2,1666.9 L2707.8,1668.4 L2708.4,1670.1 L2709.1,1671.8 L2709.9,1673.6 L2710.8,1675.4 L2711.8,1677.2 L2712.9,1679.0 L2714.1,1680.6 L2715.2,1682.0 L2716.2,1683.2 L2717.4,1684.4 L2718.5,1685.6 L2719.8,1686.7 L2721.1,1687.9 L2722.6,1689.0 L2724.1,1690.1 L2725.8,1691.1 L2727.6,1692.2 L2729.5,1693.3 L2731.6,1694.4 L2734.0,1695.5 L2736.5,1696.7 L2739.3,1697.9 L2742.1,1699.1 L2745.1,1700.2 L2748.2,1701.4 L2751.3,1702.6 L2754.4,1703.7 L2757.5,1704.9 L2760.6,1706.0 L2763.6,1707.0 L2766.5,1708.1 L2769.4,1709.1 L2772.3,1710.1 L2775.3,1711.2 L2778.3,1712.2 L2781.3,1713.2 L2784.3,1714.2 L2787.3,1715.2 L2790.2,1716.1 L2793.0,1717.0 L2795.7,1717.8 L2798.4,1718.6 L2800.9,1719.3 L2803.5,1719.9 L2806.0,1720.3 L2808.4,1720.7 L2810.6,1720.9 L2812.6,1721.0 L2814.3,1721.2 L2815.9,1721.3 L2817.3,1721.5 L2818.6,1721.7 L2819.6,1721.9 L2820.6,1722.3 L2821.6,1722.7 L2822.5,1723.2 L2823.5,1724.0 L2824.7,1724.9 L2825.9,1726.1 L2827.1,1727.4 L2828.4,1728.8 L2829.8,1730.3 L2831.2,1731.9 L2832.7,1733.5 L2834.3,1735.1 L2836.1,1736.7 L2837.9,1738.1 L2839.7,1739.3 L2841.5,1740.3 L2843.1,1741.2 L2844.7,1741.9 L2846.3,1742.6 L2847.7,1743.2 L2849.1,1743.7 L2850.5,1744.2 L2851.8,1744.8 L2853.1,1745.3 L2854.4,1745.9 L2855.8,1746.6 L2857.4,1747.5 L2859.1,1748.4 L2860.9,1749.4 L2862.7,1750.4 L2864.5,1751.5 L2866.4,1752.6 L2868.3,1753.7 L2870.3,1754.9 L2872.2,1756.0 L2874.1,1757.2 L2876.1,1758.3 L2878.0,1759.4 L2879.9,1760.6 L2881.8,1761.7 L2883.7,1762.8 L2885.5,1763.9 L2887.4,1765.0 L2889.2,1766.1 L2891.1,1767.2 L2892.9,1768.3 L2894.7,1769.4 L2896.5,1770.6 L2898.2,1771.8 L2899.9,1773.0 L2901.6,1774.3 L2903.3,1775.7 L2905.1,1777.2 L2906.9,1778.8 L2908.7,1780.5 L2910.6,1782.2 L2912.5,1784.0 L2914.5,1785.7 L2916.5,1787.4 L2918.6,1789.1 L2920.7,1790.7 L2922.9,1792.3 L2925.1,1793.6 L2927.3,1794.8 L2929.3,1795.6 L2931.2,1796.3 L2932.9,1796.9 L2934.4,1797.4 L2935.9,1797.9 L2937.4,1798.5 L2939.1,1799.2 L2941.0,1800.2 L2943.2,1801.5 L2945.8,1803.2 L2948.9,1805.4 L2952.6,1808.1 L2956.7,1811.1 L2961.0,1814.4 L2965.6,1817.9 L2970.2,1821.6 L2974.9,1825.3 L2979.5,1828.9 L2983.9,1832.5 L2988.0,1835.9 L2991.8,1839.0 L2995.2,1841.8 L2998.1,1844.2 L3000.6,1846.3 L3002.8,1848.2 L3004.7,1849.9 L3006.4,1851.5 L3008.0,1853.0 L3009.7,1854.6 L3011.3,1856.3 L3013.1,1858.1 L3015.1,1860.2 L3017.4,1862.5 L3020.0,1865.2 L3022.9,1868.2 L3026.1,1871.5 L3029.4,1875.0 L3032.9,1878.6 L3036.5,1882.4 L3040.1,1886.3 L3043.8,1890.3 L3047.5,1894.3 L3051.1,1898.3 L3054.5,1902.2 L3057.9,1906.1 L3061.0,1909.8 L3064.1,1913.6 L3067.3,1917.6 L3070.5,1921.8 L3073.7,1926.1 L3076.8,1930.4 L3079.9,1934.7 L3082.8,1938.8 L3085.6,1942.7 L3088.1,1946.2 L3090.4,1949.4 L3092.3,1952.2 L3093.9,1954.4 L3106.1,1945.6 L3104.5,1943.4 L3102.6,1940.8 L3100.4,1937.6 L3097.8,1934.0 L3095.0,1930.1 L3092.1,1925.9 L3089.0,1921.6 L3085.7,1917.2 L3082.4,1912.8 L3079.1,1908.4 L3075.8,1904.2 L3072.6,1900.2 L3069.3,1896.3 L3065.8,1892.3 L3062.2,1888.3 L3058.6,1884.2 L3054.8,1880.1 L3051.1,1876.1 L3047.4,1872.1 L3043.8,1868.3 L3040.2,1864.6 L3036.9,1861.1 L3033.7,1857.8 L3030.8,1854.8 L3028.2,1852.1 L3025.9,1849.7 L3023.9,1847.6 L3022.0,1845.7 L3020.2,1843.9 L3018.4,1842.2 L3016.6,1840.5 L3014.7,1838.8 L3012.7,1836.9 L3010.4,1834.9 L3007.8,1832.7 L3004.8,1830.2 L3001.4,1827.4 L2997.5,1824.2 L2993.3,1820.8 L2988.8,1817.2 L2984.2,1813.5 L2979.5,1809.8 L2974.8,1806.1 L2970.1,1802.5 L2965.7,1799.1 L2961.5,1796.0 L2957.7,1793.2 L2954.2,1790.8 L2951.1,1788.8 L2948.2,1787.1 L2945.6,1785.7 L2943.2,1784.6 L2941.1,1783.8 L2939.2,1783.1 L2937.5,1782.6 L2936.1,1782.1 L2934.9,1781.7 L2933.7,1781.2 L2932.5,1780.6 L2931.1,1779.7 L2929.5,1778.6 L2927.9,1777.4 L2926.1,1775.9 L2924.4,1774.4 L2922.6,1772.8 L2920.7,1771.1 L2918.9,1769.4 L2916.9,1767.7 L2915.0,1765.9 L2913.0,1764.2 L2910.9,1762.5 L2908.9,1761.0 L2906.8,1759.5 L2904.8,1758.1 L2902.8,1756.8 L2900.8,1755.6 L2898.9,1754.4 L2896.9,1753.2 L2895.0,1752.0 L2893.1,1750.9 L2891.2,1749.8 L2889.3,1748.7 L2887.5,1747.7 L2885.6,1746.6 L2883.8,1745.4 L2881.8,1744.3 L2879.9,1743.1 L2877.9,1741.9 L2875.9,1740.8 L2874.0,1739.6 L2872.0,1738.5 L2870.1,1737.4 L2868.2,1736.3 L2866.4,1735.3 L2864.6,1734.3 L2862.8,1733.4 L2861.0,1732.4 L2859.2,1731.6 L2857.5,1730.9 L2856.0,1730.3 L2854.6,1729.7 L2853.2,1729.2 L2852.0,1728.7 L2850.9,1728.2 L2849.8,1727.7 L2848.7,1727.2 L2847.7,1726.6 L2846.7,1725.9 L2845.7,1725.1 L2844.6,1724.2 L2843.5,1723.1 L2842.3,1721.7 L2840.9,1720.3 L2839.5,1718.7 L2838.0,1717.1 L2836.4,1715.4 L2834.7,1713.8 L2832.8,1712.2 L2830.7,1710.7 L2828.4,1709.3 L2826.1,1708.3 L2823.8,1707.5 L2821.6,1707.0 L2819.5,1706.6 L2817.4,1706.4 L2815.5,1706.2 L2813.7,1706.1 L2811.9,1705.9 L2810.2,1705.8 L2808.4,1705.5 L2806.6,1705.2 L2804.7,1704.7 L2802.4,1704.1 L2800.0,1703.4 L2797.4,1702.6 L2794.6,1701.8 L2791.8,1700.9 L2789.0,1700.0 L2786.1,1699.0 L2783.1,1698.0 L2780.2,1697.0 L2777.3,1696.0 L2774.4,1695.0 L2771.5,1693.9 L2768.6,1692.9 L2765.7,1691.8 L2762.6,1690.7 L2759.6,1689.6 L2756.5,1688.5 L2753.5,1687.4 L2750.6,1686.3 L2747.7,1685.1 L2745.1,1684.0 L2742.6,1683.0 L2740.4,1682.0 L2738.4,1681.0 L2736.6,1680.1 L2735.1,1679.2 L2733.7,1678.4 L2732.5,1677.6 L2731.5,1676.9 L2730.5,1676.2 L2729.7,1675.5 L2728.9,1674.8 L2728.2,1674.0 L2727.4,1673.2 L2726.7,1672.3 L2725.9,1671.4 L2725.3,1670.6 L2724.7,1669.6 L2724.1,1668.5 L2723.5,1667.2 L2722.9,1665.9 L2722.3,1664.5 L2721.8,1663.1 L2721.3,1661.7 L2720.8,1660.4 L2720.3,1659.2 L2719.9,1658.0 L2719.5,1657.1Z" fill="#1a1a1a"/>
<circle cx="2712.6" cy="1660.0" r="7.5" fill="#1a1a1a"/>
<circle cx="3100.0" cy="1950.0" r="7.5" fill="#1a1a1a"/>
<circle cx="3133" cy="2005" r="9" fill="#1a1a1a"/>
<line x1="168.75" y1="94.40" x2="168.75" y2="923.50" stroke="#161616" stroke-width="2.1"/>
<line x1="154.75" y1="908.50" x2="1591.80" y2="908.50" stroke="#161616" stroke-width="2.1"/>
<line x1="154.75" y1="908.50" x2="168.75" y2="908.50" stroke="#161616" stroke-width="2.1"/>
<line x1="154.75" y1="746.16" x2="168.75" y2="746.16" stroke="#161616" stroke-width="2.1"/>
<line x1="154.75" y1="583.82" x2="168.75" y2="583.82" stroke="#161616" stroke-width="2.1"/>
<line x1="154.75" y1="421.48" x2="168.75" y2="421.48" stroke="#161616" stroke-width="2.1"/>
<line x1="154.75" y1="259.14" x2="168.75" y2="259.14" stroke="#161616" stroke-width="2.1"/>
<line x1="154.75" y1="96.80" x2="168.75" y2="96.80" stroke="#161616" stroke-width="2.1"/>
<line x1="168.75" y1="908.50" x2="168.75" y2="923.50" stroke="#161616" stroke-width="2.1"/>
<line x1="451.60" y1="908.50" x2="451.60" y2="923.50" stroke="#161616" stroke-width="2.1"/>
<line x1="735.90" y1="908.50" x2="735.90" y2="923.50" stroke="#161616" stroke-width="2.1"/>
<line x1="1022.00" y1="908.50" x2="1022.00" y2="923.50" stroke="#161616" stroke-width="2.1"/>
<line x1="1306.40" y1="908.50" x2="1306.40" y2="923.50" stroke="#161616" stroke-width="2.1"/>
<line x1="1587.10" y1="908.50" x2="1587.10" y2="923.50" stroke="#161616" stroke-width="2.1"/>
<line x1="1856.60" y1="85.00" x2="1856.60" y2="923.30" stroke="#161616" stroke-width="2.1"/>
<line x1="1842.60" y1="908.30" x2="3279.90" y2="908.30" stroke="#161616" stroke-width="2.1"/>
<line x1="1842.60" y1="908.30" x2="1856.60" y2="908.30" stroke="#161616" stroke-width="2.1"/>
<line x1="1842.60" y1="745.06" x2="1856.60" y2="745.06" stroke="#161616" stroke-width="2.1"/>
<line x1="1842.60" y1="581.82" x2="1856.60" y2="581.82" stroke="#161616" stroke-width="2.1"/>
<line x1="1842.60" y1="418.58" x2="1856.60" y2="418.58" stroke="#161616" stroke-width="2.1"/>
<line x1="1842.60" y1="255.34" x2="1856.60" y2="255.34" stroke="#161616" stroke-width="2.1"/>
<line x1="1842.60" y1="92.10" x2="1856.60" y2="92.10" stroke="#161616" stroke-width="2.1"/>
<line x1="1856.60" y1="908.30" x2="1856.60" y2="923.30" stroke="#161616" stroke-width="2.1"/>
<line x1="2092.28" y1="908.30" x2="2092.28" y2="923.30" stroke="#161616" stroke-width="2.1"/>
<line x1="2327.96" y1="908.30" x2="2327.96" y2="923.30" stroke="#161616" stroke-width="2.1"/>
<line x1="2563.64" y1="908.30" x2="2563.64" y2="923.30" stroke="#161616" stroke-width="2.1"/>
<line x1="2799.32" y1="908.30" x2="2799.32" y2="923.30" stroke="#161616" stroke-width="2.1"/>
<line x1="3031.60" y1="908.30" x2="3031.60" y2="923.30" stroke="#161616" stroke-width="2.1"/>
<line x1="3270.68" y1="908.30" x2="3270.68" y2="923.30" stroke="#161616" stroke-width="2.1"/>
<line x1="168.75" y1="1360.30" x2="168.75" y2="2190.00" stroke="#161616" stroke-width="2.1"/>
<line x1="154.75" y1="2175.00" x2="1605.00" y2="2175.00" stroke="#161616" stroke-width="2.1"/>
<line x1="154.75" y1="2175.00" x2="168.75" y2="2175.00" stroke="#161616" stroke-width="2.1"/>
<line x1="154.75" y1="2015.08" x2="168.75" y2="2015.08" stroke="#161616" stroke-width="2.1"/>
<line x1="154.75" y1="1855.16" x2="168.75" y2="1855.16" stroke="#161616" stroke-width="2.1"/>
<line x1="154.75" y1="1695.24" x2="168.75" y2="1695.24" stroke="#161616" stroke-width="2.1"/>
<line x1="154.75" y1="1535.32" x2="168.75" y2="1535.32" stroke="#161616" stroke-width="2.1"/>
<line x1="154.75" y1="1375.40" x2="168.75" y2="1375.40" stroke="#161616" stroke-width="2.1"/>
<line x1="168.75" y1="2175.00" x2="168.75" y2="2190.00" stroke="#161616" stroke-width="2.1"/>
<line x1="407.09" y1="2175.00" x2="407.09" y2="2190.00" stroke="#161616" stroke-width="2.1"/>
<line x1="645.43" y1="2175.00" x2="645.43" y2="2190.00" stroke="#161616" stroke-width="2.1"/>
<line x1="883.77" y1="2175.00" x2="883.77" y2="2190.00" stroke="#161616" stroke-width="2.1"/>
<line x1="1122.11" y1="2175.00" x2="1122.11" y2="2190.00" stroke="#161616" stroke-width="2.1"/>
<line x1="1360.45" y1="2175.00" x2="1360.45" y2="2190.00" stroke="#161616" stroke-width="2.1"/>
<line x1="1598.79" y1="2175.00" x2="1598.79" y2="2190.00" stroke="#161616" stroke-width="2.1"/>
<line x1="1856.60" y1="1417.30" x2="1856.60" y2="2189.70" stroke="#161616" stroke-width="2.1"/>
<line x1="1842.60" y1="2174.70" x2="3267.70" y2="2174.70" stroke="#161616" stroke-width="2.1"/>
<line x1="1842.60" y1="2174.70" x2="1856.60" y2="2174.70" stroke="#161616" stroke-width="2.1"/>
<line x1="1842.60" y1="2023.98" x2="1856.60" y2="2023.98" stroke="#161616" stroke-width="2.1"/>
<line x1="1842.60" y1="1873.26" x2="1856.60" y2="1873.26" stroke="#161616" stroke-width="2.1"/>
<line x1="1842.60" y1="1722.54" x2="1856.60" y2="1722.54" stroke="#161616" stroke-width="2.1"/>
<line x1="1842.60" y1="1571.82" x2="1856.60" y2="1571.82" stroke="#161616" stroke-width="2.1"/>
<line x1="1842.60" y1="1421.10" x2="1856.60" y2="1421.10" stroke="#161616" stroke-width="2.1"/>
<line x1="1856.60" y1="2174.70" x2="1856.60" y2="2189.70" stroke="#161616" stroke-width="2.1"/>
<line x1="2091.12" y1="2174.70" x2="2091.12" y2="2189.70" stroke="#161616" stroke-width="2.1"/>
<line x1="2325.64" y1="2174.70" x2="2325.64" y2="2189.70" stroke="#161616" stroke-width="2.1"/>
<line x1="2560.16" y1="2174.70" x2="2560.16" y2="2189.70" stroke="#161616" stroke-width="2.1"/>
<line x1="2794.68" y1="2174.70" x2="2794.68" y2="2189.70" stroke="#161616" stroke-width="2.1"/>
<line x1="3029.20" y1="2174.70" x2="3029.20" y2="2189.70" stroke="#161616" stroke-width="2.1"/>
<line x1="3263.72" y1="2174.70" x2="3263.72" y2="2189.70" stroke="#161616" stroke-width="2.1"/>
<line x1="1022.00" y1="545.60" x2="1022.00" y2="814.00" stroke="#161616" stroke-width="1.8"/>
<line x1="1159.30" y1="626.25" x2="1159.30" y2="884.00" stroke="#161616" stroke-width="1.8"/>
<line x1="1306.40" y1="700.00" x2="1306.40" y2="923.00" stroke="#161616" stroke-width="1.8"/>
<line x1="2918.20" y1="296.30" x2="2918.20" y2="506.00" stroke="#161616" stroke-width="1.8"/>
<line x1="3031.60" y1="442.40" x2="3031.60" y2="640.00" stroke="#161616" stroke-width="1.8"/>
<line x1="3142.30" y1="610.00" x2="3142.30" y2="826.00" stroke="#161616" stroke-width="1.8"/>
<line x1="1236.80" y1="1703.40" x2="1236.80" y2="1914.00" stroke="#161616" stroke-width="1.8"/>
<line x1="1360.00" y1="1858.50" x2="1360.00" y2="2064.00" stroke="#161616" stroke-width="1.8"/>
<line x1="1466.40" y1="1934.00" x2="1466.40" y2="2142.00" stroke="#161616" stroke-width="1.8"/>
<line x1="2906.40" y1="1581.60" x2="2906.40" y2="1737.00" stroke="#161616" stroke-width="1.8"/>
<line x1="3028.70" y1="1679.40" x2="3028.70" y2="1856.00" stroke="#161616" stroke-width="1.8"/>
<line x1="3134.90" y1="1796.30" x2="3134.90" y2="2005.00" stroke="#161616" stroke-width="1.8"/>
<line x1="2448.40" y1="187.50" x2="2629.10" y2="265.90" stroke="#161616" stroke-width="1.8"/>
<polygon points="2658.0,277.9 2624.7,275.8 2633.5,256.0" fill="#161616"/>
<line x1="2606.30" y1="435.80" x2="2426.05" y2="359.90" stroke="#161616" stroke-width="1.8"/>
<polygon points="2396.7,348.1 2430.0,349.8 2422.1,370.0" fill="#161616"/>
<line x1="809.30" y1="1523.00" x2="976.55" y2="1625.85" stroke="#161616" stroke-width="1.8"/>
<polygon points="1003.3,1641.5 970.7,1635.0 982.4,1616.7" fill="#161616"/>
<line x1="904.30" y1="1800.30" x2="743.55" y2="1688.30" stroke="#161616" stroke-width="1.8"/>
<polygon points="718.1,1670.1 737.7,1697.4 749.4,1679.2" fill="#161616"/>
<line x1="2413.40" y1="1478.10" x2="2593.35" y2="1557.45" stroke="#161616" stroke-width="1.8"/>
<polygon points="2622.7,1569.8 2588.8,1567.2 2597.9,1547.7" fill="#161616"/>
<line x1="2608.30" y1="1717.50" x2="2429.30" y2="1638.20" stroke="#161616" stroke-width="1.8"/>
<polygon points="2401.3,1625.8 2424.7,1648.0 2433.9,1628.4" fill="#161616"/>
<circle cx="883.50" cy="1019.80" r="4.9" fill="none" stroke="#161616" stroke-width="1.6"/>
<circle cx="2571.50" cy="1019.80" r="4.9" fill="none" stroke="#161616" stroke-width="1.6"/>
<circle cx="895.50" cy="2286.70" r="4.9" fill="none" stroke="#161616" stroke-width="1.6"/>
<circle cx="2583.40" cy="2286.70" r="4.9" fill="none" stroke="#161616" stroke-width="1.6"/>
<circle cx="1080.80" cy="511.15" r="4.9" fill="none" stroke="#161616" stroke-width="1.7"/>
<circle cx="1223.90" cy="592.15" r="4.9" fill="none" stroke="#161616" stroke-width="1.7"/>
<circle cx="1374.50" cy="660.25" r="4.9" fill="none" stroke="#161616" stroke-width="1.7"/>
<circle cx="2986.60" cy="255.45" r="4.9" fill="none" stroke="#161616" stroke-width="1.7"/>
<circle cx="3128.70" cy="395.45" r="4.9" fill="none" stroke="#161616" stroke-width="1.7"/>
<circle cx="3241.10" cy="563.15" r="4.9" fill="none" stroke="#161616" stroke-width="1.7"/>
<circle cx="1315.10" cy="1663.55" r="4.9" fill="none" stroke="#161616" stroke-width="1.7"/>
<circle cx="1433.20" cy="1823.75" r="4.9" fill="none" stroke="#161616" stroke-width="1.7"/>
<circle cx="1559.70" cy="1908.55" r="4.9" fill="none" stroke="#161616" stroke-width="1.7"/>
<circle cx="2955.30" cy="1540.15" r="4.9" fill="none" stroke="#161616" stroke-width="1.7"/>
<circle cx="3118.00" cy="1638.75" r="4.9" fill="none" stroke="#161616" stroke-width="1.7"/>
<circle cx="3231.90" cy="1754.55" r="4.9" fill="none" stroke="#161616" stroke-width="1.7"/>
<text transform="matrix(0.41901 0 0 0.45373 127.18 922.79)" font-size="100">0</text>
<text transform="matrix(0.41901 0 0 0.45373 95.29 760.45)" font-size="100">0.2</text>
<text transform="matrix(0.41901 0 0 0.45373 93.61 598.11)" font-size="100">0.4</text>
<text transform="matrix(0.41901 0 0 0.45373 94.03 435.77)" font-size="100">0.6</text>
<text transform="matrix(0.41901 0 0 0.45373 94.45 273.43)" font-size="100">0.8</text>
<text transform="matrix(0.41901 0 0 0.46061 125.31 112.00)" font-size="100">1</text>
<text transform="matrix(0.41901 0 0 0.45373 158.27 961.99)" font-size="100">0</text>
<text transform="matrix(0.41901 0 0 0.44706 419.13 962.01)" font-size="100">100</text>
<text transform="matrix(0.41901 0 0 0.45373 704.47 961.99)" font-size="100">200</text>
<text transform="matrix(0.41901 0 0 0.45373 990.36 961.99)" font-size="100">300</text>
<text transform="matrix(0.41901 0 0 0.45373 1275.39 961.99)" font-size="100">400</text>
<text transform="matrix(0.41901 0 0 0.45373 1555.25 961.99)" font-size="100">500</text>
<text transform="matrix(0.41901 0 0 0.45373 1815.03 922.59)" font-size="100">0</text>
<text transform="matrix(0.41901 0 0 0.45373 1783.14 759.35)" font-size="100">0.2</text>
<text transform="matrix(0.41901 0 0 0.45373 1781.46 596.11)" font-size="100">0.4</text>
<text transform="matrix(0.41901 0 0 0.45373 1781.88 432.87)" font-size="100">0.6</text>
<text transform="matrix(0.41901 0 0 0.45373 1782.30 269.63)" font-size="100">0.8</text>
<text transform="matrix(0.41901 0 0 0.46061 1813.16 107.30)" font-size="100">1</text>
<text transform="matrix(0.41901 0 0 0.45373 1846.12 961.79)" font-size="100">0</text>
<text transform="matrix(0.41901 0 0 0.44706 2059.81 961.81)" font-size="100">100</text>
<text transform="matrix(0.41901 0 0 0.45373 2296.53 961.79)" font-size="100">200</text>
<text transform="matrix(0.41901 0 0 0.45373 2532.00 961.79)" font-size="100">300</text>
<text transform="matrix(0.41901 0 0 0.45373 2768.31 961.79)" font-size="100">400</text>
<text transform="matrix(0.41901 0 0 0.45373 2999.75 961.79)" font-size="100">500</text>
<text transform="matrix(0.41901 0 0 0.45373 3239.25 961.79)" font-size="100">600</text>
<text transform="matrix(0.41901 0 0 0.45373 127.18 2189.29)" font-size="100">0</text>
<text transform="matrix(0.41901 0 0 0.45373 95.29 2029.37)" font-size="100">0.2</text>
<text transform="matrix(0.41901 0 0 0.45373 93.61 1869.45)" font-size="100">0.4</text>
<text transform="matrix(0.41901 0 0 0.45373 94.03 1709.53)" font-size="100">0.6</text>
<text transform="matrix(0.41901 0 0 0.45373 94.45 1549.61)" font-size="100">0.8</text>
<text transform="matrix(0.41901 0 0 0.46061 125.31 1390.60)" font-size="100">1</text>
<text transform="matrix(0.41901 0 0 0.45373 158.27 2228.49)" font-size="100">0</text>
<text transform="matrix(0.41901 0 0 0.44706 374.62 2228.51)" font-size="100">100</text>
<text transform="matrix(0.41901 0 0 0.45373 614.00 2228.49)" font-size="100">200</text>
<text transform="matrix(0.41901 0 0 0.45373 852.13 2228.49)" font-size="100">300</text>
<text transform="matrix(0.41901 0 0 0.45373 1091.10 2228.49)" font-size="100">400</text>
<text transform="matrix(0.41901 0 0 0.45373 1328.60 2228.49)" font-size="100">500</text>
<text transform="matrix(0.41901 0 0 0.45373 1567.36 2228.49)" font-size="100">600</text>
<text transform="matrix(0.41901 0 0 0.45373 1815.03 2188.99)" font-size="100">0</text>
<text transform="matrix(0.41901 0 0 0.45373 1783.14 2038.27)" font-size="100">0.2</text>
<text transform="matrix(0.41901 0 0 0.45373 1781.46 1887.55)" font-size="100">0.4</text>
<text transform="matrix(0.41901 0 0 0.45373 1781.88 1736.83)" font-size="100">0.6</text>
<text transform="matrix(0.41901 0 0 0.45373 1782.30 1586.11)" font-size="100">0.8</text>
<text transform="matrix(0.41901 0 0 0.46061 1813.16 1436.30)" font-size="100">1</text>
<text transform="matrix(0.41901 0 0 0.45373 1846.12 2228.19)" font-size="100">0</text>
<text transform="matrix(0.41901 0 0 0.44706 2058.65 2228.21)" font-size="100">100</text>
<text transform="matrix(0.41901 0 0 0.45373 2294.21 2228.19)" font-size="100">200</text>
<text transform="matrix(0.41901 0 0 0.45373 2528.52 2228.19)" font-size="100">300</text>
<text transform="matrix(0.41901 0 0 0.45373 2763.67 2228.19)" font-size="100">400</text>
<text transform="matrix(0.41901 0 0 0.45373 2997.35 2228.19)" font-size="100">500</text>
<text transform="matrix(0.41901 0 0 0.45373 3232.29 2228.19)" font-size="100">600</text>
<text transform="matrix(0.44466 0 0 0.41667 849.82 48.15)" font-size="100">(а)</text>
<text transform="matrix(0.43546 0 0 0.40978 730.76 124.19)" font-size="100">Образец К17-14</text>
<text transform="matrix(0.44905 0 0 0.41667 2536.95 48.25)" font-size="100">(в)</text>
<text transform="matrix(0.43756 0 0 0.40761 2433.45 124.24)" font-size="100">Образец К17-7</text>
<text transform="matrix(0.43670 0 0 0.41250 848.75 1315.09)" font-size="100">(б)</text>
<text transform="matrix(0.43804 0 0 0.41250 740.95 1400.54)" font-size="100">Образец К17-6</text>
<text transform="matrix(0.43838 0 0 0.42167 2538.85 1314.89)" font-size="100">(г)</text>
<text transform="matrix(0.43778 0 0 0.41250 2433.45 1400.54)" font-size="100">Образец К17-8</text>
<text transform="matrix(0.47407 0 0 0.45385 828.78 1039.90)" font-size="100" font-style="italic">T</text>
<text transform="matrix(0.40667 0 0 0.46000 855.17 1040.00)" font-size="100">,</text>
<text transform="matrix(0.47982 0 0 0.45224 890.93 1039.40)" font-size="100">C</text>
<text transform="matrix(0.47407 0 0 0.45385 2516.78 1039.90)" font-size="100" font-style="italic">T</text>
<text transform="matrix(0.40667 0 0 0.46000 2543.17 1040.00)" font-size="100">,</text>
<text transform="matrix(0.47982 0 0 0.45224 2578.93 1039.40)" font-size="100">C</text>
<text transform="matrix(0.47407 0 0 0.45385 840.78 2306.80)" font-size="100" font-style="italic">T</text>
<text transform="matrix(0.40667 0 0 0.46000 867.17 2306.90)" font-size="100">,</text>
<text transform="matrix(0.47982 0 0 0.45224 902.93 2306.30)" font-size="100">C</text>
<text transform="matrix(0.47407 0 0 0.45385 2528.68 2306.80)" font-size="100" font-style="italic">T</text>
<text transform="matrix(0.40667 0 0 0.46000 2555.07 2306.90)" font-size="100">,</text>
<text transform="matrix(0.47982 0 0 0.45224 2590.83 2306.30)" font-size="100">C</text>
<text transform="matrix(0.48333 0 0 0.46462 919.22 531.70)" font-size="100" font-style="italic">T</text>
<text transform="matrix(0.25714 0 0 0.31364 944.59 539.80)" font-size="100">1</text>
<text transform="matrix(0.54255 0 0 0.39600 967.69 529.12)" font-size="100">=</text>
<text transform="matrix(0.41560 0 0 0.45522 1008.12 531.09)" font-size="100">300</text>
<text transform="matrix(0.48246 0 0 0.46269 1088.27 531.17)" font-size="100">C</text>
<text transform="matrix(0.48333 0 0 0.46462 1062.32 612.70)" font-size="100" font-style="italic">T</text>
<text transform="matrix(0.31250 0 0 0.31846 1086.85 620.80)" font-size="100">2</text>
<text transform="matrix(0.54255 0 0 0.39600 1110.79 610.12)" font-size="100">=</text>
<text transform="matrix(0.41560 0 0 0.45522 1151.22 612.09)" font-size="100">350</text>
<text transform="matrix(0.48246 0 0 0.46269 1231.37 612.17)" font-size="100">C</text>
<text transform="matrix(0.48333 0 0 0.46462 1212.92 680.80)" font-size="100" font-style="italic">T</text>
<text transform="matrix(0.28537 0 0 0.31364 1238.07 688.59)" font-size="100">3</text>
<text transform="matrix(0.54255 0 0 0.39600 1261.39 678.22)" font-size="100">=</text>
<text transform="matrix(0.40694 0 0 0.45522 1303.09 680.19)" font-size="100">400</text>
<text transform="matrix(0.48246 0 0 0.46269 1381.97 680.27)" font-size="100">C</text>
<text transform="matrix(0.48333 0 0 0.46462 2825.02 276.00)" font-size="100" font-style="italic">T</text>
<text transform="matrix(0.25714 0 0 0.31364 2850.39 284.10)" font-size="100">1</text>
<text transform="matrix(0.54255 0 0 0.39600 2873.49 273.42)" font-size="100">=</text>
<text transform="matrix(0.40694 0 0 0.45522 2915.19 275.39)" font-size="100">450</text>
<text transform="matrix(0.48246 0 0 0.46269 2994.07 275.47)" font-size="100">C</text>
<text transform="matrix(0.48333 0 0 0.46462 2967.12 416.00)" font-size="100" font-style="italic">T</text>
<text transform="matrix(0.31250 0 0 0.31846 2991.65 424.10)" font-size="100">2</text>
<text transform="matrix(0.54255 0 0 0.39600 3015.59 413.42)" font-size="100">=</text>
<text transform="matrix(0.41857 0 0 0.45522 3055.59 415.39)" font-size="100">500</text>
<text transform="matrix(0.48246 0 0 0.46269 3136.17 415.47)" font-size="100">C</text>
<text transform="matrix(0.48333 0 0 0.46462 3079.52 583.70)" font-size="100" font-style="italic">T</text>
<text transform="matrix(0.28537 0 0 0.31364 3104.67 591.49)" font-size="100">3</text>
<text transform="matrix(0.54255 0 0 0.39600 3127.99 581.12)" font-size="100">=</text>
<text transform="matrix(0.41857 0 0 0.45522 3167.99 583.09)" font-size="100">550</text>
<text transform="matrix(0.48246 0 0 0.46269 3248.57 583.17)" font-size="100">C</text>
<text transform="matrix(0.48333 0 0 0.46462 1153.52 1684.10)" font-size="100" font-style="italic">T</text>
<text transform="matrix(0.25714 0 0 0.31364 1178.89 1692.20)" font-size="100">1</text>
<text transform="matrix(0.54255 0 0 0.39600 1201.99 1681.52)" font-size="100">=</text>
<text transform="matrix(0.40694 0 0 0.45522 1243.69 1683.49)" font-size="100">450</text>
<text transform="matrix(0.48246 0 0 0.46269 1322.57 1683.57)" font-size="100">C</text>
<text transform="matrix(0.48333 0 0 0.46462 1271.62 1844.30)" font-size="100" font-style="italic">T</text>
<text transform="matrix(0.31250 0 0 0.31846 1296.15 1852.40)" font-size="100">2</text>
<text transform="matrix(0.54255 0 0 0.39600 1320.09 1841.72)" font-size="100">=</text>
<text transform="matrix(0.41857 0 0 0.45522 1360.09 1843.69)" font-size="100">500</text>
<text transform="matrix(0.48246 0 0 0.46269 1440.67 1843.77)" font-size="100">C</text>
<text transform="matrix(0.48333 0 0 0.46462 1398.12 1929.10)" font-size="100" font-style="italic">T</text>
<text transform="matrix(0.28537 0 0 0.31364 1423.27 1936.89)" font-size="100">3</text>
<text transform="matrix(0.54255 0 0 0.39600 1446.59 1926.52)" font-size="100">=</text>
<text transform="matrix(0.41857 0 0 0.45522 1486.59 1928.49)" font-size="100">550</text>
<text transform="matrix(0.48246 0 0 0.46269 1567.17 1928.57)" font-size="100">C</text>
<text transform="matrix(0.48333 0 0 0.46462 2793.72 1560.70)" font-size="100" font-style="italic">T</text>
<text transform="matrix(0.25714 0 0 0.31364 2819.09 1568.80)" font-size="100">1</text>
<text transform="matrix(0.54255 0 0 0.39600 2842.19 1558.12)" font-size="100">=</text>
<text transform="matrix(0.40694 0 0 0.45522 2883.89 1560.09)" font-size="100">450</text>
<text transform="matrix(0.48246 0 0 0.46269 2962.77 1560.17)" font-size="100">C</text>
<text transform="matrix(0.48333 0 0 0.46462 2956.42 1659.30)" font-size="100" font-style="italic">T</text>
<text transform="matrix(0.31250 0 0 0.31846 2980.95 1667.40)" font-size="100">2</text>
<text transform="matrix(0.54255 0 0 0.39600 3004.89 1656.72)" font-size="100">=</text>
<text transform="matrix(0.41857 0 0 0.45522 3044.89 1658.69)" font-size="100">500</text>
<text transform="matrix(0.48246 0 0 0.46269 3125.47 1658.77)" font-size="100">C</text>
<text transform="matrix(0.48333 0 0 0.46462 3070.32 1775.10)" font-size="100" font-style="italic">T</text>
<text transform="matrix(0.28537 0 0 0.31364 3095.47 1782.89)" font-size="100">3</text>
<text transform="matrix(0.54255 0 0 0.39600 3118.79 1772.52)" font-size="100">=</text>
<text transform="matrix(0.41857 0 0 0.46212 3158.79 1774.94)" font-size="100">545</text>
<text transform="matrix(0.48246 0 0 0.46269 3239.37 1774.57)" font-size="100">C</text>
<text transform="matrix(0 -0.55204 0.46000 0 49.60 560.40)" font-size="100" font-style="italic">I/I</text>
<text transform="matrix(0 -0.42089 0.46000 0 49.60 508.48)" font-size="100">(20)</text>
<text transform="matrix(0 -0.55204 0.46000 0 1738.00 560.40)" font-size="100" font-style="italic">I/I</text>
<text transform="matrix(0 -0.42089 0.46000 0 1738.00 508.48)" font-size="100">(20)</text>
<text transform="matrix(0 -0.55204 0.46000 0 49.80 1836.50)" font-size="100" font-style="italic">I/I</text>
<text transform="matrix(0 -0.42089 0.46000 0 49.80 1784.58)" font-size="100">(20)</text>
<text transform="matrix(0 -0.55204 0.46000 0 1738.00 1836.50)" font-size="100" font-style="italic">I/I</text>
<text transform="matrix(0 -0.42089 0.46000 0 1738.00 1784.58)" font-size="100">(20)</text>
</svg>
</body></html>
